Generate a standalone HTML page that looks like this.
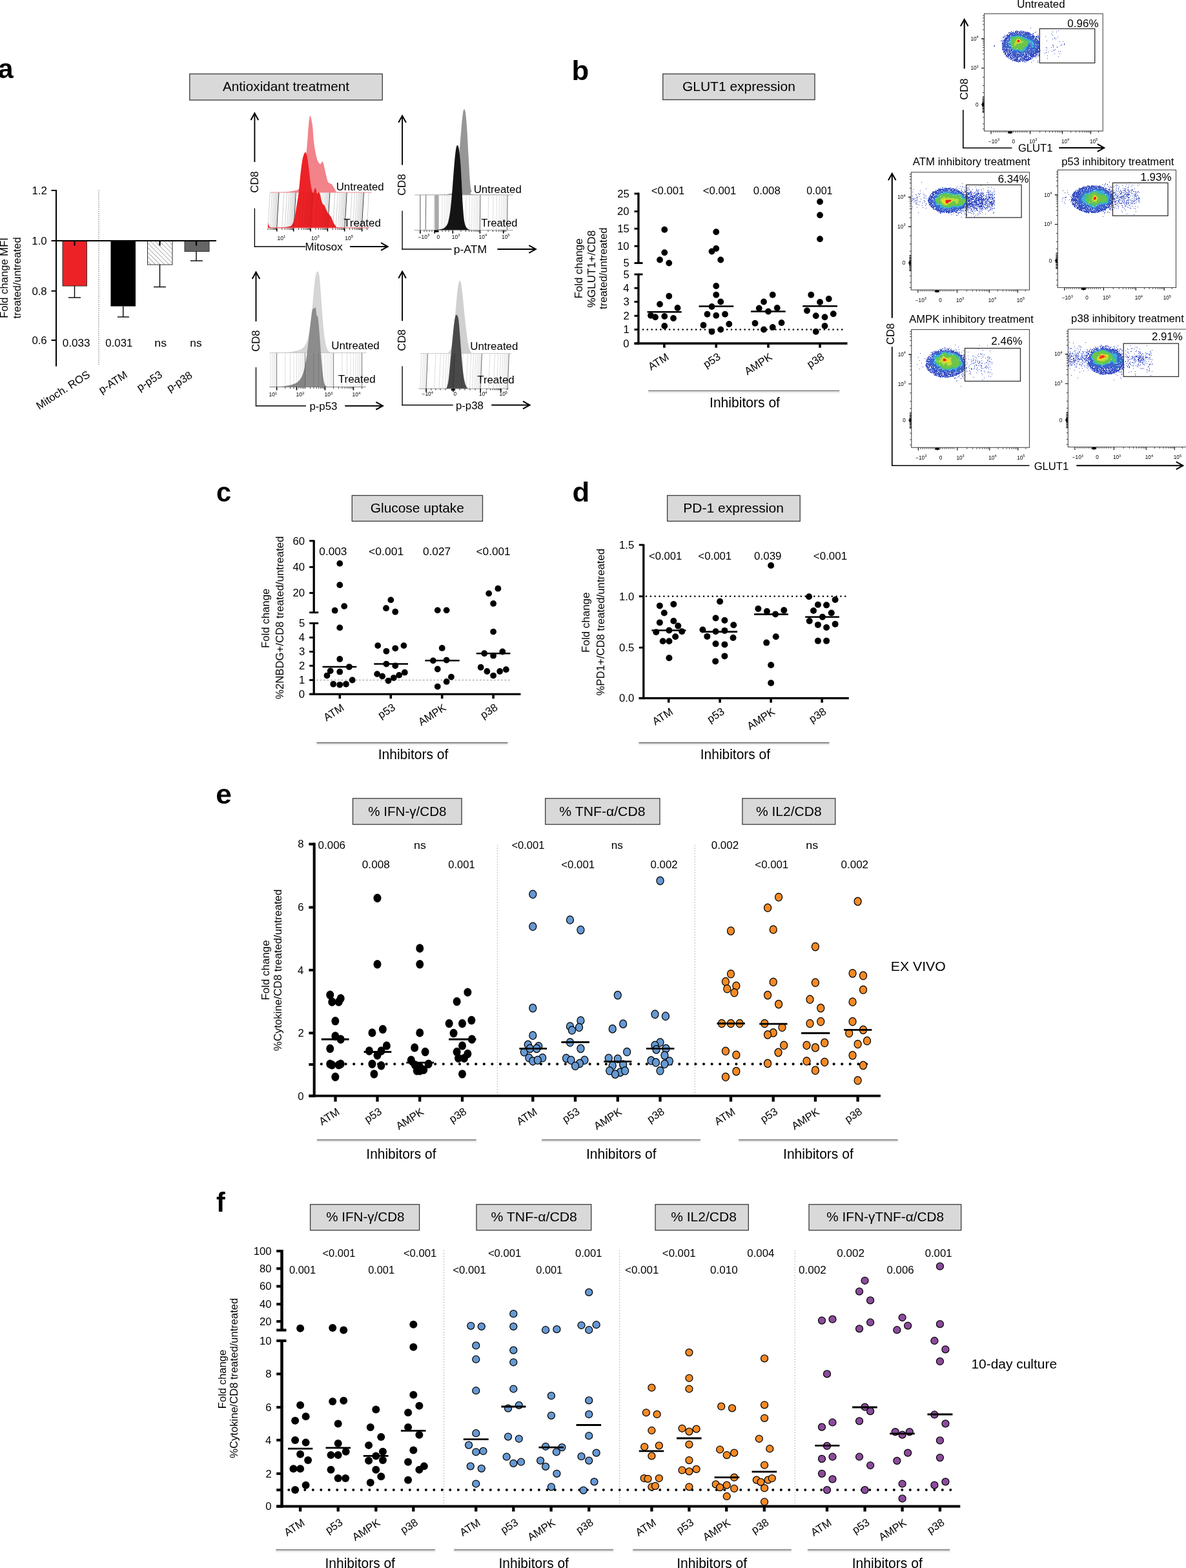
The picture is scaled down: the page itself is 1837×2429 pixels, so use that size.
<!DOCTYPE html>
<html><head><meta charset="utf-8"><title>Figure</title>
<style>html,body{margin:0;padding:0;background:#fff;overflow:hidden;width:1837px;height:2429px;}svg{display:block;}
text{font-family:"Liberation Sans",Arial,Helvetica,sans-serif;}</style></head>
<body><svg width="1837" height="2429" viewBox="0 0 1837 2429">
<rect width="1837" height="2429" fill="#fff"/>
<defs>
<pattern id="hatch" patternUnits="userSpaceOnUse" width="5" height="5" patternTransform="rotate(-45)"><rect width="5" height="5" fill="#fff"/><line x1="0" y1="0" x2="0" y2="5" stroke="#777" stroke-width="1.2"/></pattern>
</defs>
<text x="-3.36" y="121.4" style="font-size:43px;font-weight:bold">a</text>
<rect x="293.75" y="114.5" width="298.5" height="40.5" fill="#d9d9d9" stroke="#3a3a3a" stroke-width="1.3"/>
<text x="344.96" y="141.25" style="font-size:20.8px" textLength="196.19" lengthAdjust="spacingAndGlyphs">Antioxidant treatment</text>
<line x1="87" y1="294" x2="87" y2="567.5" stroke="#000" stroke-width="2"/>
<line x1="79.5" y1="295" x2="87" y2="295" stroke="#000" stroke-width="2"/>
<text x="49.49" y="300.9" style="font-size:16.8px">1.2</text>
<line x1="79.5" y1="373" x2="87" y2="373" stroke="#000" stroke-width="2"/>
<text x="49.3" y="378.9" style="font-size:16.8px">1.0</text>
<line x1="79.5" y1="450.75" x2="87" y2="450.75" stroke="#000" stroke-width="2"/>
<text x="49.38" y="456.65" style="font-size:16.8px">0.8</text>
<line x1="79.5" y1="527" x2="87" y2="527" stroke="#000" stroke-width="2"/>
<text x="49.38" y="532.9" style="font-size:16.8px">0.6</text>
<line x1="153" y1="295" x2="153" y2="566" stroke="#444" stroke-width="1" stroke-dasharray="1.2,2"/>
<rect x="97" y="373" width="37.5" height="70" fill="#ec2227" stroke="#333" stroke-width="1"/>
<rect x="171.5" y="373" width="38.5" height="101.5" fill="#000"/>
<rect x="228.5" y="373" width="38.5" height="37" fill="url(#hatch)" stroke="#333" stroke-width="1"/>
<rect x="286" y="373" width="38" height="16.5" fill="#656565" stroke="#333" stroke-width="1"/>
<line x1="115.5" y1="443" x2="115.5" y2="461" stroke="#000" stroke-width="1.4"/>
<line x1="106" y1="461" x2="125" y2="461" stroke="#000" stroke-width="1.4"/>
<line x1="115.5" y1="373" x2="115.5" y2="380.5" stroke="#000" stroke-width="2.2"/>
<line x1="190.75" y1="474.5" x2="190.75" y2="491" stroke="#000" stroke-width="1.4"/>
<line x1="182" y1="491" x2="200" y2="491" stroke="#000" stroke-width="1.4"/>
<line x1="190.75" y1="373" x2="190.75" y2="380.5" stroke="#000" stroke-width="2.2"/>
<line x1="247.5" y1="410" x2="247.5" y2="444.5" stroke="#000" stroke-width="1.4"/>
<line x1="238" y1="444.5" x2="257" y2="444.5" stroke="#000" stroke-width="1.4"/>
<line x1="247.5" y1="373" x2="247.5" y2="380.5" stroke="#000" stroke-width="2.2"/>
<line x1="304" y1="389.5" x2="304" y2="404" stroke="#000" stroke-width="1.4"/>
<line x1="295" y1="404" x2="314" y2="404" stroke="#000" stroke-width="1.4"/>
<line x1="304" y1="373" x2="304" y2="380.5" stroke="#000" stroke-width="2.2"/>
<line x1="86" y1="373" x2="335" y2="373" stroke="#000" stroke-width="2.2"/>
<text x="96.83" y="537" style="font-size:16.8px" textLength="42.72" lengthAdjust="spacingAndGlyphs">0.033</text>
<text x="163.34" y="537" style="font-size:16.8px" textLength="41.97" lengthAdjust="spacingAndGlyphs">0.031</text>
<text x="239.32" y="537" style="font-size:16.8px" textLength="18.83" lengthAdjust="spacingAndGlyphs">ns</text>
<text x="294.35" y="537" style="font-size:16.8px" textLength="18.27" lengthAdjust="spacingAndGlyphs">ns</text>
<text x="45.55" y="583.5" style="font-size:16.8px" transform="rotate(-33 140 583.5)">Mitoch. ROS</text>
<text x="149.48" y="583.5" style="font-size:16.8px" transform="rotate(-33 198.5 583.5)">p-ATM</text>
<text x="209.77" y="583.5" style="font-size:16.8px" transform="rotate(-33 252 583.5)">p-p53</text>
<text x="256.26" y="584.5" style="font-size:16.8px" transform="rotate(-33 298.5 584.5)">p-p38</text>
<text x="-50.01" y="430.5" style="font-size:16.8px" textLength="124.59" lengthAdjust="spacingAndGlyphs" transform="rotate(-90 12.2 430.5)">Fold change MFI</text>
<text x="-30.3" y="430.8" style="font-size:16.8px" textLength="126.42" lengthAdjust="spacingAndGlyphs" transform="rotate(-90 32.5 430.8)">treated/untreated</text>
<line x1="394.4" y1="175.4" x2="394.4" y2="251" stroke="#000" stroke-width="1.9"/>
<path d="M388.6 185.9 L394.4 175.4 L400.2 185.9" fill="none" stroke="#000" stroke-width="2" stroke-linejoin="miter"/>
<text x="382.73" y="281.8" style="font-size:16.8px" transform="rotate(-90 399.6 281.8)">CD8</text>
<line x1="394.4" y1="322.7" x2="394.4" y2="382.65" stroke="#000" stroke-width="1.35"/>
<line x1="393.75" y1="382" x2="473" y2="382" stroke="#000" stroke-width="1.35"/>
<text x="472.62" y="388.3" style="font-size:16.8px" textLength="57.96" lengthAdjust="spacingAndGlyphs">Mitosox</text>
<line x1="542" y1="382" x2="600.6" y2="382" stroke="#000" stroke-width="1.9"/>
<path d="M590.1 376.2 L600.6 382 L590.1 387.8" fill="none" stroke="#000" stroke-width="2"/>
<path d="M418.58 298.03 C422.05 297.98 434.13 297.98 439.4 297.72 C444.67 297.47 447.11 296.95 450.2 296.49 C453.28 296.03 455.85 295.54 457.91 294.95 C459.97 294.36 460.99 294.87 462.54 292.94 C464.08 291.01 465.62 288.83 467.16 283.38 C468.7 277.93 470.38 270.01 471.79 260.25 C473.2 250.48 474.62 235.83 475.64 224.77 C476.67 213.72 477.26 201.38 477.96 193.93 C478.65 186.48 479.24 182.11 479.81 180.05 C480.37 177.99 480.63 179.02 481.35 181.59 C482.07 184.16 483.36 189.3 484.13 195.47 C484.9 201.64 485.34 212.44 485.98 218.61 C486.62 224.77 487.13 227.86 487.98 232.49 C488.83 237.11 490.04 243.02 491.07 246.37 C492.1 249.71 493.25 251.25 494.15 252.54 C495.05 253.82 495.69 254.46 496.47 254.08 C497.24 253.69 498.06 250.48 498.78 250.22 C499.5 249.97 500.09 250.61 500.78 252.54 C501.48 254.46 502.17 258.45 502.94 261.79 C503.71 265.13 504.56 269.24 505.41 272.58 C506.26 275.93 507.08 279.91 508.03 281.84 C508.98 283.77 510.09 283.51 511.12 284.15 C512.14 284.79 513.17 284.54 514.2 285.69 C515.23 286.85 516.26 289.42 517.29 291.09 C518.31 292.76 519.21 294.61 520.37 295.72 C521.53 296.82 514.97 297.34 524.23 297.72 C533.48 298.11 567.28 297.98 575.89 298.03 L575.89 298.03 L418.58 298.03 Z" fill="#f2838a"/>
<line x1="418.58" y1="298.03" x2="575.89" y2="298.03" stroke="#f08a90" stroke-width="1"/>
<path d="M415.05 352.78L418.25 298.34M418.33 352.78L421.53 298.34M420.88 352.78L424.08 298.34M422.97 352.78L426.17 298.34M424.73 352.78L427.93 298.34M426.25 352.78L429.45 298.34M427.6 352.78L430.8 298.34M436.72 352.78L439.92 298.34M441.35 352.78L444.55 298.34M444.63 352.78L447.83 298.34M447.18 352.78L450.38 298.34M449.27 352.78L452.47 298.34M451.03 352.78L454.23 298.34M452.55 352.78L455.75 298.34M453.9 352.78L457.1 298.34M463.02 352.78L466.22 298.34M467.65 352.78L470.85 298.34M470.93 352.78L474.13 298.34M473.48 352.78L476.68 298.34M475.57 352.78L478.77 298.34M477.33 352.78L480.53 298.34M478.85 352.78L482.05 298.34M480.2 352.78L483.4 298.34M489.32 352.78L492.52 298.34M493.95 352.78L497.15 298.34M497.23 352.78L500.43 298.34M499.78 352.78L502.98 298.34M501.87 352.78L505.07 298.34M503.63 352.78L506.83 298.34M505.15 352.78L508.35 298.34M506.5 352.78L509.7 298.34M515.62 352.78L518.82 298.34M520.25 352.78L523.45 298.34M523.53 352.78L526.73 298.34M526.08 352.78L529.28 298.34M528.17 352.78L531.37 298.34M529.93 352.78L533.13 298.34M531.45 352.78L534.65 298.34M532.8 352.78L536 298.34M541.92 352.78L545.12 298.34M546.55 352.78L549.75 298.34M549.83 352.78L553.03 298.34M552.38 352.78L555.58 298.34M554.47 352.78L557.67 298.34M556.23 352.78L559.43 298.34M557.75 352.78L560.95 298.34M559.1 352.78L562.3 298.34M568.22 352.78L571.42 298.34" fill="none" stroke="#bdbdbd" stroke-width="0.7"/>
<path d="M428.8 352.78L432 298.34M455.1 352.78L458.3 298.34M481.4 352.78L484.6 298.34M507.7 352.78L510.9 298.34M534 352.78L537.2 298.34M560.3 352.78L563.5 298.34" fill="none" stroke="#444" stroke-width="1"/>
<path d="M415.03 345.07 C415.24 345.71 415.68 347.77 416.27 348.93 C416.86 350.08 417.3 351.42 418.58 352.01 C419.87 352.6 420.51 352.47 423.98 352.47 C427.45 352.47 435.55 352.27 439.4 352.01 C443.26 351.75 445.06 351.45 447.11 350.93 C449.17 350.42 450.33 350.67 451.74 348.93 C453.15 347.18 454.44 344.69 455.6 340.44 C456.75 336.2 457.52 330.42 458.68 323.48 C459.84 316.54 461.38 308.06 462.54 298.8 C463.69 289.55 464.59 276.7 465.62 267.96 C466.65 259.22 467.68 251.56 468.7 246.37 C469.73 241.17 470.89 238.35 471.79 236.8 C472.69 235.26 473.33 235.52 474.1 237.11 C474.87 238.71 475.64 241.74 476.42 246.37 C477.19 250.99 477.96 258.7 478.73 264.87 C479.5 271.04 480.27 278.24 481.04 283.38 C481.81 288.52 482.64 293.15 483.36 295.72 C484.08 298.29 484.72 299.32 485.36 298.8 C486 298.29 486.59 293.79 487.21 292.63 C487.83 291.48 488.42 290.71 489.06 291.86 C489.7 293.02 490.4 298.55 491.07 299.57 C491.74 300.6 492.38 298.03 493.07 298.03 C493.77 298.03 494.54 297.9 495.23 299.57 C495.93 301.25 496.52 305.36 497.24 308.06 C497.96 310.76 498.78 314.23 499.55 315.77 C500.32 317.31 501.09 316.28 501.86 317.31 C502.63 318.34 503.28 320.01 504.18 321.94 C505.08 323.86 506.23 327.08 507.26 328.88 C508.29 330.68 509.32 331.32 510.35 332.73 C511.37 334.15 512.4 335.3 513.43 337.36 C514.46 339.42 515.36 342.89 516.51 345.07 C517.67 347.26 518.83 349.24 520.37 350.47 C521.91 351.7 517.16 352.09 525.77 352.47 C534.38 352.86 564.32 352.73 572.04 352.78 L572.04 352.78 L415.03 352.78 Z" fill="#ec2227"/>
<clipPath id="hc1"><path d="M415.03 345.07 C415.24 345.71 415.68 347.77 416.27 348.93 C416.86 350.08 417.3 351.42 418.58 352.01 C419.87 352.6 420.51 352.47 423.98 352.47 C427.45 352.47 435.55 352.27 439.4 352.01 C443.26 351.75 445.06 351.45 447.11 350.93 C449.17 350.42 450.33 350.67 451.74 348.93 C453.15 347.18 454.44 344.69 455.6 340.44 C456.75 336.2 457.52 330.42 458.68 323.48 C459.84 316.54 461.38 308.06 462.54 298.8 C463.69 289.55 464.59 276.7 465.62 267.96 C466.65 259.22 467.68 251.56 468.7 246.37 C469.73 241.17 470.89 238.35 471.79 236.8 C472.69 235.26 473.33 235.52 474.1 237.11 C474.87 238.71 475.64 241.74 476.42 246.37 C477.19 250.99 477.96 258.7 478.73 264.87 C479.5 271.04 480.27 278.24 481.04 283.38 C481.81 288.52 482.64 293.15 483.36 295.72 C484.08 298.29 484.72 299.32 485.36 298.8 C486 298.29 486.59 293.79 487.21 292.63 C487.83 291.48 488.42 290.71 489.06 291.86 C489.7 293.02 490.4 298.55 491.07 299.57 C491.74 300.6 492.38 298.03 493.07 298.03 C493.77 298.03 494.54 297.9 495.23 299.57 C495.93 301.25 496.52 305.36 497.24 308.06 C497.96 310.76 498.78 314.23 499.55 315.77 C500.32 317.31 501.09 316.28 501.86 317.31 C502.63 318.34 503.28 320.01 504.18 321.94 C505.08 323.86 506.23 327.08 507.26 328.88 C508.29 330.68 509.32 331.32 510.35 332.73 C511.37 334.15 512.4 335.3 513.43 337.36 C514.46 339.42 515.36 342.89 516.51 345.07 C517.67 347.26 518.83 349.24 520.37 350.47 C521.91 351.7 517.16 352.09 525.77 352.47 C534.38 352.86 564.32 352.73 572.04 352.78 L572.04 352.78 L415.03 352.78 Z"/></clipPath>
<g clip-path="url(#hc1)" opacity="0.16">
<path d="M415.05 352.78L418.25 298.34M418.33 352.78L421.53 298.34M420.88 352.78L424.08 298.34M422.97 352.78L426.17 298.34M424.73 352.78L427.93 298.34M426.25 352.78L429.45 298.34M427.6 352.78L430.8 298.34M436.72 352.78L439.92 298.34M441.35 352.78L444.55 298.34M444.63 352.78L447.83 298.34M447.18 352.78L450.38 298.34M449.27 352.78L452.47 298.34M451.03 352.78L454.23 298.34M452.55 352.78L455.75 298.34M453.9 352.78L457.1 298.34M463.02 352.78L466.22 298.34M467.65 352.78L470.85 298.34M470.93 352.78L474.13 298.34M473.48 352.78L476.68 298.34M475.57 352.78L478.77 298.34M477.33 352.78L480.53 298.34M478.85 352.78L482.05 298.34M480.2 352.78L483.4 298.34M489.32 352.78L492.52 298.34M493.95 352.78L497.15 298.34M497.23 352.78L500.43 298.34M499.78 352.78L502.98 298.34M501.87 352.78L505.07 298.34M503.63 352.78L506.83 298.34M505.15 352.78L508.35 298.34M506.5 352.78L509.7 298.34M515.62 352.78L518.82 298.34M520.25 352.78L523.45 298.34M523.53 352.78L526.73 298.34M526.08 352.78L529.28 298.34M528.17 352.78L531.37 298.34M529.93 352.78L533.13 298.34M531.45 352.78L534.65 298.34M532.8 352.78L536 298.34M541.92 352.78L545.12 298.34M546.55 352.78L549.75 298.34M549.83 352.78L553.03 298.34M552.38 352.78L555.58 298.34M554.47 352.78L557.67 298.34M556.23 352.78L559.43 298.34M557.75 352.78L560.95 298.34M559.1 352.78L562.3 298.34M568.22 352.78L571.42 298.34" fill="none" stroke="#7a1010" stroke-width="0.7"/>
<path d="M428.8 352.78L432 298.34M455.1 352.78L458.3 298.34M481.4 352.78L484.6 298.34M507.7 352.78L510.9 298.34M534 352.78L537.2 298.34M560.3 352.78L563.5 298.34" fill="none" stroke="#300" stroke-width="1"/>
</g>
<line x1="415.03" y1="352.94" x2="572.04" y2="352.94" stroke="#ec4a50" stroke-width="1"/>
<path d="M428.8 353.6v5M454.7 353.6v5M481 353.6v5M507.4 353.6v5M533.7 353.6v5M560.6 353.6v5" fill="none" stroke="#000" stroke-width="1.6"/>
<path d="M415.05 353.6v2.5M418.33 353.6v2.5M420.88 353.6v2.5M422.97 353.6v2.5M424.73 353.6v2.5M426.25 353.6v2.5M427.6 353.6v2.5M436.72 353.6v2.5M441.35 353.6v2.5M444.63 353.6v2.5M447.18 353.6v2.5M449.27 353.6v2.5M451.03 353.6v2.5M452.55 353.6v2.5M453.9 353.6v2.5M462.62 353.6v2.5M467.25 353.6v2.5M470.53 353.6v2.5M473.08 353.6v2.5M475.17 353.6v2.5M476.93 353.6v2.5M478.45 353.6v2.5M479.8 353.6v2.5M488.92 353.6v2.5M493.55 353.6v2.5M496.83 353.6v2.5M499.38 353.6v2.5M501.47 353.6v2.5M503.23 353.6v2.5M504.75 353.6v2.5M506.1 353.6v2.5M515.32 353.6v2.5M519.95 353.6v2.5M523.23 353.6v2.5M525.78 353.6v2.5M527.87 353.6v2.5M529.63 353.6v2.5M531.15 353.6v2.5M532.5 353.6v2.5M541.62 353.6v2.5M546.25 353.6v2.5M549.53 353.6v2.5M552.08 353.6v2.5M554.17 353.6v2.5M555.93 353.6v2.5M557.45 353.6v2.5M558.8 353.6v2.5M568.52 353.6v2.5" fill="none" stroke="#000" stroke-width="0.8"/>
<text x="429.4" y="372" style="font-size:8.6px">10<tspan dy="-3.6" style="font-size:5.85px">1</tspan></text>
<text x="481.9" y="372" style="font-size:8.6px">10<tspan dy="-3.6" style="font-size:5.85px">3</tspan></text>
<text x="534.3" y="372" style="font-size:8.6px">10<tspan dy="-3.6" style="font-size:5.85px">5</tspan></text>
<text x="520.7" y="295" style="font-size:16.8px" textLength="73.99" lengthAdjust="spacingAndGlyphs">Untreated</text>
<text x="532.33" y="351.2" style="font-size:16.8px" textLength="57.45" lengthAdjust="spacingAndGlyphs">Treated</text>
<line x1="623.1" y1="179.3" x2="623.1" y2="255.6" stroke="#000" stroke-width="1.9"/>
<path d="M617.3 189.8 L623.1 179.3 L628.9 189.8" fill="none" stroke="#000" stroke-width="2" stroke-linejoin="miter"/>
<text x="611.43" y="286.2" style="font-size:16.8px" transform="rotate(-90 628.3 286.2)">CD8</text>
<line x1="623.1" y1="326.6" x2="623.1" y2="386.65" stroke="#000" stroke-width="1.35"/>
<line x1="622.45" y1="386" x2="699.5" y2="386" stroke="#000" stroke-width="1.35"/>
<text x="702.7" y="392.4" style="font-size:16.8px" textLength="51.41" lengthAdjust="spacingAndGlyphs">p-ATM</text>
<line x1="770.4" y1="386" x2="829.8" y2="386" stroke="#000" stroke-width="1.9"/>
<path d="M819.3 380.2 L829.8 386 L819.3 391.8" fill="none" stroke="#000" stroke-width="2"/>
<path d="M642.41 301.91 C649.74 301.84 677.5 301.71 686.37 301.45 C695.23 301.19 693.05 300.94 695.62 300.37 C698.19 299.8 699.99 300.5 701.79 298.06 C703.59 295.61 705 293.69 706.42 285.72 C707.83 277.75 708.99 263.87 710.27 250.25 C711.56 236.62 713.02 216.32 714.13 203.98 C715.23 191.64 716.08 182 716.9 176.22 C717.73 170.43 718.34 169.28 719.06 169.28 C719.78 169.28 720.5 170.95 721.22 176.22 C721.94 181.49 722.64 189.84 723.38 200.89 C724.13 211.95 724.92 229.17 725.69 242.54 C726.47 255.9 727.24 272.22 728.01 281.09 C728.78 289.96 729.29 292.4 730.32 295.74 C731.35 299.08 723.46 300.11 734.18 301.14 C744.9 302.17 784.56 301.78 794.63 301.91 L794.63 301.91 L642.41 301.91 Z" fill="#969696"/>
<line x1="642.41" y1="301.91" x2="794.63" y2="301.91" stroke="#aaa" stroke-width="1"/>
<path d="M671.87 356.66L672.47 302.22M679.29 356.66L679.89 302.22M684.55 356.66L685.15 302.22M688.63 356.66L689.23 302.22M691.96 356.66L692.56 302.22M694.78 356.66L695.38 302.22M697.22 356.66L697.82 302.22M699.37 356.66L699.97 302.22M713.97 356.66L714.57 302.22M721.39 356.66L721.99 302.22M726.65 356.66L727.25 302.22M730.73 356.66L731.33 302.22M734.06 356.66L734.66 302.22M736.88 356.66L737.48 302.22M739.32 356.66L739.92 302.22M741.47 356.66L742.07 302.22M756.07 356.66L756.67 302.22M763.49 356.66L764.09 302.22M768.75 356.66L769.35 302.22M772.83 356.66L773.43 302.22M776.16 356.66L776.76 302.22M778.98 356.66L779.58 302.22M781.42 356.66L782.02 302.22M783.57 356.66L784.17 302.22" fill="none" stroke="#cfcfcf" stroke-width="0.7"/>
<path d="M659.2 356.66L659.8 302.22M701.3 356.66L701.9 302.22M743.4 356.66L744 302.22M785.5 356.66L786.1 302.22" fill="none" stroke="#666" stroke-width="1"/>
<rect x="673.26" y="302.22" width="6.17" height="54.44" fill="#a8a8a8"/>
<line x1="650.89" y1="302.22" x2="650.89" y2="356.66" stroke="#555" stroke-width="1"/>
<path d="M672.49 356.35 C674.29 356.15 680.45 355.84 683.28 355.12 C686.11 354.4 687.65 353.84 689.45 352.04 C691.25 350.24 692.66 349.21 694.08 344.32 C695.49 339.44 696.78 331.99 697.93 322.73 C699.09 313.48 700.07 300.11 701.02 288.8 C701.97 277.49 702.79 264.38 703.64 254.87 C704.49 245.36 705.31 236.7 706.11 231.74 C706.9 226.78 707.65 225.37 708.42 225.11 C709.19 224.85 709.96 226.01 710.73 230.2 C711.51 234.39 712.35 241.76 713.05 250.25 C713.74 258.73 714.26 269.52 714.9 281.09 C715.54 292.66 716.13 309.11 716.9 319.65 C717.67 330.19 718.45 338.67 719.52 344.32 C720.6 349.98 721.71 351.57 723.38 353.58 C725.05 355.58 727.75 355.84 729.55 356.35 C731.35 356.87 733.41 356.61 734.18 356.66 L734.18 356.66 L672.49 356.66 Z" fill="#141414"/>
<line x1="641.64" y1="356.66" x2="794.63" y2="356.66" stroke="#999" stroke-width="1"/>
<path d="M650.9 356.7v5M673.3 356.7v5M701.3 356.7v5M743.4 356.7v5M779.7 356.7v5" fill="none" stroke="#000" stroke-width="1.6"/>
<path d="M713.97 356.7v2.5M721.39 356.7v2.5M726.65 356.7v2.5M730.73 356.7v2.5M734.06 356.7v2.5M736.88 356.7v2.5M739.32 356.7v2.5M741.47 356.7v2.5M756.07 356.7v2.5M763.49 356.7v2.5M768.75 356.7v2.5M772.83 356.7v2.5M776.16 356.7v2.5M778.98 356.7v2.5M781.42 356.7v2.5M783.57 356.7v2.5M657 356.7v2.5M661 356.7v2.5M665 356.7v2.5M669 356.7v2.5M685 356.7v2.5M690 356.7v2.5M695 356.7v2.5" fill="none" stroke="#000" stroke-width="0.8"/>
<rect x="672.5" y="356.7" width="7" height="3" fill="#000"/>
<text x="647.7" y="369.8" style="font-size:8.4px">−10<tspan dy="-3.6" style="font-size:5.71px">3</tspan></text>
<text x="676.4" y="369.8" style="font-size:8.4px">0</text>
<text x="699.8" y="369.8" style="font-size:8.4px">10<tspan dy="-3.6" style="font-size:5.71px">3</tspan></text>
<text x="741.6" y="369.8" style="font-size:8.4px">10<tspan dy="-3.6" style="font-size:5.71px">4</tspan></text>
<text x="777" y="369.8" style="font-size:8.4px">10<tspan dy="-3.6" style="font-size:5.71px">5</tspan></text>
<text x="733.7" y="298.8" style="font-size:16.8px" textLength="74.09" lengthAdjust="spacingAndGlyphs">Untreated</text>
<text x="745.33" y="350.5" style="font-size:16.8px" textLength="56.22" lengthAdjust="spacingAndGlyphs">Treated</text>
<line x1="396.5" y1="421.6" x2="396.5" y2="497.9" stroke="#000" stroke-width="1.9"/>
<path d="M390.7 432.1 L396.5 421.6 L402.3 432.1" fill="none" stroke="#000" stroke-width="2" stroke-linejoin="miter"/>
<text x="384.83" y="528" style="font-size:16.8px" transform="rotate(-90 401.7 528)">CD8</text>
<line x1="396.5" y1="568.9" x2="396.5" y2="629.35" stroke="#000" stroke-width="1.35"/>
<line x1="395.85" y1="628.7" x2="474" y2="628.7" stroke="#000" stroke-width="1.35"/>
<text x="479.42" y="635" style="font-size:16.8px" textLength="42.92" lengthAdjust="spacingAndGlyphs">p-p53</text>
<line x1="534.3" y1="628.7" x2="592.9" y2="628.7" stroke="#000" stroke-width="1.9"/>
<path d="M582.4 622.9 L592.9 628.7 L582.4 634.5" fill="none" stroke="#000" stroke-width="2"/>
<path d="M417.81 546.49 C422.18 546.41 437.6 546.36 444.03 546.03 C450.45 545.69 452.77 545.18 456.37 544.48 C459.97 543.79 463.05 543.2 465.62 541.86 C468.19 540.53 469.99 538.91 471.79 536.47 C473.59 534.02 475 531.84 476.42 527.21 C477.83 522.58 479.11 515.9 480.27 508.7 C481.43 501.51 482.4 492.77 483.36 484.03 C484.31 475.29 485.08 465.26 485.98 456.27 C486.88 447.27 487.78 435.96 488.75 430.05 C489.73 424.14 490.94 421.31 491.84 420.8 C492.74 420.28 493.43 422.08 494.15 426.96 C494.87 431.85 495.51 441.87 496.16 450.1 C496.8 458.32 497.31 467.06 498.01 476.32 C498.7 485.57 499.5 497.14 500.32 505.62 C501.14 514.1 501.91 521.3 502.94 527.21 C503.97 533.12 505.13 538.01 506.49 541.09 C507.85 544.18 509.45 544.82 511.12 545.72 C512.79 546.62 507.13 546.36 516.51 546.49 C525.9 546.62 558.93 546.49 567.41 546.49 L567.41 546.49 L417.81 546.49 Z" fill="#d6d6d6" stroke="#9a9a9a" stroke-width="0.5" stroke-dasharray="1,1"/>
<line x1="417.81" y1="546.49" x2="567.41" y2="546.49" stroke="#c8c8c8" stroke-width="1"/>
<path d="M418.84 599.39L418.84 546.8M421.78 599.39L421.78 546.8M424.34 599.39L424.34 546.8M426.59 599.39L426.59 546.8M441.85 599.39L441.85 546.8M449.59 599.39L449.59 546.8M455.09 599.39L455.09 546.8M459.35 599.39L459.35 546.8M462.84 599.39L462.84 546.8M465.78 599.39L465.78 546.8M468.34 599.39L468.34 546.8M470.59 599.39L470.59 546.8M485.85 599.39L485.85 546.8M493.59 599.39L493.59 546.8M499.09 599.39L499.09 546.8M503.35 599.39L503.35 546.8M506.84 599.39L506.84 546.8M509.78 599.39L509.78 546.8M512.34 599.39L512.34 546.8M514.59 599.39L514.59 546.8M529.85 599.39L529.85 546.8M537.59 599.39L537.59 546.8M543.09 599.39L543.09 546.8M547.35 599.39L547.35 546.8M550.84 599.39L550.84 546.8M553.78 599.39L553.78 546.8M556.34 599.39L556.34 546.8M558.59 599.39L558.59 546.8" fill="none" stroke="#d0d0d0" stroke-width="0.7"/>
<path d="M428.6 599.39L428.6 546.8M472.6 599.39L472.6 546.8M516.6 599.39L516.6 546.8M560.6 599.39L560.6 546.8" fill="none" stroke="#777" stroke-width="1"/>
<path d="M417.81 599.39 C420.64 599.34 430.41 599.34 434.77 599.08 C439.14 598.82 440.94 598.39 444.03 597.85 C447.11 597.31 450.45 596.82 453.28 595.84 C456.11 594.87 458.81 593.66 460.99 591.99 C463.18 590.32 464.85 588.39 466.39 585.82 C467.93 583.25 469.09 580.42 470.25 576.56 C471.4 572.71 472.3 568.34 473.33 562.68 C474.36 557.03 475.52 549.32 476.42 542.63 C477.32 535.95 477.96 529.27 478.73 522.58 C479.5 515.9 480.27 508.96 481.04 502.54 C481.81 496.11 482.71 488.01 483.36 484.03 C484 480.04 484.26 479.66 484.9 478.63 C485.54 477.6 486.62 478.24 487.21 477.86 C487.8 477.47 488.06 475.55 488.45 476.32 C488.83 477.09 489.22 480.3 489.52 482.49 C489.83 484.67 489.91 488.14 490.3 489.43 C490.68 490.71 491.38 488.53 491.84 490.2 C492.3 491.87 492.61 494.82 493.07 499.45 C493.53 504.08 494.05 510.76 494.61 517.96 C495.18 525.16 495.85 534.92 496.47 542.63 C497.08 550.35 497.67 557.29 498.32 564.23 C498.96 571.17 499.6 579.13 500.32 584.28 C501.04 589.42 501.73 592.65 502.63 595.07 C503.53 597.49 503.92 598.05 505.72 598.77 C507.52 599.49 503.28 599.29 513.43 599.39 C523.58 599.49 557.77 599.39 566.64 599.39 L566.64 599.39 L417.81 599.39 Z" fill="#8c8c8c" stroke="#555" stroke-width="0.5" stroke-dasharray="1,1"/>
<clipPath id="hc2"><path d="M417.81 599.39 C420.64 599.34 430.41 599.34 434.77 599.08 C439.14 598.82 440.94 598.39 444.03 597.85 C447.11 597.31 450.45 596.82 453.28 595.84 C456.11 594.87 458.81 593.66 460.99 591.99 C463.18 590.32 464.85 588.39 466.39 585.82 C467.93 583.25 469.09 580.42 470.25 576.56 C471.4 572.71 472.3 568.34 473.33 562.68 C474.36 557.03 475.52 549.32 476.42 542.63 C477.32 535.95 477.96 529.27 478.73 522.58 C479.5 515.9 480.27 508.96 481.04 502.54 C481.81 496.11 482.71 488.01 483.36 484.03 C484 480.04 484.26 479.66 484.9 478.63 C485.54 477.6 486.62 478.24 487.21 477.86 C487.8 477.47 488.06 475.55 488.45 476.32 C488.83 477.09 489.22 480.3 489.52 482.49 C489.83 484.67 489.91 488.14 490.3 489.43 C490.68 490.71 491.38 488.53 491.84 490.2 C492.3 491.87 492.61 494.82 493.07 499.45 C493.53 504.08 494.05 510.76 494.61 517.96 C495.18 525.16 495.85 534.92 496.47 542.63 C497.08 550.35 497.67 557.29 498.32 564.23 C498.96 571.17 499.6 579.13 500.32 584.28 C501.04 589.42 501.73 592.65 502.63 595.07 C503.53 597.49 503.92 598.05 505.72 598.77 C507.52 599.49 503.28 599.29 513.43 599.39 C523.58 599.49 557.77 599.39 566.64 599.39 L566.64 599.39 L417.81 599.39 Z"/></clipPath>
<g clip-path="url(#hc2)" opacity="0.4">
<path d="M418.84 599.39L418.84 546.8M421.78 599.39L421.78 546.8M424.34 599.39L424.34 546.8M426.59 599.39L426.59 546.8M441.85 599.39L441.85 546.8M449.59 599.39L449.59 546.8M455.09 599.39L455.09 546.8M459.35 599.39L459.35 546.8M462.84 599.39L462.84 546.8M465.78 599.39L465.78 546.8M468.34 599.39L468.34 546.8M470.59 599.39L470.59 546.8M485.85 599.39L485.85 546.8M493.59 599.39L493.59 546.8M499.09 599.39L499.09 546.8M503.35 599.39L503.35 546.8M506.84 599.39L506.84 546.8M509.78 599.39L509.78 546.8M512.34 599.39L512.34 546.8M514.59 599.39L514.59 546.8M529.85 599.39L529.85 546.8M537.59 599.39L537.59 546.8M543.09 599.39L543.09 546.8M547.35 599.39L547.35 546.8M550.84 599.39L550.84 546.8M553.78 599.39L553.78 546.8M556.34 599.39L556.34 546.8M558.59 599.39L558.59 546.8" fill="none" stroke="#444" stroke-width="0.7"/>
<path d="M428.6 599.39L428.6 546.8M472.6 599.39L472.6 546.8M516.6 599.39L516.6 546.8M560.6 599.39L560.6 546.8" fill="none" stroke="#222" stroke-width="1"/>
</g>
<line x1="417.81" y1="599.54" x2="566.64" y2="599.54" stroke="#888" stroke-width="1"/>
<path d="M428.6 599.6v5M459.5 599.6v5M503.4 599.6v5M547.4 599.6v5" fill="none" stroke="#000" stroke-width="1.6"/>
<path d="M441.85 599.6v2.5M449.59 599.6v2.5M455.09 599.6v2.5M459.35 599.6v2.5M462.84 599.6v2.5M465.78 599.6v2.5M468.34 599.6v2.5M470.59 599.6v2.5M472.75 599.6v2.5M480.49 599.6v2.5M485.99 599.6v2.5M490.25 599.6v2.5M493.74 599.6v2.5M496.68 599.6v2.5M499.24 599.6v2.5M501.49 599.6v2.5M516.65 599.6v2.5M524.39 599.6v2.5M529.89 599.6v2.5M534.15 599.6v2.5M537.64 599.6v2.5M540.58 599.6v2.5M543.14 599.6v2.5M545.39 599.6v2.5M560.65 599.6v2.5" fill="none" stroke="#000" stroke-width="0.8"/>
<text x="416.5" y="614.4" style="font-size:8.6px">10<tspan dy="-3.6" style="font-size:5.85px">1</tspan></text>
<text x="458.6" y="614.4" style="font-size:8.6px">10<tspan dy="-3.6" style="font-size:5.85px">2</tspan></text>
<text x="502.5" y="614.4" style="font-size:8.6px">10<tspan dy="-3.6" style="font-size:5.85px">3</tspan></text>
<text x="545.5" y="614.4" style="font-size:8.6px">10<tspan dy="-3.6" style="font-size:5.85px">4</tspan></text>
<text x="513.39" y="541.4" style="font-size:16.8px" textLength="74.4" lengthAdjust="spacingAndGlyphs">Untreated</text>
<text x="523.82" y="592.8" style="font-size:16.8px" textLength="57.76" lengthAdjust="spacingAndGlyphs">Treated</text>
<line x1="623.1" y1="420.5" x2="623.1" y2="497.1" stroke="#000" stroke-width="1.9"/>
<path d="M617.3 431 L623.1 420.5 L628.9 431" fill="none" stroke="#000" stroke-width="2" stroke-linejoin="miter"/>
<text x="611.43" y="526.8" style="font-size:16.8px" transform="rotate(-90 628.3 526.8)">CD8</text>
<line x1="623.1" y1="567.3" x2="623.1" y2="628.15" stroke="#000" stroke-width="1.35"/>
<line x1="622.45" y1="627.5" x2="701.8" y2="627.5" stroke="#000" stroke-width="1.35"/>
<text x="705.92" y="633.8" style="font-size:16.8px" textLength="42.91" lengthAdjust="spacingAndGlyphs">p-p38</text>
<line x1="761.2" y1="627.5" x2="820.5" y2="627.5" stroke="#000" stroke-width="1.9"/>
<path d="M810 621.7 L820.5 627.5 L810 633.3" fill="none" stroke="#000" stroke-width="2"/>
<path d="M650.89 547.57 C657.58 547.52 683.67 547.57 690.99 547.26 C698.32 546.95 693.56 547 694.85 545.72 C696.13 544.43 697.55 543.41 698.7 539.55 C699.86 535.69 700.76 530.81 701.79 522.58 C702.82 514.36 703.85 501.25 704.87 490.2 C705.9 479.14 707.06 464.75 707.96 456.27 C708.86 447.79 709.55 442.85 710.27 439.3 C710.99 435.76 711.58 434.73 712.28 434.98 C712.97 435.24 713.66 436.53 714.44 440.85 C715.21 445.16 715.98 452.41 716.9 460.89 C717.83 469.38 718.91 481.71 719.99 491.74 C721.07 501.76 722.25 513.07 723.38 521.04 C724.51 529.01 725.62 535.31 726.77 539.55 C727.93 543.79 729.09 545.15 730.32 546.49 C731.55 547.83 723.89 547.39 734.18 547.57 C744.46 547.75 782.37 547.57 792.01 547.57 L792.01 547.57 L650.89 547.57 Z" fill="#d0d0d0"/>
<line x1="650.89" y1="547.57" x2="792.01" y2="547.57" stroke="#ccc" stroke-width="1"/>
<path d="M650.78 602.01L653.08 547.88M653.59 602.01L655.89 547.88M656.03 602.01L658.33 547.88M658.18 602.01L660.48 547.88M672.74 602.01L675.04 547.88M680.14 602.01L682.44 547.88M685.39 602.01L687.69 547.88M689.46 602.01L691.76 547.88M692.78 602.01L695.08 547.88M695.59 602.01L697.89 547.88M698.03 602.01L700.33 547.88M700.18 602.01L702.48 547.88M714.74 602.01L717.04 547.88M722.14 602.01L724.44 547.88M727.39 602.01L729.69 547.88M731.46 602.01L733.76 547.88M734.78 602.01L737.08 547.88M737.59 602.01L739.89 547.88M740.03 602.01L742.33 547.88M742.18 602.01L744.48 547.88M756.74 602.01L759.04 547.88M764.14 602.01L766.44 547.88M769.39 602.01L771.69 547.88M773.46 602.01L775.76 547.88M776.78 602.01L779.08 547.88M779.59 602.01L781.89 547.88M782.03 602.01L784.33 547.88M784.18 602.01L786.48 547.88" fill="none" stroke="#cfcfcf" stroke-width="0.7"/>
<path d="M660.1 602.01L662.4 547.88M702.1 602.01L704.4 547.88M744.1 602.01L746.4 547.88M786.1 602.01L788.4 547.88" fill="none" stroke="#666" stroke-width="1"/>
<path d="M690.22 602.01 C690.61 601.5 691.76 601.37 692.54 598.93 C693.31 596.48 694.03 593.66 694.85 587.36 C695.67 581.06 696.57 570.39 697.47 561.14 C698.37 551.89 699.32 541.35 700.25 531.84 C701.17 522.33 702.2 511.02 703.02 504.08 C703.85 497.14 704.57 492.9 705.18 490.2 C705.8 487.5 706.13 488.01 706.72 487.88 C707.32 487.76 708.11 488.01 708.73 489.43 C709.35 490.84 709.83 491.61 710.43 496.37 C711.02 501.12 711.61 509.73 712.28 517.96 C712.94 526.18 713.66 536.47 714.44 545.72 C715.21 554.97 716.05 566.03 716.9 573.48 C717.75 580.93 718.57 586.13 719.52 590.44 C720.48 594.76 721.58 597.46 722.61 599.39 C723.64 601.32 725.18 601.57 725.69 602.01 L725.69 602.01 L690.22 602.01 Z" fill="#4a4a4a"/>
<clipPath id="hc3"><path d="M690.22 602.01 C690.61 601.5 691.76 601.37 692.54 598.93 C693.31 596.48 694.03 593.66 694.85 587.36 C695.67 581.06 696.57 570.39 697.47 561.14 C698.37 551.89 699.32 541.35 700.25 531.84 C701.17 522.33 702.2 511.02 703.02 504.08 C703.85 497.14 704.57 492.9 705.18 490.2 C705.8 487.5 706.13 488.01 706.72 487.88 C707.32 487.76 708.11 488.01 708.73 489.43 C709.35 490.84 709.83 491.61 710.43 496.37 C711.02 501.12 711.61 509.73 712.28 517.96 C712.94 526.18 713.66 536.47 714.44 545.72 C715.21 554.97 716.05 566.03 716.9 573.48 C717.75 580.93 718.57 586.13 719.52 590.44 C720.48 594.76 721.58 597.46 722.61 599.39 C723.64 601.32 725.18 601.57 725.69 602.01 L725.69 602.01 L690.22 602.01 Z"/></clipPath>
<g clip-path="url(#hc3)" opacity="0.4">
<path d="M650.78 602.01L653.08 547.88M653.59 602.01L655.89 547.88M656.03 602.01L658.33 547.88M658.18 602.01L660.48 547.88M672.74 602.01L675.04 547.88M680.14 602.01L682.44 547.88M685.39 602.01L687.69 547.88M689.46 602.01L691.76 547.88M692.78 602.01L695.08 547.88M695.59 602.01L697.89 547.88M698.03 602.01L700.33 547.88M700.18 602.01L702.48 547.88M714.74 602.01L717.04 547.88M722.14 602.01L724.44 547.88M727.39 602.01L729.69 547.88M731.46 602.01L733.76 547.88M734.78 602.01L737.08 547.88M737.59 602.01L739.89 547.88M740.03 602.01L742.33 547.88M742.18 602.01L744.48 547.88M756.74 602.01L759.04 547.88M764.14 602.01L766.44 547.88M769.39 602.01L771.69 547.88M773.46 602.01L775.76 547.88M776.78 602.01L779.08 547.88M779.59 602.01L781.89 547.88M782.03 602.01L784.33 547.88M784.18 602.01L786.48 547.88" fill="none" stroke="#222" stroke-width="0.7"/>
<path d="M660.1 602.01L662.4 547.88M702.1 602.01L704.4 547.88M744.1 602.01L746.4 547.88M786.1 602.01L788.4 547.88" fill="none" stroke="#111" stroke-width="1"/>
</g>
<line x1="648.58" y1="602.17" x2="788.46" y2="602.17" stroke="#999" stroke-width="1"/>
<path d="M660.1 602v5M701.8 602v5M744.2 602v5M775.8 602v5" fill="none" stroke="#000" stroke-width="1.6"/>
<path d="M753.83 602v2.5M759.47 602v2.5M763.47 602v2.5M766.57 602v2.5M769.1 602v2.5M771.24 602v2.5M773.1 602v2.5M774.74 602v2.5M785.43 602v2.5M668 602v2.5M675 602v2.5M682 602v2.5M690 602v2.5M712 602v2.5M720 602v2.5M728 602v2.5M736 602v2.5" fill="none" stroke="#000" stroke-width="0.8"/>
<rect x="699" y="602" width="6" height="3" fill="#000"/>
<text x="653.5" y="613.3" style="font-size:8.4px">−10<tspan dy="-3.6" style="font-size:5.71px">4</tspan></text>
<text x="702.6" y="613.3" style="font-size:8.4px">0</text>
<text x="742" y="613.3" style="font-size:8.4px">10<tspan dy="-3.6" style="font-size:5.71px">4</tspan></text>
<text x="773.5" y="613.3" style="font-size:8.4px">10<tspan dy="-3.6" style="font-size:5.71px">5</tspan></text>
<text x="728.2" y="542.3" style="font-size:16.8px" textLength="74.19" lengthAdjust="spacingAndGlyphs">Untreated</text>
<text x="739.23" y="593.8" style="font-size:16.8px" textLength="57.45" lengthAdjust="spacingAndGlyphs">Treated</text>
<text x="885.51" y="124" style="font-size:42.5px;font-weight:bold" textLength="26.79" lengthAdjust="spacingAndGlyphs">b</text>
<rect x="1026.75" y="114.5" width="235.25" height="40" fill="#d9d9d9" stroke="#3a3a3a" stroke-width="1.3"/>
<text x="1056.94" y="141.25" style="font-size:21px" textLength="174.92" lengthAdjust="spacingAndGlyphs">GLUT1 expression</text>
<line x1="988.9" y1="298.5" x2="988.9" y2="407.5" stroke="#000" stroke-width="3.3"/>
<line x1="988.9" y1="425" x2="988.9" y2="533.6" stroke="#000" stroke-width="3.3"/>
<line x1="982.5" y1="300" x2="988.9" y2="300" stroke="#000" stroke-width="2.9"/>
<text x="956.13" y="305.8" style="font-size:16.7px">25</text>
<line x1="982.5" y1="327.5" x2="988.9" y2="327.5" stroke="#000" stroke-width="2.9"/>
<text x="956.08" y="333.3" style="font-size:16.7px">20</text>
<line x1="982.5" y1="354.25" x2="988.9" y2="354.25" stroke="#000" stroke-width="2.9"/>
<text x="956.13" y="360.05" style="font-size:16.7px">15</text>
<line x1="982.5" y1="381.25" x2="988.9" y2="381.25" stroke="#000" stroke-width="2.9"/>
<text x="956.08" y="387.05" style="font-size:16.7px">10</text>
<line x1="982.5" y1="407.5" x2="995.5" y2="407.5" stroke="#000" stroke-width="2.9"/>
<text x="965.41" y="413.3" style="font-size:16.7px">5</text>
<line x1="982.5" y1="425" x2="995.5" y2="425" stroke="#000" stroke-width="2.9"/>
<text x="965.41" y="430.8" style="font-size:16.7px">5</text>
<line x1="982.5" y1="446.25" x2="988.9" y2="446.25" stroke="#000" stroke-width="2.9"/>
<text x="965.2" y="452.05" style="font-size:16.7px">4</text>
<line x1="982.5" y1="467.5" x2="988.9" y2="467.5" stroke="#000" stroke-width="2.9"/>
<text x="965.45" y="473.3" style="font-size:16.7px">3</text>
<line x1="982.5" y1="489.25" x2="988.9" y2="489.25" stroke="#000" stroke-width="2.9"/>
<text x="965.55" y="495.05" style="font-size:16.7px">2</text>
<line x1="982.5" y1="510.5" x2="988.9" y2="510.5" stroke="#000" stroke-width="2.9"/>
<text x="965.53" y="516.3" style="font-size:16.7px">1</text>
<line x1="982.5" y1="532" x2="988.9" y2="532" stroke="#000" stroke-width="2.9"/>
<text x="965.36" y="537.8" style="font-size:16.7px">0</text>
<line x1="982.5" y1="532" x2="1312.5" y2="532" stroke="#000" stroke-width="3.3"/>
<line x1="1028.9" y1="532" x2="1028.9" y2="538.7" stroke="#000" stroke-width="3.6"/>
<line x1="1109.25" y1="532" x2="1109.25" y2="538.7" stroke="#000" stroke-width="3.6"/>
<line x1="1190" y1="532" x2="1190" y2="538.7" stroke="#000" stroke-width="3.6"/>
<line x1="1270" y1="532" x2="1270" y2="538.7" stroke="#000" stroke-width="3.6"/>
<line x1="996" y1="510.5" x2="1309" y2="510.5" stroke="#000" stroke-width="2.6" stroke-dasharray="0,6.85" stroke-linecap="round"/>
<circle cx="1029.25" cy="355.75" r="4.9" fill="#000"/>
<circle cx="1029.25" cy="391.25" r="4.9" fill="#000"/>
<circle cx="1022" cy="402.5" r="4.9" fill="#000"/>
<circle cx="1036.25" cy="407.5" r="4.9" fill="#000"/>
<circle cx="1036.25" cy="458.75" r="4.9" fill="#000"/>
<circle cx="1022" cy="471.25" r="4.9" fill="#000"/>
<circle cx="1049.5" cy="477" r="4.9" fill="#000"/>
<circle cx="1008" cy="488.75" r="4.9" fill="#000"/>
<circle cx="1015" cy="491.25" r="4.9" fill="#000"/>
<circle cx="1029.25" cy="490" r="4.9" fill="#000"/>
<circle cx="1043" cy="493" r="4.9" fill="#000"/>
<circle cx="1029.25" cy="505" r="4.9" fill="#000"/>
<circle cx="1109.25" cy="359.25" r="4.9" fill="#000"/>
<circle cx="1109.25" cy="385" r="4.9" fill="#000"/>
<circle cx="1102.5" cy="389.5" r="4.9" fill="#000"/>
<circle cx="1116.25" cy="402.5" r="4.9" fill="#000"/>
<circle cx="1109.25" cy="443" r="4.9" fill="#000"/>
<circle cx="1109.25" cy="456.75" r="4.9" fill="#000"/>
<circle cx="1116.25" cy="467.5" r="4.9" fill="#000"/>
<circle cx="1102.5" cy="475" r="4.9" fill="#000"/>
<circle cx="1095.5" cy="486.75" r="4.9" fill="#000"/>
<circle cx="1109.25" cy="488.75" r="4.9" fill="#000"/>
<circle cx="1123" cy="486.75" r="4.9" fill="#000"/>
<circle cx="1089.5" cy="503.75" r="4.9" fill="#000"/>
<circle cx="1129.25" cy="502" r="4.9" fill="#000"/>
<circle cx="1102.5" cy="513.75" r="4.9" fill="#000"/>
<circle cx="1116.25" cy="510.5" r="4.9" fill="#000"/>
<circle cx="1196.75" cy="456.75" r="4.9" fill="#000"/>
<circle cx="1183" cy="467.5" r="4.9" fill="#000"/>
<circle cx="1175.75" cy="477.5" r="4.9" fill="#000"/>
<circle cx="1203.75" cy="477" r="4.9" fill="#000"/>
<circle cx="1190" cy="482.5" r="4.9" fill="#000"/>
<circle cx="1169.5" cy="500.75" r="4.9" fill="#000"/>
<circle cx="1210.5" cy="500" r="4.9" fill="#000"/>
<circle cx="1183" cy="510.5" r="4.9" fill="#000"/>
<circle cx="1196.75" cy="507" r="4.9" fill="#000"/>
<circle cx="1270" cy="312.5" r="4.9" fill="#000"/>
<circle cx="1270" cy="333.25" r="4.9" fill="#000"/>
<circle cx="1270" cy="370.25" r="4.9" fill="#000"/>
<circle cx="1256.25" cy="456.75" r="4.9" fill="#000"/>
<circle cx="1283.75" cy="463" r="4.9" fill="#000"/>
<circle cx="1270" cy="468" r="4.9" fill="#000"/>
<circle cx="1250" cy="481.25" r="4.9" fill="#000"/>
<circle cx="1290.75" cy="486.25" r="4.9" fill="#000"/>
<circle cx="1263.75" cy="489.25" r="4.9" fill="#000"/>
<circle cx="1277.5" cy="491.25" r="4.9" fill="#000"/>
<circle cx="1277.5" cy="505" r="4.9" fill="#000"/>
<circle cx="1263.75" cy="513.75" r="4.9" fill="#000"/>
<line x1="1002.5" y1="483.25" x2="1055.75" y2="483.25" stroke="#000" stroke-width="2.6"/>
<line x1="1082.5" y1="474.5" x2="1136.25" y2="474.5" stroke="#000" stroke-width="2.6"/>
<line x1="1163" y1="482.5" x2="1216.75" y2="482.5" stroke="#000" stroke-width="2.6"/>
<line x1="1243.25" y1="474.25" x2="1297" y2="474.25" stroke="#000" stroke-width="2.6"/>
<text x="1008.67" y="300.5" style="font-size:16.7px" textLength="51.64" lengthAdjust="spacingAndGlyphs">&lt;0.001</text>
<text x="1088.67" y="300.5" style="font-size:16.7px" textLength="51.64" lengthAdjust="spacingAndGlyphs">&lt;0.001</text>
<text x="1166.85" y="300.5" style="font-size:16.7px" textLength="41.88" lengthAdjust="spacingAndGlyphs">0.008</text>
<text x="1249.37" y="300.5" style="font-size:16.7px" textLength="40.16" lengthAdjust="spacingAndGlyphs">0.001</text>
<text x="1003.12" y="555.9" style="font-size:16.7px" transform="rotate(-33 1037 555.9)">ATM</text>
<text x="1089.67" y="555.8" style="font-size:16.7px" transform="rotate(-33 1116.8 555.8)">p53</text>
<text x="1150.16" y="555.9" style="font-size:16.7px" transform="rotate(-33 1197.3 555.9)">AMPK</text>
<text x="1250.16" y="555.8" style="font-size:16.7px" transform="rotate(-33 1277.3 555.8)">p38</text>
<line x1="1003.3" y1="606.75" x2="1301" y2="606.75" stroke="#000" stroke-width="5" opacity="0.05"/>
<line x1="1004.3" y1="606.25" x2="1300" y2="606.25" stroke="#000" stroke-width="3" opacity="0.06"/>
<line x1="1004.3" y1="605.25" x2="1300" y2="605.25" stroke="#5a5a5a" stroke-width="1.2"/>
<text x="1099.06" y="630.6" style="font-size:21.3px" textLength="108.91" lengthAdjust="spacingAndGlyphs">Inhibitors of</text>
<text x="854.76" y="415.6" style="font-size:16.7px" textLength="93.34" lengthAdjust="spacingAndGlyphs" transform="rotate(-90 901.75 415.6)">Fold change</text>
<text x="861.89" y="416.7" style="font-size:16.7px" textLength="119.86" lengthAdjust="spacingAndGlyphs" transform="rotate(-90 921.75 416.7)">%GLUT1+/CD8</text>
<text x="877.75" y="416.2" style="font-size:16.7px" textLength="126.32" lengthAdjust="spacingAndGlyphs" transform="rotate(-90 940.5 416.2)">treated/untreated</text>
<text x="1575.19" y="12" style="font-size:16.7px" textLength="74.4" lengthAdjust="spacingAndGlyphs">Untreated</text>
<rect x="1524.5" y="21.25" width="183.75" height="181.75" fill="none" stroke="#4a4a4a" stroke-width="1.1"/>
<path d="M1524.5 59.85h-4.5M1524.5 105.55h-4.5M1524.5 161.85h-4.5" fill="none" stroke="#000" stroke-width="1.1"/>
<path d="M1524.5 46.09h-2.6M1524.5 38.05h-2.6M1524.5 32.34h-2.6M1524.5 27.91h-2.6M1524.5 24.29h-2.6M1524.5 91.79h-2.6M1524.5 83.75h-2.6M1524.5 78.04h-2.6M1524.5 73.61h-2.6M1524.5 69.99h-2.6M1524.5 66.93h-2.6M1524.5 64.28h-2.6M1524.5 61.94h-2.6M1524.5 119.55h-2.6M1524.5 132.55h-2.6M1524.5 143.55h-2.6M1524.5 149.85h-2.6M1524.5 154.85h-2.6M1524.5 158.85h-2.6M1524.5 164.85h-2.6M1524.5 168.85h-2.6M1524.5 173.85h-2.6M1524.5 181.85h-2.6M1524.5 191.85h-2.6M1524.5 199.85h-2.6" fill="none" stroke="#000" stroke-width="0.7"/>
<rect x="1521.1" y="158.85" width="2.8" height="6" fill="#000"/>
<path d="M1524.5 150.85h-3M1524.5 152.85h-3M1524.5 154.35h-3M1524.5 156.35h-3M1524.5 157.85h-3M1524.5 165.85h-3M1524.5 167.35h-3M1524.5 168.85h-3M1524.5 170.85h-3M1524.5 172.35h-3M1524.5 173.85h-3" fill="none" stroke="#000" stroke-width="0.9"/>
<text x="1503.5" y="62.55" style="font-size:8.2px">10<tspan dy="-3.6" style="font-size:5.58px">4</tspan></text>
<text x="1503.5" y="108.25" style="font-size:8.2px">10<tspan dy="-3.6" style="font-size:5.58px">3</tspan></text>
<text x="1510.9" y="164.75" style="font-size:8.2px">0</text>
<path d="M1535.1 203v4.5M1564.7 203v4.5M1595.6 203v4.5M1645.5 203v4.5M1689.5 203v4.5" fill="none" stroke="#000" stroke-width="1.1"/>
<path d="M1610.62 203v2.6M1619.41 203v2.6M1625.64 203v2.6M1630.48 203v2.6M1634.43 203v2.6M1637.77 203v2.6M1640.66 203v2.6M1643.22 203v2.6M1658.72 203v2.6M1666.45 203v2.6M1671.94 203v2.6M1676.19 203v2.6M1679.67 203v2.6M1682.61 203v2.6M1685.16 203v2.6M1687.4 203v2.6M1538.5 203v2.6M1541.5 203v2.6M1544.5 203v2.6M1547.5 203v2.6M1550.5 203v2.6M1553.5 203v2.6M1556.5 203v2.6M1559 203v2.6M1569.5 203v2.6M1572.5 203v2.6M1575.5 203v2.6M1578.5 203v2.6M1581.5 203v2.6M1584.5 203v2.6M1587.5 203v2.6M1590.5 203v2.6M1701.5 203v2.6" fill="none" stroke="#000" stroke-width="0.7"/>
<rect x="1561" y="203.5" width="7" height="3" fill="#000"/>
<text x="1531" y="221.8" style="font-size:8.2px">−10<tspan dy="-3.6" style="font-size:5.58px">3</tspan></text>
<text x="1567.5" y="221.8" style="font-size:8.2px">0</text>
<text x="1594.2" y="221.8" style="font-size:8.2px">10<tspan dy="-3.6" style="font-size:5.58px">3</tspan></text>
<text x="1644" y="221.8" style="font-size:8.2px">10<tspan dy="-3.6" style="font-size:5.58px">4</tspan></text>
<text x="1688" y="221.8" style="font-size:8.2px">10<tspan dy="-3.6" style="font-size:5.58px">5</tspan></text>
<path d="M1596 43.5h1M1574 47.5h1M1582 47.5h1M1639 47.5h1M1566 48.5h1M1569 48.5h1M1572 48.5h6M1579 48.5h3M1583 48.5h3M1587 48.5h1M1566 49.5h1M1572 49.5h2M1575 49.5h2M1578 49.5h2M1581 49.5h2M1584 49.5h2M1587 49.5h1M1589 49.5h1M1591 49.5h1M1604 49.5h1M1630 49.5h1M1636 49.5h1M1562 50.5h4M1567 50.5h4M1572 50.5h5M1578 50.5h17M1603 50.5h1M1562 51.5h1M1565 51.5h11M1577 51.5h4M1582 51.5h3M1587 51.5h8M1600 51.5h1M1563 52.5h5M1570 52.5h1M1584 52.5h1M1586 52.5h11M1599 52.5h2M1628 52.5h1M1560 53.5h1M1563 53.5h2M1594 53.5h5M1607 53.5h1M1556 54.5h1M1558 54.5h6M1596 54.5h1M1599 54.5h2M1630 54.5h1M1559 55.5h4M1596 55.5h1M1598 55.5h4M1606 55.5h1M1608 55.5h1M1555 56.5h2M1558 56.5h1M1560 56.5h3M1598 56.5h5M1604 56.5h3M1608 56.5h1M1619 56.5h1M1553 57.5h2M1556 57.5h1M1559 57.5h3M1599 57.5h4M1604 57.5h3M1608 57.5h1M1638 57.5h1M1554 58.5h1M1557 58.5h5M1600 58.5h2M1604 58.5h1M1607 58.5h2M1633 58.5h1M1556 59.5h5M1600 59.5h1M1602 59.5h4M1607 59.5h1M1609 59.5h1M1633 59.5h1M1553 60.5h1M1556 60.5h6M1600 60.5h2M1603 60.5h3M1609 60.5h1M1630 60.5h1M1635 60.5h1M1555 61.5h5M1603 61.5h5M1609 61.5h1M1551 62.5h1M1554 62.5h4M1606 62.5h2M1550 63.5h1M1552 63.5h5M1605 63.5h5M1621 63.5h1M1552 64.5h1M1555 64.5h2M1606 64.5h4M1641 64.5h1M1646 64.5h1M1553 65.5h3M1606 65.5h4M1552 66.5h2M1555 66.5h1M1607 66.5h3M1552 67.5h4M1607 67.5h3M1648 67.5h1M1552 68.5h4M1608 68.5h2M1644 68.5h1M1648 68.5h1M1552 69.5h1M1554 69.5h1M1609 69.5h1M1630 69.5h1M1648 69.5h1M1540 70.5h1M1552 70.5h3M1608 70.5h2M1631 70.5h1M1642 70.5h1M1644 70.5h1M1539 71.5h2M1553 71.5h2M1608 71.5h2M1631 71.5h1M1552 72.5h3M1608 72.5h2M1637 72.5h1M1552 73.5h4M1558 73.5h4M1608 73.5h2M1620 73.5h1M1628 73.5h1M1631 73.5h1M1637 73.5h1M1553 74.5h1M1555 74.5h1M1557 74.5h2M1560 74.5h1M1607 74.5h3M1621 74.5h1M1552 75.5h5M1558 75.5h3M1606 75.5h5M1552 76.5h10M1604 76.5h4M1609 76.5h2M1634 76.5h1M1553 77.5h2M1556 77.5h5M1562 77.5h1M1603 77.5h5M1620 77.5h1M1632 77.5h1M1553 78.5h1M1555 78.5h6M1562 78.5h1M1602 78.5h8M1611 78.5h1M1632 78.5h1M1554 79.5h3M1558 79.5h6M1602 79.5h8M1629 79.5h1M1639 79.5h1M1642 79.5h1M1554 80.5h5M1560 80.5h1M1563 80.5h2M1603 80.5h7M1623 80.5h1M1554 81.5h1M1556 81.5h2M1559 81.5h7M1601 81.5h8M1620 81.5h1M1556 82.5h3M1560 82.5h1M1562 82.5h1M1564 82.5h3M1592 82.5h2M1596 82.5h3M1600 82.5h6M1607 82.5h1M1618 82.5h1M1556 83.5h2M1560 83.5h6M1568 83.5h3M1585 83.5h1M1587 83.5h4M1592 83.5h13M1606 83.5h1M1609 83.5h1M1633 83.5h1M1641 83.5h1M1556 84.5h3M1560 84.5h5M1566 84.5h12M1584 84.5h3M1588 84.5h4M1593 84.5h1M1595 84.5h7M1604 84.5h3M1608 84.5h1M1558 85.5h10M1569 85.5h10M1583 85.5h4M1588 85.5h3M1592 85.5h10M1603 85.5h4M1609 85.5h1M1558 86.5h2M1561 86.5h3M1565 86.5h1M1567 86.5h7M1575 86.5h2M1578 86.5h4M1583 86.5h2M1586 86.5h5M1592 86.5h1M1595 86.5h9M1608 86.5h2M1622 86.5h1M1558 87.5h5M1564 87.5h2M1567 87.5h2M1570 87.5h14M1585 87.5h9M1596 87.5h9M1606 87.5h1M1639 87.5h1M1560 88.5h2M1564 88.5h3M1568 88.5h3M1572 88.5h7M1580 88.5h3M1584 88.5h1M1586 88.5h6M1593 88.5h2M1596 88.5h4M1601 88.5h1M1562 89.5h1M1564 89.5h4M1569 89.5h4M1574 89.5h3M1578 89.5h1M1582 89.5h9M1592 89.5h5M1599 89.5h1M1604 89.5h1M1562 90.5h1M1564 90.5h1M1566 90.5h4M1571 90.5h1M1573 90.5h4M1580 90.5h2M1583 90.5h5M1590 90.5h1M1592 90.5h2M1595 90.5h3M1599 90.5h1M1622 90.5h1M1565 91.5h3M1569 91.5h1M1571 91.5h6M1579 91.5h5M1585 91.5h13M1565 92.5h1M1567 92.5h1M1570 92.5h8M1579 92.5h3M1583 92.5h13M1568 93.5h8M1577 93.5h3M1581 93.5h3M1585 93.5h1M1587 93.5h7M1600 93.5h1M1568 94.5h1M1571 94.5h6M1578 94.5h3M1583 94.5h4M1589 94.5h3M1607 94.5h1M1574 95.5h7M1583 95.5h1M1586 95.5h1M1588 95.5h1M1577 96.5h1M1587 96.5h1M1597 96.5h1M1607 96.5h1" stroke="#3a4fc4" stroke-width="1" fill="none"/>
<path d="M1568 52.5h1M1571 52.5h2M1574 52.5h4M1579 52.5h4M1585 52.5h1M1565 53.5h18M1584 53.5h10M1564 54.5h1M1566 54.5h29M1563 55.5h10M1580 55.5h16M1563 56.5h2M1583 56.5h6M1590 56.5h8M1562 57.5h3M1586 57.5h13M1562 58.5h2M1588 58.5h12M1562 59.5h2M1591 59.5h9M1562 60.5h3M1592 60.5h8M1562 61.5h2M1595 61.5h5M1601 61.5h2M1558 62.5h6M1597 62.5h8M1557 63.5h6M1599 63.5h6M1557 64.5h2M1560 64.5h2M1600 64.5h6M1556 65.5h5M1601 65.5h5M1556 66.5h4M1595 66.5h2M1601 66.5h6M1556 67.5h2M1559 67.5h3M1594 67.5h3M1601 67.5h6M1556 68.5h8M1593 68.5h2M1596 68.5h1M1601 68.5h2M1604 68.5h4M1555 69.5h7M1563 69.5h2M1593 69.5h4M1601 69.5h4M1606 69.5h2M1555 70.5h3M1559 70.5h5M1592 70.5h5M1601 70.5h7M1555 71.5h8M1564 71.5h1M1592 71.5h5M1601 71.5h2M1604 71.5h4M1555 72.5h10M1591 72.5h6M1601 72.5h7M1556 73.5h2M1562 73.5h4M1590 73.5h5M1596 73.5h2M1600 73.5h4M1605 73.5h3M1562 74.5h4M1590 74.5h17M1562 75.5h1M1564 75.5h1M1566 75.5h1M1589 75.5h17M1562 76.5h6M1589 76.5h5M1595 76.5h9M1563 77.5h1M1565 77.5h4M1588 77.5h5M1594 77.5h6M1601 77.5h1M1563 78.5h5M1569 78.5h9M1587 78.5h2M1590 78.5h12M1564 79.5h16M1585 79.5h17M1567 80.5h8M1576 80.5h6M1583 80.5h12M1596 80.5h6M1566 81.5h20M1587 81.5h14M1567 82.5h9M1578 82.5h5M1584 82.5h2M1587 82.5h2M1590 82.5h2M1594 82.5h2M1571 83.5h3M1575 83.5h4M1580 83.5h5M1578 84.5h6M1579 85.5h4" stroke="#3d66cc" stroke-width="1" fill="none"/>
<path d="M1573 55.5h7M1566 56.5h8M1580 56.5h2M1565 57.5h1M1582 57.5h4M1564 58.5h2M1584 58.5h4M1564 59.5h2M1586 59.5h5M1565 60.5h1M1588 60.5h4M1564 61.5h1M1589 61.5h6M1564 62.5h2M1591 62.5h6M1563 63.5h2M1594 63.5h5M1562 64.5h2M1594 64.5h6M1561 65.5h1M1563 65.5h1M1593 65.5h2M1596 65.5h5M1560 66.5h4M1593 66.5h2M1597 66.5h4M1562 67.5h3M1593 67.5h1M1597 67.5h3M1564 68.5h2M1592 68.5h1M1597 68.5h4M1565 69.5h1M1592 69.5h1M1597 69.5h4M1565 70.5h1M1591 70.5h1M1597 70.5h4M1565 71.5h1M1591 71.5h1M1597 71.5h4M1565 72.5h2M1589 72.5h2M1597 72.5h4M1566 73.5h1M1588 73.5h2M1598 73.5h2M1566 74.5h2M1587 74.5h3M1567 75.5h2M1586 75.5h3M1568 76.5h3M1585 76.5h4M1569 77.5h10M1584 77.5h4M1578 78.5h3M1583 78.5h4M1580 79.5h5M1582 80.5h1" stroke="#3aaedc" stroke-width="1" fill="none"/>
<path d="M1574 56.5h6M1566 57.5h8M1580 57.5h2M1566 58.5h6M1582 58.5h2M1566 59.5h2M1583 59.5h3M1566 60.5h2M1584 60.5h4M1566 61.5h2M1587 61.5h2M1566 62.5h1M1588 62.5h3M1565 63.5h1M1589 63.5h5M1565 64.5h1M1591 64.5h3M1564 65.5h2M1592 65.5h1M1564 66.5h2M1592 66.5h1M1565 67.5h2M1592 67.5h1M1566 68.5h1M1591 68.5h1M1566 69.5h1M1591 69.5h1M1566 70.5h1M1590 70.5h1M1566 71.5h1M1589 71.5h2M1567 72.5h1M1587 72.5h2M1567 73.5h1M1585 73.5h3M1568 74.5h1M1584 74.5h3M1569 75.5h2M1576 75.5h1M1584 75.5h2M1571 76.5h8M1583 76.5h2M1579 77.5h5M1581 78.5h2" stroke="#4cbf7a" stroke-width="1" fill="none"/>
<path d="M1574 57.5h6M1572 58.5h10M1568 59.5h15M1568 60.5h7M1580 60.5h4M1568 61.5h6M1580 61.5h7M1567 62.5h7M1581 62.5h7M1566 63.5h7M1582 63.5h7M1566 64.5h6M1583 64.5h1M1585 64.5h6M1566 65.5h6M1583 65.5h9M1566 66.5h6M1583 66.5h9M1567 67.5h4M1578 67.5h14M1567 68.5h4M1574 68.5h17M1567 69.5h4M1574 69.5h17M1567 70.5h4M1573 70.5h17M1568 71.5h3M1572 71.5h17M1568 72.5h19M1568 73.5h17M1569 74.5h15M1571 75.5h4M1577 75.5h7M1579 76.5h4" stroke="#6cc54a" stroke-width="1" fill="none"/>
<path d="M1575 60.5h5M1574 61.5h2M1579 61.5h1M1574 62.5h1M1580 62.5h1M1573 63.5h1M1581 63.5h1M1572 64.5h2M1581 64.5h2M1572 65.5h2M1580 65.5h3M1572 66.5h2M1577 66.5h6M1571 67.5h7M1571 68.5h3M1571 69.5h3M1571 70.5h2M1571 71.5h1" stroke="#b8dc3a" stroke-width="1" fill="none"/>
<path d="M1576 61.5h1M1578 61.5h1M1575 62.5h1M1579 62.5h1M1574 63.5h1M1580 63.5h1M1574 64.5h1M1580 64.5h1M1574 65.5h1M1578 65.5h2M1574 66.5h3" stroke="#f0d828" stroke-width="1" fill="none"/>
<path d="M1577 61.5h1M1575 63.5h1M1579 63.5h1M1575 64.5h1M1579 64.5h1M1575 65.5h3" stroke="#f08a28" stroke-width="1" fill="none"/>
<path d="M1576 62.5h3M1576 63.5h3M1576 64.5h3" stroke="#e8281e" stroke-width="1" fill="none"/>
<rect x="1610.25" y="44.5" width="85.5" height="53" fill="none" stroke="#333" stroke-width="1.3"/>
<text x="1653.33" y="42" style="font-size:16.7px" textLength="48.27" lengthAdjust="spacingAndGlyphs">0.96%</text>
<line x1="1493.7" y1="30" x2="1493.7" y2="106.3" stroke="#000" stroke-width="2.1"/>
<path d="M1487.9 40.5 L1493.7 30 L1499.5 40.5" fill="none" stroke="#000" stroke-width="2" stroke-linejoin="miter"/>
<text x="1481.83" y="138" style="font-size:16.7px" transform="rotate(-90 1498.6 138)">CD8</text>
<line x1="1491.8" y1="170.3" x2="1491.8" y2="230" stroke="#000" stroke-width="1.6"/>
<line x1="1491" y1="229.3" x2="1567.5" y2="229.3" stroke="#000" stroke-width="1.5"/>
<text x="1576.91" y="235" style="font-size:16.7px" textLength="53.65" lengthAdjust="spacingAndGlyphs">GLUT1</text>
<line x1="1640.25" y1="229" x2="1710.25" y2="229" stroke="#000" stroke-width="2"/>
<path d="M1699.75 223.2 L1710.25 229 L1699.75 234.8" fill="none" stroke="#000" stroke-width="2"/>
<text x="1413.72" y="256.25" style="font-size:16.7px" textLength="181.9" lengthAdjust="spacingAndGlyphs">ATM inhibitory treatment</text>
<rect x="1411.3" y="266.8" width="183.2" height="182.3" fill="none" stroke="#4a4a4a" stroke-width="1.1"/>
<path d="M1411.3 305.4h-4.5M1411.3 351.1h-4.5M1411.3 407.4h-4.5" fill="none" stroke="#000" stroke-width="1.1"/>
<path d="M1411.3 291.64h-2.6M1411.3 283.6h-2.6M1411.3 277.89h-2.6M1411.3 273.46h-2.6M1411.3 269.84h-2.6M1411.3 337.34h-2.6M1411.3 329.3h-2.6M1411.3 323.59h-2.6M1411.3 319.16h-2.6M1411.3 315.54h-2.6M1411.3 312.48h-2.6M1411.3 309.83h-2.6M1411.3 307.49h-2.6M1411.3 365.1h-2.6M1411.3 378.1h-2.6M1411.3 389.1h-2.6M1411.3 395.4h-2.6M1411.3 400.4h-2.6M1411.3 404.4h-2.6M1411.3 410.4h-2.6M1411.3 414.4h-2.6M1411.3 419.4h-2.6M1411.3 427.4h-2.6M1411.3 437.4h-2.6M1411.3 445.4h-2.6" fill="none" stroke="#000" stroke-width="0.7"/>
<rect x="1407.9" y="404.4" width="2.8" height="6" fill="#000"/>
<path d="M1411.3 396.4h-3M1411.3 398.4h-3M1411.3 399.9h-3M1411.3 401.9h-3M1411.3 403.4h-3M1411.3 411.4h-3M1411.3 412.9h-3M1411.3 414.4h-3M1411.3 416.4h-3M1411.3 417.9h-3M1411.3 419.4h-3" fill="none" stroke="#000" stroke-width="0.9"/>
<text x="1390.3" y="308.1" style="font-size:8.2px">10<tspan dy="-3.6" style="font-size:5.58px">4</tspan></text>
<text x="1390.3" y="353.8" style="font-size:8.2px">10<tspan dy="-3.6" style="font-size:5.58px">3</tspan></text>
<text x="1397.7" y="410.3" style="font-size:8.2px">0</text>
<path d="M1421.9 449.1v4.5M1451.5 449.1v4.5M1482.4 449.1v4.5M1532.3 449.1v4.5M1576.3 449.1v4.5" fill="none" stroke="#000" stroke-width="1.1"/>
<path d="M1497.42 449.1v2.6M1506.21 449.1v2.6M1512.44 449.1v2.6M1517.28 449.1v2.6M1521.23 449.1v2.6M1524.57 449.1v2.6M1527.46 449.1v2.6M1530.02 449.1v2.6M1545.52 449.1v2.6M1553.25 449.1v2.6M1558.74 449.1v2.6M1562.99 449.1v2.6M1566.47 449.1v2.6M1569.41 449.1v2.6M1571.96 449.1v2.6M1574.2 449.1v2.6M1425.3 449.1v2.6M1428.3 449.1v2.6M1431.3 449.1v2.6M1434.3 449.1v2.6M1437.3 449.1v2.6M1440.3 449.1v2.6M1443.3 449.1v2.6M1445.8 449.1v2.6M1456.3 449.1v2.6M1459.3 449.1v2.6M1462.3 449.1v2.6M1465.3 449.1v2.6M1468.3 449.1v2.6M1471.3 449.1v2.6M1474.3 449.1v2.6M1477.3 449.1v2.6M1588.3 449.1v2.6" fill="none" stroke="#000" stroke-width="0.7"/>
<rect x="1447.8" y="449.6" width="7" height="3" fill="#000"/>
<text x="1417.8" y="467.9" style="font-size:8.2px">−10<tspan dy="-3.6" style="font-size:5.58px">3</tspan></text>
<text x="1454.3" y="467.9" style="font-size:8.2px">0</text>
<text x="1481" y="467.9" style="font-size:8.2px">10<tspan dy="-3.6" style="font-size:5.58px">3</tspan></text>
<text x="1530.8" y="467.9" style="font-size:8.2px">10<tspan dy="-3.6" style="font-size:5.58px">4</tspan></text>
<text x="1574.8" y="467.9" style="font-size:8.2px">10<tspan dy="-3.6" style="font-size:5.58px">5</tspan></text>
<path d="M1427 282.5h1M1529 282.5h1M1490 284.5h1M1498 286.5h1M1519 287.5h1M1487 288.5h1M1482 289.5h1M1490 289.5h2M1501 289.5h1M1511 289.5h1M1459 290.5h2M1472 290.5h1M1494 290.5h1M1499 290.5h1M1530 290.5h1M1535 290.5h1M1454 291.5h1M1462 291.5h5M1468 291.5h4M1474 291.5h1M1476 291.5h1M1481 291.5h1M1485 291.5h1M1498 291.5h1M1434 292.5h1M1454 292.5h1M1456 292.5h2M1459 292.5h2M1462 292.5h1M1464 292.5h10M1475 292.5h3M1479 292.5h1M1489 292.5h1M1497 292.5h1M1500 292.5h1M1512 292.5h1M1523 292.5h1M1539 292.5h1M1414 293.5h1M1453 293.5h9M1467 293.5h1M1469 293.5h2M1472 293.5h4M1477 293.5h5M1483 293.5h1M1493 293.5h1M1496 293.5h1M1501 293.5h1M1506 293.5h1M1520 293.5h1M1449 294.5h1M1451 294.5h9M1469 294.5h1M1471 294.5h3M1478 294.5h2M1481 294.5h2M1489 294.5h1M1498 294.5h2M1512 294.5h2M1515 294.5h2M1530 294.5h1M1425 295.5h1M1449 295.5h1M1451 295.5h4M1481 295.5h5M1488 295.5h1M1494 295.5h1M1496 295.5h2M1502 295.5h1M1513 295.5h1M1520 295.5h1M1529 295.5h1M1533 295.5h1M1540 295.5h1M1445 296.5h1M1447 296.5h5M1453 296.5h1M1483 296.5h4M1490 296.5h1M1493 296.5h1M1495 296.5h2M1503 296.5h2M1511 296.5h1M1513 296.5h1M1515 296.5h1M1531 296.5h1M1534 296.5h1M1413 297.5h1M1444 297.5h8M1485 297.5h5M1491 297.5h1M1494 297.5h3M1499 297.5h1M1502 297.5h1M1504 297.5h1M1514 297.5h1M1522 297.5h1M1529 297.5h1M1531 297.5h1M1538 297.5h1M1540 297.5h1M1444 298.5h8M1489 298.5h1M1492 298.5h2M1496 298.5h4M1501 298.5h4M1506 298.5h1M1509 298.5h2M1513 298.5h1M1515 298.5h1M1519 298.5h1M1521 298.5h1M1528 298.5h1M1530 298.5h2M1533 298.5h1M1536 298.5h1M1422 299.5h1M1425 299.5h1M1443 299.5h3M1448 299.5h3M1491 299.5h1M1498 299.5h4M1503 299.5h1M1505 299.5h1M1508 299.5h1M1510 299.5h1M1512 299.5h1M1514 299.5h3M1518 299.5h3M1522 299.5h2M1423 300.5h1M1430 300.5h1M1442 300.5h5M1448 300.5h2M1492 300.5h1M1496 300.5h2M1499 300.5h3M1503 300.5h2M1507 300.5h1M1512 300.5h5M1520 300.5h3M1530 300.5h3M1534 300.5h1M1536 300.5h2M1540 300.5h1M1418 301.5h1M1424 301.5h1M1431 301.5h1M1441 301.5h1M1444 301.5h4M1449 301.5h1M1493 301.5h3M1497 301.5h5M1503 301.5h3M1510 301.5h4M1515 301.5h1M1518 301.5h2M1522 301.5h1M1528 301.5h1M1531 301.5h1M1533 301.5h4M1540 301.5h1M1419 302.5h1M1440 302.5h2M1444 302.5h3M1496 302.5h3M1503 302.5h1M1507 302.5h1M1509 302.5h2M1513 302.5h2M1517 302.5h4M1523 302.5h2M1527 302.5h1M1531 302.5h1M1533 302.5h1M1537 302.5h2M1413 303.5h1M1432 303.5h1M1434 303.5h1M1441 303.5h4M1494 303.5h5M1501 303.5h1M1503 303.5h11M1516 303.5h1M1518 303.5h1M1520 303.5h1M1523 303.5h1M1526 303.5h1M1530 303.5h1M1534 303.5h1M1536 303.5h1M1424 304.5h1M1439 304.5h6M1496 304.5h4M1502 304.5h5M1509 304.5h2M1512 304.5h1M1515 304.5h2M1519 304.5h4M1527 304.5h2M1531 304.5h2M1537 304.5h1M1420 305.5h2M1432 305.5h1M1439 305.5h1M1441 305.5h4M1497 305.5h6M1505 305.5h5M1511 305.5h1M1513 305.5h2M1516 305.5h3M1520 305.5h2M1525 305.5h1M1529 305.5h1M1531 305.5h6M1539 305.5h2M1419 306.5h1M1430 306.5h1M1438 306.5h7M1498 306.5h6M1505 306.5h5M1511 306.5h5M1517 306.5h4M1523 306.5h1M1527 306.5h2M1531 306.5h3M1536 306.5h2M1539 306.5h1M1413 307.5h1M1415 307.5h1M1417 307.5h1M1420 307.5h1M1432 307.5h1M1435 307.5h1M1438 307.5h3M1442 307.5h2M1499 307.5h3M1503 307.5h3M1507 307.5h1M1510 307.5h4M1515 307.5h3M1519 307.5h2M1522 307.5h2M1526 307.5h2M1529 307.5h1M1531 307.5h1M1533 307.5h1M1536 307.5h2M1539 307.5h1M1413 308.5h1M1415 308.5h1M1426 308.5h1M1438 308.5h5M1444 308.5h1M1500 308.5h1M1502 308.5h7M1511 308.5h2M1514 308.5h14M1529 308.5h3M1533 308.5h2M1536 308.5h3M1415 309.5h1M1420 309.5h1M1437 309.5h6M1500 309.5h3M1504 309.5h4M1509 309.5h4M1514 309.5h11M1526 309.5h1M1528 309.5h3M1536 309.5h1M1539 309.5h1M1413 310.5h1M1418 310.5h1M1420 310.5h1M1431 310.5h1M1437 310.5h4M1500 310.5h3M1504 310.5h1M1509 310.5h1M1511 310.5h6M1520 310.5h2M1523 310.5h3M1529 310.5h1M1531 310.5h1M1538 310.5h1M1540 310.5h1M1412 311.5h1M1416 311.5h1M1418 311.5h1M1432 311.5h1M1437 311.5h3M1500 311.5h5M1508 311.5h5M1514 311.5h10M1526 311.5h5M1532 311.5h1M1535 311.5h1M1537 311.5h4M1423 312.5h1M1425 312.5h1M1438 312.5h2M1500 312.5h2M1503 312.5h1M1505 312.5h8M1516 312.5h1M1520 312.5h2M1525 312.5h1M1527 312.5h1M1531 312.5h2M1534 312.5h3M1539 312.5h1M1415 313.5h1M1418 313.5h1M1420 313.5h1M1432 313.5h1M1438 313.5h2M1501 313.5h1M1504 313.5h3M1508 313.5h6M1516 313.5h2M1519 313.5h4M1526 313.5h2M1529 313.5h1M1532 313.5h5M1538 313.5h1M1540 313.5h1M1428 314.5h1M1438 314.5h3M1500 314.5h7M1508 314.5h1M1510 314.5h4M1515 314.5h1M1517 314.5h6M1524 314.5h1M1526 314.5h3M1533 314.5h3M1537 314.5h3M1418 315.5h2M1434 315.5h1M1440 315.5h4M1498 315.5h8M1507 315.5h1M1509 315.5h1M1511 315.5h2M1514 315.5h1M1516 315.5h7M1526 315.5h1M1528 315.5h1M1531 315.5h2M1534 315.5h5M1420 316.5h1M1434 316.5h1M1439 316.5h5M1497 316.5h11M1509 316.5h1M1511 316.5h6M1518 316.5h1M1520 316.5h3M1524 316.5h3M1529 316.5h2M1532 316.5h2M1535 316.5h3M1539 316.5h2M1423 317.5h1M1439 317.5h3M1443 317.5h2M1496 317.5h7M1504 317.5h13M1519 317.5h1M1521 317.5h1M1523 317.5h1M1525 317.5h1M1527 317.5h1M1534 317.5h1M1536 317.5h2M1428 318.5h1M1433 318.5h1M1441 318.5h4M1494 318.5h1M1496 318.5h4M1501 318.5h2M1504 318.5h1M1506 318.5h2M1510 318.5h1M1512 318.5h1M1514 318.5h1M1517 318.5h5M1523 318.5h1M1526 318.5h1M1528 318.5h3M1532 318.5h1M1535 318.5h2M1540 318.5h1M1441 319.5h3M1493 319.5h1M1495 319.5h6M1502 319.5h8M1511 319.5h1M1514 319.5h8M1523 319.5h1M1529 319.5h1M1531 319.5h2M1536 319.5h2M1413 320.5h1M1442 320.5h5M1492 320.5h8M1502 320.5h2M1505 320.5h1M1507 320.5h1M1509 320.5h1M1512 320.5h1M1514 320.5h1M1516 320.5h6M1523 320.5h2M1529 320.5h1M1531 320.5h1M1534 320.5h1M1420 321.5h1M1429 321.5h1M1443 321.5h4M1490 321.5h4M1495 321.5h2M1498 321.5h4M1506 321.5h4M1511 321.5h1M1516 321.5h1M1518 321.5h1M1521 321.5h1M1524 321.5h2M1527 321.5h3M1531 321.5h1M1533 321.5h1M1535 321.5h1M1434 322.5h1M1444 322.5h1M1446 322.5h1M1449 322.5h1M1489 322.5h4M1494 322.5h1M1497 322.5h2M1501 322.5h3M1508 322.5h5M1514 322.5h1M1517 322.5h1M1519 322.5h1M1521 322.5h2M1526 322.5h1M1528 322.5h1M1537 322.5h1M1539 322.5h2M1412 323.5h1M1445 323.5h2M1448 323.5h3M1487 323.5h3M1491 323.5h1M1494 323.5h1M1496 323.5h2M1499 323.5h1M1504 323.5h2M1508 323.5h1M1511 323.5h3M1517 323.5h1M1519 323.5h3M1525 323.5h2M1529 323.5h1M1534 323.5h2M1537 323.5h1M1446 324.5h6M1487 324.5h2M1497 324.5h2M1500 324.5h1M1504 324.5h1M1508 324.5h2M1512 324.5h1M1519 324.5h1M1522 324.5h1M1527 324.5h1M1534 324.5h1M1450 325.5h5M1484 325.5h1M1486 325.5h1M1488 325.5h1M1490 325.5h2M1494 325.5h2M1498 325.5h1M1503 325.5h2M1512 325.5h3M1517 325.5h1M1521 325.5h1M1532 325.5h2M1536 325.5h1M1451 326.5h7M1471 326.5h1M1473 326.5h2M1480 326.5h4M1486 326.5h2M1489 326.5h1M1492 326.5h1M1495 326.5h2M1499 326.5h1M1505 326.5h1M1507 326.5h1M1511 326.5h1M1514 326.5h1M1519 326.5h1M1530 326.5h1M1452 327.5h1M1454 327.5h9M1464 327.5h13M1478 327.5h2M1481 327.5h1M1489 327.5h1M1491 327.5h1M1497 327.5h1M1505 327.5h2M1509 327.5h1M1519 327.5h1M1531 327.5h1M1456 328.5h8M1465 328.5h6M1473 328.5h5M1479 328.5h4M1487 328.5h1M1493 328.5h1M1499 328.5h1M1502 328.5h1M1516 328.5h2M1538 328.5h1M1422 329.5h1M1453 329.5h1M1455 329.5h2M1459 329.5h1M1462 329.5h1M1465 329.5h2M1468 329.5h6M1480 329.5h2M1484 329.5h3M1488 329.5h1M1500 329.5h1M1502 329.5h1M1507 329.5h1M1521 329.5h1M1539 329.5h1M1456 330.5h2M1469 330.5h1M1483 330.5h1M1489 330.5h1M1504 330.5h1M1508 330.5h1M1518 330.5h1M1538 330.5h1M1476 331.5h1M1484 331.5h1M1493 331.5h1M1495 331.5h1M1514 331.5h1M1516 331.5h1M1526 331.5h1M1473 332.5h1M1497 332.5h1M1507 332.5h1M1481 333.5h2M1497 333.5h1M1511 333.5h1M1514 333.5h1M1509 335.5h1M1489 336.5h1M1495 337.5h1" stroke="#3a4fc4" stroke-width="1" fill="none"/>
<path d="M1462 293.5h5M1460 294.5h9M1474 294.5h1M1476 294.5h2M1455 295.5h3M1460 295.5h9M1470 295.5h11M1454 296.5h10M1465 296.5h3M1469 296.5h1M1471 296.5h1M1473 296.5h7M1481 296.5h2M1453 297.5h2M1456 297.5h5M1462 297.5h1M1467 297.5h11M1479 297.5h6M1452 298.5h9M1473 298.5h9M1483 298.5h6M1451 299.5h5M1476 299.5h15M1450 300.5h4M1487 300.5h5M1451 301.5h2M1490 301.5h3M1448 302.5h1M1450 302.5h2M1491 302.5h3M1445 303.5h1M1447 303.5h5M1491 303.5h2M1446 304.5h6M1491 304.5h2M1494 304.5h2M1445 305.5h5M1492 305.5h5M1445 306.5h4M1494 306.5h4M1445 307.5h3M1496 307.5h3M1446 308.5h2M1497 308.5h2M1443 309.5h2M1446 309.5h2M1497 309.5h3M1441 310.5h7M1497 310.5h3M1441 311.5h5M1447 311.5h1M1497 311.5h1M1499 311.5h1M1440 312.5h9M1497 312.5h3M1440 313.5h9M1496 313.5h3M1441 314.5h4M1446 314.5h3M1495 314.5h1M1497 314.5h2M1445 315.5h4M1494 315.5h2M1497 315.5h1M1445 316.5h4M1493 316.5h3M1445 317.5h1M1447 317.5h3M1454 317.5h1M1492 317.5h3M1445 318.5h11M1491 318.5h3M1445 319.5h11M1490 319.5h3M1447 320.5h8M1486 320.5h6M1449 321.5h7M1474 321.5h8M1485 321.5h5M1450 322.5h13M1472 322.5h3M1476 322.5h7M1484 322.5h5M1451 323.5h4M1456 323.5h5M1462 323.5h25M1452 324.5h7M1460 324.5h9M1470 324.5h2M1473 324.5h9M1483 324.5h3M1455 325.5h12M1468 325.5h12M1481 325.5h3M1458 326.5h2M1461 326.5h10M1475 326.5h5" stroke="#3d66cc" stroke-width="1" fill="none"/>
<path d="M1464 296.5h1M1463 297.5h4M1461 298.5h12M1456 299.5h2M1459 299.5h3M1466 299.5h2M1471 299.5h5M1454 300.5h3M1474 300.5h13M1453 301.5h2M1477 301.5h5M1486 301.5h1M1488 301.5h2M1453 302.5h1M1488 302.5h3M1452 303.5h2M1489 303.5h2M1452 304.5h2M1489 304.5h2M1450 305.5h3M1489 305.5h3M1449 306.5h2M1489 306.5h5M1448 307.5h1M1494 307.5h2M1448 308.5h1M1496 308.5h1M1448 309.5h1M1496 309.5h1M1448 310.5h1M1448 311.5h1M1449 312.5h1M1496 312.5h1M1449 313.5h1M1495 313.5h1M1449 314.5h2M1493 314.5h2M1449 315.5h2M1492 315.5h2M1449 316.5h4M1454 316.5h3M1492 316.5h1M1450 317.5h4M1455 317.5h3M1491 317.5h1M1456 318.5h3M1486 318.5h2M1490 318.5h1M1456 319.5h3M1478 319.5h12M1455 320.5h6M1473 320.5h13M1456 321.5h12M1471 321.5h3M1482 321.5h3M1464 322.5h8M1483 322.5h1" stroke="#3aaedc" stroke-width="1" fill="none"/>
<path d="M1462 299.5h4M1469 299.5h2M1457 300.5h5M1465 300.5h9M1455 301.5h3M1471 301.5h6M1482 301.5h3M1454 302.5h2M1477 302.5h7M1485 302.5h3M1454 303.5h2M1479 303.5h1M1487 303.5h2M1454 304.5h2M1488 304.5h1M1453 305.5h2M1488 305.5h1M1451 306.5h2M1488 306.5h1M1450 307.5h1M1488 307.5h1M1490 307.5h4M1449 308.5h1M1490 308.5h3M1494 308.5h2M1449 309.5h1M1495 309.5h1M1449 310.5h1M1496 310.5h1M1449 311.5h1M1496 311.5h1M1450 312.5h1M1495 312.5h1M1450 313.5h2M1494 313.5h1M1451 314.5h5M1492 314.5h1M1451 315.5h6M1491 315.5h1M1491 316.5h1M1458 317.5h1M1486 317.5h5M1459 318.5h1M1474 318.5h5M1482 318.5h4M1488 318.5h2M1459 319.5h2M1472 319.5h6M1461 320.5h8M1470 320.5h3M1468 321.5h3" stroke="#4cbf7a" stroke-width="1" fill="none"/>
<path d="M1462 300.5h3M1458 301.5h13M1456 302.5h20M1484 302.5h1M1456 303.5h23M1481 303.5h6M1457 304.5h5M1463 304.5h25M1455 305.5h6M1463 305.5h5M1469 305.5h18M1453 306.5h7M1465 306.5h2M1470 306.5h6M1477 306.5h11M1451 307.5h7M1478 307.5h3M1483 307.5h5M1450 308.5h7M1484 308.5h6M1493 308.5h1M1450 309.5h7M1485 309.5h10M1450 310.5h7M1485 310.5h11M1450 311.5h7M1485 311.5h11M1451 312.5h7M1475 312.5h5M1484 312.5h11M1452 313.5h7M1474 313.5h6M1484 313.5h10M1456 314.5h3M1472 314.5h8M1484 314.5h8M1457 315.5h3M1470 315.5h11M1483 315.5h8M1458 316.5h3M1469 316.5h22M1459 317.5h4M1468 317.5h18M1460 318.5h14M1479 318.5h3M1461 319.5h11M1469 320.5h1" stroke="#6cc54a" stroke-width="1" fill="none"/>
<path d="M1462 304.5h1M1461 305.5h2M1468 305.5h1M1460 306.5h5M1467 306.5h3M1476 306.5h1M1458 307.5h20M1481 307.5h2M1457 308.5h6M1467 308.5h2M1472 308.5h12M1457 309.5h1M1474 309.5h11M1457 310.5h1M1475 310.5h10M1457 311.5h2M1474 311.5h11M1458 312.5h2M1474 312.5h1M1480 312.5h4M1459 313.5h2M1472 313.5h2M1480 313.5h4M1459 314.5h2M1469 314.5h3M1480 314.5h4M1460 315.5h3M1469 315.5h1M1481 315.5h2M1461 316.5h4M1467 316.5h2M1463 317.5h5" stroke="#b8dc3a" stroke-width="1" fill="none"/>
<path d="M1463 308.5h4M1469 308.5h3M1458 309.5h7M1473 309.5h1M1458 310.5h6M1474 310.5h1M1459 311.5h5M1473 311.5h1M1460 312.5h4M1473 312.5h1M1461 313.5h3M1470 313.5h2M1461 314.5h4M1463 315.5h2M1468 315.5h1M1465 316.5h2" stroke="#f0d828" stroke-width="1" fill="none"/>
<path d="M1465 309.5h8M1464 310.5h1M1473 310.5h1M1464 311.5h1M1464 312.5h1M1471 312.5h2M1464 313.5h1M1469 313.5h1M1465 314.5h1M1468 314.5h1M1465 315.5h3" stroke="#f08a28" stroke-width="1" fill="none"/>
<path d="M1465 310.5h8M1465 311.5h8M1465 312.5h6M1465 313.5h4M1466 314.5h2" stroke="#e8281e" stroke-width="1" fill="none"/>
<rect x="1496.6" y="286.4" width="85.5" height="50.6" fill="none" stroke="#333" stroke-width="1.3"/>
<text x="1545.75" y="283" style="font-size:16.7px" textLength="47.65" lengthAdjust="spacingAndGlyphs">6.34%</text>
<text x="1644.18" y="256.25" style="font-size:16.7px" textLength="174.2" lengthAdjust="spacingAndGlyphs">p53 inhibitory treatment</text>
<rect x="1638.25" y="263.25" width="183.25" height="182.25" fill="none" stroke="#4a4a4a" stroke-width="1.1"/>
<path d="M1638.25 301.85h-4.5M1638.25 347.55h-4.5M1638.25 403.85h-4.5" fill="none" stroke="#000" stroke-width="1.1"/>
<path d="M1638.25 288.09h-2.6M1638.25 280.05h-2.6M1638.25 274.34h-2.6M1638.25 269.91h-2.6M1638.25 266.29h-2.6M1638.25 333.79h-2.6M1638.25 325.75h-2.6M1638.25 320.04h-2.6M1638.25 315.61h-2.6M1638.25 311.99h-2.6M1638.25 308.93h-2.6M1638.25 306.28h-2.6M1638.25 303.94h-2.6M1638.25 361.55h-2.6M1638.25 374.55h-2.6M1638.25 385.55h-2.6M1638.25 391.85h-2.6M1638.25 396.85h-2.6M1638.25 400.85h-2.6M1638.25 406.85h-2.6M1638.25 410.85h-2.6M1638.25 415.85h-2.6M1638.25 423.85h-2.6M1638.25 433.85h-2.6M1638.25 441.85h-2.6" fill="none" stroke="#000" stroke-width="0.7"/>
<rect x="1634.85" y="400.85" width="2.8" height="6" fill="#000"/>
<path d="M1638.25 392.85h-3M1638.25 394.85h-3M1638.25 396.35h-3M1638.25 398.35h-3M1638.25 399.85h-3M1638.25 407.85h-3M1638.25 409.35h-3M1638.25 410.85h-3M1638.25 412.85h-3M1638.25 414.35h-3M1638.25 415.85h-3" fill="none" stroke="#000" stroke-width="0.9"/>
<text x="1617.25" y="304.55" style="font-size:8.2px">10<tspan dy="-3.6" style="font-size:5.58px">4</tspan></text>
<text x="1617.25" y="350.25" style="font-size:8.2px">10<tspan dy="-3.6" style="font-size:5.58px">3</tspan></text>
<text x="1624.65" y="406.75" style="font-size:8.2px">0</text>
<path d="M1648.85 445.5v4.5M1678.45 445.5v4.5M1709.35 445.5v4.5M1759.25 445.5v4.5M1803.25 445.5v4.5" fill="none" stroke="#000" stroke-width="1.1"/>
<path d="M1724.37 445.5v2.6M1733.16 445.5v2.6M1739.39 445.5v2.6M1744.23 445.5v2.6M1748.18 445.5v2.6M1751.52 445.5v2.6M1754.41 445.5v2.6M1756.97 445.5v2.6M1772.47 445.5v2.6M1780.2 445.5v2.6M1785.69 445.5v2.6M1789.94 445.5v2.6M1793.42 445.5v2.6M1796.36 445.5v2.6M1798.91 445.5v2.6M1801.15 445.5v2.6M1652.25 445.5v2.6M1655.25 445.5v2.6M1658.25 445.5v2.6M1661.25 445.5v2.6M1664.25 445.5v2.6M1667.25 445.5v2.6M1670.25 445.5v2.6M1672.75 445.5v2.6M1683.25 445.5v2.6M1686.25 445.5v2.6M1689.25 445.5v2.6M1692.25 445.5v2.6M1695.25 445.5v2.6M1698.25 445.5v2.6M1701.25 445.5v2.6M1704.25 445.5v2.6M1815.25 445.5v2.6" fill="none" stroke="#000" stroke-width="0.7"/>
<rect x="1674.75" y="446" width="7" height="3" fill="#000"/>
<text x="1644.75" y="464.3" style="font-size:8.2px">−10<tspan dy="-3.6" style="font-size:5.58px">3</tspan></text>
<text x="1681.25" y="464.3" style="font-size:8.2px">0</text>
<text x="1707.95" y="464.3" style="font-size:8.2px">10<tspan dy="-3.6" style="font-size:5.58px">3</tspan></text>
<text x="1757.75" y="464.3" style="font-size:8.2px">10<tspan dy="-3.6" style="font-size:5.58px">4</tspan></text>
<text x="1801.75" y="464.3" style="font-size:8.2px">10<tspan dy="-3.6" style="font-size:5.58px">5</tspan></text>
<path d="M1718 282.5h1M1749 282.5h1M1712 284.5h1M1723 284.5h1M1707 285.5h1M1712 285.5h1M1715 285.5h1M1744 285.5h1M1764 285.5h1M1710 286.5h1M1715 286.5h1M1723 286.5h1M1729 286.5h1M1748 286.5h1M1754 286.5h1M1684 287.5h1M1686 287.5h1M1690 287.5h3M1694 287.5h1M1697 287.5h1M1703 287.5h1M1728 287.5h1M1731 287.5h1M1738 287.5h1M1762 287.5h1M1680 288.5h1M1683 288.5h6M1690 288.5h14M1705 288.5h1M1710 288.5h1M1720 288.5h1M1743 288.5h1M1752 288.5h1M1677 289.5h2M1680 289.5h2M1683 289.5h1M1685 289.5h3M1689 289.5h7M1697 289.5h1M1700 289.5h6M1716 289.5h1M1722 289.5h2M1725 289.5h1M1729 289.5h1M1733 289.5h1M1747 289.5h1M1676 290.5h9M1686 290.5h6M1693 290.5h7M1703 290.5h7M1718 290.5h1M1720 290.5h2M1747 290.5h1M1671 291.5h2M1674 291.5h6M1681 291.5h3M1685 291.5h2M1706 291.5h4M1711 291.5h3M1729 291.5h1M1732 291.5h1M1739 291.5h1M1742 291.5h1M1745 291.5h1M1670 292.5h1M1672 292.5h12M1708 292.5h3M1712 292.5h1M1714 292.5h1M1718 292.5h1M1732 292.5h1M1742 292.5h1M1757 292.5h1M1671 293.5h7M1679 293.5h1M1711 293.5h2M1716 293.5h3M1720 293.5h1M1728 293.5h1M1743 293.5h1M1747 293.5h1M1753 293.5h1M1667 294.5h1M1669 294.5h5M1675 294.5h2M1713 294.5h2M1717 294.5h2M1722 294.5h1M1732 294.5h1M1735 294.5h1M1741 294.5h2M1746 294.5h2M1752 294.5h3M1646 295.5h1M1653 295.5h1M1666 295.5h1M1668 295.5h2M1671 295.5h5M1714 295.5h2M1719 295.5h1M1721 295.5h1M1725 295.5h1M1729 295.5h1M1735 295.5h1M1739 295.5h2M1742 295.5h1M1748 295.5h1M1751 295.5h1M1665 296.5h2M1669 296.5h5M1675 296.5h1M1716 296.5h3M1720 296.5h3M1728 296.5h1M1731 296.5h1M1736 296.5h1M1742 296.5h2M1748 296.5h2M1752 296.5h1M1755 296.5h2M1758 296.5h1M1763 296.5h1M1663 297.5h3M1667 297.5h9M1717 297.5h1M1719 297.5h2M1724 297.5h1M1733 297.5h2M1736 297.5h2M1745 297.5h1M1748 297.5h1M1759 297.5h1M1761 297.5h2M1649 298.5h1M1653 298.5h1M1663 298.5h9M1673 298.5h2M1717 298.5h3M1721 298.5h1M1724 298.5h4M1737 298.5h1M1739 298.5h2M1742 298.5h1M1744 298.5h1M1746 298.5h1M1748 298.5h1M1750 298.5h1M1752 298.5h1M1758 298.5h1M1764 298.5h1M1662 299.5h7M1670 299.5h5M1718 299.5h1M1720 299.5h1M1722 299.5h1M1725 299.5h1M1727 299.5h1M1729 299.5h1M1735 299.5h2M1744 299.5h1M1747 299.5h1M1753 299.5h1M1760 299.5h1M1661 300.5h4M1666 300.5h2M1670 300.5h5M1719 300.5h6M1731 300.5h1M1735 300.5h3M1742 300.5h2M1746 300.5h2M1749 300.5h1M1753 300.5h1M1756 300.5h1M1758 300.5h2M1655 301.5h1M1661 301.5h8M1671 301.5h3M1720 301.5h3M1727 301.5h2M1734 301.5h1M1741 301.5h2M1744 301.5h6M1758 301.5h1M1660 302.5h5M1667 302.5h2M1721 302.5h2M1726 302.5h1M1728 302.5h2M1731 302.5h1M1739 302.5h1M1745 302.5h1M1747 302.5h2M1756 302.5h2M1759 302.5h1M1761 302.5h2M1661 303.5h9M1722 303.5h4M1730 303.5h1M1732 303.5h1M1737 303.5h1M1739 303.5h3M1744 303.5h1M1746 303.5h1M1750 303.5h1M1753 303.5h1M1758 303.5h2M1658 304.5h1M1661 304.5h9M1722 304.5h2M1725 304.5h1M1730 304.5h2M1734 304.5h1M1736 304.5h4M1743 304.5h1M1745 304.5h2M1757 304.5h1M1759 304.5h1M1763 304.5h1M1650 305.5h2M1659 305.5h2M1662 305.5h2M1665 305.5h5M1723 305.5h2M1728 305.5h1M1730 305.5h1M1733 305.5h1M1735 305.5h2M1739 305.5h3M1747 305.5h2M1756 305.5h1M1760 305.5h1M1646 306.5h1M1648 306.5h1M1650 306.5h1M1660 306.5h1M1662 306.5h4M1667 306.5h3M1723 306.5h2M1729 306.5h1M1731 306.5h1M1733 306.5h1M1735 306.5h4M1742 306.5h1M1745 306.5h1M1747 306.5h3M1763 306.5h2M1660 307.5h3M1664 307.5h3M1668 307.5h2M1723 307.5h5M1729 307.5h1M1731 307.5h1M1736 307.5h1M1739 307.5h1M1741 307.5h1M1743 307.5h1M1753 307.5h1M1758 307.5h1M1760 307.5h2M1763 307.5h2M1645 308.5h1M1659 308.5h9M1722 308.5h5M1733 308.5h1M1738 308.5h1M1740 308.5h1M1742 308.5h1M1748 308.5h1M1755 308.5h1M1757 308.5h1M1760 308.5h1M1764 308.5h1M1650 309.5h1M1656 309.5h1M1659 309.5h11M1722 309.5h2M1725 309.5h1M1727 309.5h1M1733 309.5h2M1736 309.5h1M1740 309.5h1M1746 309.5h1M1748 309.5h1M1751 309.5h1M1760 309.5h2M1763 309.5h1M1659 310.5h10M1721 310.5h1M1723 310.5h1M1725 310.5h1M1729 310.5h1M1731 310.5h2M1734 310.5h1M1738 310.5h1M1741 310.5h1M1745 310.5h2M1748 310.5h1M1751 310.5h1M1753 310.5h1M1757 310.5h2M1764 310.5h1M1645 311.5h1M1659 311.5h2M1662 311.5h8M1721 311.5h3M1726 311.5h1M1728 311.5h1M1732 311.5h1M1737 311.5h1M1739 311.5h1M1741 311.5h1M1744 311.5h1M1747 311.5h1M1754 311.5h3M1763 311.5h1M1658 312.5h1M1661 312.5h2M1665 312.5h2M1668 312.5h2M1721 312.5h2M1724 312.5h1M1726 312.5h3M1732 312.5h2M1738 312.5h1M1741 312.5h1M1744 312.5h1M1752 312.5h1M1757 312.5h1M1760 312.5h1M1764 312.5h1M1648 313.5h1M1660 313.5h1M1664 313.5h1M1666 313.5h3M1721 313.5h3M1726 313.5h2M1733 313.5h1M1740 313.5h1M1744 313.5h1M1746 313.5h1M1748 313.5h1M1753 313.5h1M1755 313.5h1M1764 313.5h1M1660 314.5h3M1664 314.5h7M1721 314.5h2M1730 314.5h2M1734 314.5h1M1736 314.5h1M1738 314.5h1M1740 314.5h2M1743 314.5h3M1747 314.5h2M1751 314.5h1M1759 314.5h1M1649 315.5h1M1661 315.5h3M1665 315.5h2M1668 315.5h3M1720 315.5h4M1727 315.5h1M1729 315.5h1M1733 315.5h1M1735 315.5h3M1744 315.5h1M1747 315.5h1M1752 315.5h3M1756 315.5h2M1661 316.5h5M1668 316.5h2M1671 316.5h1M1719 316.5h3M1725 316.5h1M1727 316.5h2M1742 316.5h1M1745 316.5h1M1661 317.5h7M1669 317.5h4M1717 317.5h3M1721 317.5h1M1728 317.5h1M1731 317.5h1M1742 317.5h1M1745 317.5h1M1748 317.5h1M1750 317.5h1M1664 318.5h2M1667 318.5h2M1670 318.5h4M1715 318.5h1M1717 318.5h2M1721 318.5h2M1724 318.5h1M1730 318.5h1M1737 318.5h2M1743 318.5h1M1749 318.5h1M1663 319.5h3M1667 319.5h1M1670 319.5h9M1712 319.5h2M1716 319.5h4M1721 319.5h1M1723 319.5h1M1732 319.5h1M1743 319.5h1M1753 319.5h1M1758 319.5h1M1664 320.5h2M1667 320.5h10M1679 320.5h1M1712 320.5h6M1719 320.5h1M1721 320.5h1M1725 320.5h1M1727 320.5h1M1732 320.5h1M1738 320.5h1M1742 320.5h1M1746 320.5h1M1762 320.5h1M1665 321.5h1M1668 321.5h12M1712 321.5h7M1721 321.5h1M1723 321.5h2M1739 321.5h1M1747 321.5h1M1667 322.5h4M1672 322.5h9M1710 322.5h5M1717 322.5h1M1719 322.5h2M1723 322.5h1M1726 322.5h1M1729 322.5h1M1732 322.5h1M1750 322.5h2M1756 322.5h1M1668 323.5h14M1688 323.5h3M1701 323.5h3M1708 323.5h1M1710 323.5h3M1714 323.5h1M1718 323.5h1M1720 323.5h1M1741 323.5h1M1758 323.5h1M1671 324.5h5M1677 324.5h1M1680 324.5h10M1691 324.5h2M1700 324.5h2M1703 324.5h2M1706 324.5h7M1718 324.5h2M1722 324.5h2M1671 325.5h6M1678 325.5h2M1681 325.5h3M1685 325.5h7M1694 325.5h1M1699 325.5h14M1720 325.5h1M1722 325.5h1M1743 325.5h1M1674 326.5h3M1678 326.5h2M1681 326.5h5M1687 326.5h1M1689 326.5h2M1692 326.5h12M1705 326.5h3M1723 326.5h1M1737 326.5h1M1676 327.5h1M1678 327.5h16M1695 327.5h4M1700 327.5h6M1708 327.5h2M1759 327.5h1M1679 328.5h9M1689 328.5h8M1698 328.5h5M1712 328.5h1M1715 328.5h2M1738 328.5h1M1682 329.5h2M1685 329.5h2M1690 329.5h8M1699 329.5h1M1710 329.5h1M1718 329.5h1M1686 330.5h1M1710 330.5h1M1745 331.5h1M1756 332.5h1M1708 335.5h1" stroke="#3a4fc4" stroke-width="1" fill="none"/>
<path d="M1700 290.5h3M1687 291.5h7M1695 291.5h5M1701 291.5h4M1685 292.5h15M1701 292.5h6M1680 293.5h10M1691 293.5h20M1677 294.5h1M1679 294.5h4M1684 294.5h3M1688 294.5h6M1695 294.5h1M1699 294.5h14M1676 295.5h18M1702 295.5h2M1709 295.5h5M1676 296.5h14M1710 296.5h6M1676 297.5h11M1688 297.5h1M1711 297.5h6M1676 298.5h12M1710 298.5h7M1669 299.5h1M1675 299.5h1M1677 299.5h3M1711 299.5h7M1668 300.5h2M1675 300.5h4M1715 300.5h3M1669 301.5h2M1675 301.5h4M1716 301.5h4M1669 302.5h10M1716 302.5h5M1670 303.5h7M1678 303.5h1M1717 303.5h1M1719 303.5h3M1670 304.5h8M1717 304.5h5M1670 305.5h6M1719 305.5h4M1670 306.5h5M1719 306.5h4M1670 307.5h5M1718 307.5h5M1670 308.5h5M1718 308.5h2M1721 308.5h1M1670 309.5h5M1717 309.5h5M1670 310.5h5M1717 310.5h4M1670 311.5h6M1717 311.5h4M1670 312.5h8M1717 312.5h2M1720 312.5h1M1670 313.5h8M1717 313.5h4M1671 314.5h9M1716 314.5h5M1671 315.5h5M1677 315.5h5M1712 315.5h1M1715 315.5h5M1672 316.5h1M1674 316.5h4M1679 316.5h3M1683 316.5h1M1703 316.5h1M1705 316.5h2M1709 316.5h3M1713 316.5h6M1673 317.5h13M1701 317.5h16M1674 318.5h13M1700 318.5h1M1702 318.5h10M1714 318.5h1M1680 319.5h8M1698 319.5h14M1680 320.5h4M1685 320.5h6M1698 320.5h6M1705 320.5h7M1680 321.5h6M1687 321.5h1M1689 321.5h4M1697 321.5h10M1708 321.5h4M1681 322.5h9M1691 322.5h19M1683 323.5h3M1691 323.5h3M1695 323.5h6M1704 323.5h4M1693 324.5h1M1695 324.5h5M1705 324.5h1M1695 325.5h1M1697 325.5h2" stroke="#3d66cc" stroke-width="1" fill="none"/>
<path d="M1697 294.5h2M1695 295.5h7M1704 295.5h5M1690 296.5h6M1699 296.5h11M1689 297.5h3M1701 297.5h9M1688 298.5h2M1701 298.5h9M1680 299.5h6M1687 299.5h2M1702 299.5h9M1679 300.5h2M1683 300.5h4M1709 300.5h6M1679 301.5h1M1711 301.5h1M1713 301.5h3M1679 302.5h1M1713 302.5h3M1679 303.5h2M1714 303.5h3M1678 304.5h3M1715 304.5h2M1676 305.5h4M1715 305.5h4M1675 306.5h4M1716 306.5h3M1675 307.5h4M1716 307.5h2M1675 308.5h5M1716 308.5h2M1675 309.5h6M1715 309.5h2M1675 310.5h6M1715 310.5h2M1676 311.5h6M1715 311.5h2M1678 312.5h4M1715 312.5h2M1679 313.5h4M1715 313.5h2M1680 314.5h4M1703 314.5h4M1710 314.5h6M1682 315.5h4M1702 315.5h10M1713 315.5h2M1684 316.5h1M1686 316.5h1M1700 316.5h3M1707 316.5h2M1686 317.5h3M1698 317.5h3M1687 318.5h3M1697 318.5h1M1699 318.5h1M1688 319.5h5M1696 319.5h2M1691 320.5h7M1693 321.5h4" stroke="#3aaedc" stroke-width="1" fill="none"/>
<path d="M1696 296.5h3M1692 297.5h9M1690 298.5h3M1698 298.5h3M1689 299.5h2M1699 299.5h3M1681 300.5h2M1687 300.5h2M1700 300.5h9M1680 301.5h7M1702 301.5h9M1680 302.5h6M1704 302.5h4M1709 302.5h4M1681 303.5h5M1711 303.5h3M1681 304.5h5M1712 304.5h3M1680 305.5h6M1713 305.5h2M1679 306.5h7M1714 306.5h2M1679 307.5h5M1714 307.5h2M1680 308.5h3M1714 308.5h2M1681 309.5h2M1714 309.5h1M1681 310.5h2M1713 310.5h2M1682 311.5h1M1712 311.5h3M1682 312.5h2M1703 312.5h4M1710 312.5h5M1683 313.5h2M1703 313.5h12M1684 314.5h2M1702 314.5h1M1707 314.5h3M1686 315.5h7M1700 315.5h2M1687 316.5h7M1698 316.5h2M1689 317.5h9M1690 318.5h7M1694 319.5h2" stroke="#4cbf7a" stroke-width="1" fill="none"/>
<path d="M1693 298.5h5M1691 299.5h8M1689 300.5h11M1687 301.5h15M1686 302.5h8M1697 302.5h7M1708 302.5h1M1686 303.5h7M1698 303.5h13M1686 304.5h7M1699 304.5h13M1686 305.5h6M1700 305.5h13M1686 306.5h6M1701 306.5h13M1684 307.5h7M1701 307.5h13M1683 308.5h8M1700 308.5h14M1683 309.5h8M1700 309.5h14M1683 310.5h9M1699 310.5h14M1683 311.5h11M1699 311.5h13M1684 312.5h8M1693 312.5h3M1698 312.5h5M1707 312.5h3M1685 313.5h2M1688 313.5h15M1686 314.5h16M1693 315.5h7M1694 316.5h4" stroke="#6cc54a" stroke-width="1" fill="none"/>
<path d="M1694 302.5h3M1693 303.5h2M1697 303.5h1M1693 304.5h1M1698 304.5h1M1692 305.5h2M1699 305.5h1M1692 306.5h1M1699 306.5h2M1691 307.5h2M1699 307.5h2M1691 308.5h2M1699 308.5h1M1691 309.5h2M1698 309.5h2M1692 310.5h3M1698 310.5h1M1694 311.5h5M1696 312.5h2" stroke="#b8dc3a" stroke-width="1" fill="none"/>
<path d="M1695 303.5h2M1694 304.5h1M1697 304.5h1M1698 305.5h1M1693 306.5h1M1698 306.5h1M1698 307.5h1M1698 308.5h1M1693 309.5h1M1697 309.5h1M1695 310.5h3" stroke="#f0d828" stroke-width="1" fill="none"/>
<path d="M1695 304.5h2M1694 305.5h1M1697 305.5h1M1693 307.5h1M1693 308.5h1M1697 308.5h1M1694 309.5h3" stroke="#f08a28" stroke-width="1" fill="none"/>
<path d="M1695 305.5h2M1694 306.5h4M1694 307.5h4M1694 308.5h3" stroke="#e8281e" stroke-width="1" fill="none"/>
<rect x="1723.5" y="283.25" width="85.5" height="51" fill="none" stroke="#333" stroke-width="1.3"/>
<text x="1766.46" y="279.5" style="font-size:16.7px" textLength="48.15" lengthAdjust="spacingAndGlyphs">1.93%</text>
<text x="1408.22" y="499.5" style="font-size:16.7px" textLength="192.65" lengthAdjust="spacingAndGlyphs">AMPK inhibitory treatment</text>
<rect x="1411.75" y="510.5" width="182.75" height="182.75" fill="none" stroke="#4a4a4a" stroke-width="1.1"/>
<path d="M1411.75 549.1h-4.5M1411.75 594.8h-4.5M1411.75 651.1h-4.5" fill="none" stroke="#000" stroke-width="1.1"/>
<path d="M1411.75 535.34h-2.6M1411.75 527.3h-2.6M1411.75 521.59h-2.6M1411.75 517.16h-2.6M1411.75 513.54h-2.6M1411.75 581.04h-2.6M1411.75 573h-2.6M1411.75 567.29h-2.6M1411.75 562.86h-2.6M1411.75 559.24h-2.6M1411.75 556.18h-2.6M1411.75 553.53h-2.6M1411.75 551.19h-2.6M1411.75 608.8h-2.6M1411.75 621.8h-2.6M1411.75 632.8h-2.6M1411.75 639.1h-2.6M1411.75 644.1h-2.6M1411.75 648.1h-2.6M1411.75 654.1h-2.6M1411.75 658.1h-2.6M1411.75 663.1h-2.6M1411.75 671.1h-2.6M1411.75 681.1h-2.6M1411.75 689.1h-2.6" fill="none" stroke="#000" stroke-width="0.7"/>
<rect x="1408.35" y="648.1" width="2.8" height="6" fill="#000"/>
<path d="M1411.75 640.1h-3M1411.75 642.1h-3M1411.75 643.6h-3M1411.75 645.6h-3M1411.75 647.1h-3M1411.75 655.1h-3M1411.75 656.6h-3M1411.75 658.1h-3M1411.75 660.1h-3M1411.75 661.6h-3M1411.75 663.1h-3" fill="none" stroke="#000" stroke-width="0.9"/>
<text x="1390.75" y="551.8" style="font-size:8.2px">10<tspan dy="-3.6" style="font-size:5.58px">4</tspan></text>
<text x="1390.75" y="597.5" style="font-size:8.2px">10<tspan dy="-3.6" style="font-size:5.58px">3</tspan></text>
<text x="1398.15" y="654" style="font-size:8.2px">0</text>
<path d="M1422.35 693.25v4.5M1451.95 693.25v4.5M1482.85 693.25v4.5M1532.75 693.25v4.5M1576.75 693.25v4.5" fill="none" stroke="#000" stroke-width="1.1"/>
<path d="M1497.87 693.25v2.6M1506.66 693.25v2.6M1512.89 693.25v2.6M1517.73 693.25v2.6M1521.68 693.25v2.6M1525.02 693.25v2.6M1527.91 693.25v2.6M1530.47 693.25v2.6M1545.97 693.25v2.6M1553.7 693.25v2.6M1559.19 693.25v2.6M1563.44 693.25v2.6M1566.92 693.25v2.6M1569.86 693.25v2.6M1572.41 693.25v2.6M1574.65 693.25v2.6M1425.75 693.25v2.6M1428.75 693.25v2.6M1431.75 693.25v2.6M1434.75 693.25v2.6M1437.75 693.25v2.6M1440.75 693.25v2.6M1443.75 693.25v2.6M1446.25 693.25v2.6M1456.75 693.25v2.6M1459.75 693.25v2.6M1462.75 693.25v2.6M1465.75 693.25v2.6M1468.75 693.25v2.6M1471.75 693.25v2.6M1474.75 693.25v2.6M1477.75 693.25v2.6M1588.75 693.25v2.6" fill="none" stroke="#000" stroke-width="0.7"/>
<rect x="1448.25" y="693.75" width="7" height="3" fill="#000"/>
<text x="1418.25" y="712.05" style="font-size:8.2px">−10<tspan dy="-3.6" style="font-size:5.58px">3</tspan></text>
<text x="1454.75" y="712.05" style="font-size:8.2px">0</text>
<text x="1481.45" y="712.05" style="font-size:8.2px">10<tspan dy="-3.6" style="font-size:5.58px">3</tspan></text>
<text x="1531.25" y="712.05" style="font-size:8.2px">10<tspan dy="-3.6" style="font-size:5.58px">4</tspan></text>
<text x="1575.25" y="712.05" style="font-size:8.2px">10<tspan dy="-3.6" style="font-size:5.58px">5</tspan></text>
<path d="M1479 534.5h1M1517 535.5h1M1529 535.5h1M1484 537.5h1M1463 538.5h1M1462 539.5h1M1464 539.5h1M1470 539.5h1M1499 539.5h1M1456 540.5h1M1459 540.5h2M1465 540.5h1M1467 540.5h3M1473 540.5h1M1515 540.5h1M1455 541.5h1M1457 541.5h2M1463 541.5h1M1468 541.5h2M1472 541.5h1M1480 541.5h1M1485 541.5h1M1453 542.5h1M1456 542.5h3M1461 542.5h1M1463 542.5h5M1470 542.5h1M1472 542.5h2M1477 542.5h1M1481 542.5h1M1494 542.5h1M1522 542.5h1M1449 543.5h1M1453 543.5h1M1456 543.5h4M1466 543.5h1M1468 543.5h3M1472 543.5h6M1492 543.5h1M1533 543.5h1M1446 544.5h3M1450 544.5h5M1475 544.5h3M1480 544.5h1M1485 544.5h1M1443 545.5h2M1448 545.5h3M1478 545.5h6M1489 545.5h1M1499 545.5h1M1442 546.5h1M1444 546.5h1M1446 546.5h3M1480 546.5h2M1483 546.5h1M1485 546.5h2M1425 547.5h1M1444 547.5h3M1483 547.5h2M1519 547.5h1M1443 548.5h2M1485 548.5h2M1515 548.5h1M1518 548.5h1M1521 548.5h1M1440 549.5h1M1442 549.5h2M1486 549.5h1M1488 549.5h1M1492 549.5h1M1494 549.5h1M1520 549.5h1M1524 549.5h1M1441 550.5h1M1443 550.5h1M1487 550.5h4M1492 550.5h3M1514 550.5h1M1439 551.5h1M1488 551.5h3M1499 551.5h1M1506 551.5h1M1508 551.5h1M1522 551.5h1M1438 552.5h2M1441 552.5h1M1489 552.5h1M1492 552.5h2M1515 552.5h1M1517 552.5h1M1531 552.5h1M1422 553.5h1M1437 553.5h3M1441 553.5h2M1491 553.5h2M1510 553.5h1M1522 553.5h1M1529 553.5h1M1533 553.5h1M1436 554.5h2M1440 554.5h2M1490 554.5h3M1512 554.5h1M1526 554.5h1M1530 554.5h1M1532 554.5h1M1432 555.5h1M1437 555.5h3M1441 555.5h1M1491 555.5h2M1496 555.5h1M1507 555.5h1M1520 555.5h1M1532 555.5h1M1435 556.5h5M1491 556.5h4M1500 556.5h1M1535 556.5h1M1435 557.5h2M1438 557.5h1M1492 557.5h2M1504 557.5h1M1508 557.5h1M1511 557.5h1M1529 557.5h1M1531 557.5h1M1424 558.5h1M1435 558.5h2M1493 558.5h2M1507 558.5h1M1511 558.5h1M1514 558.5h1M1520 558.5h1M1529 558.5h1M1434 559.5h3M1493 559.5h1M1505 559.5h1M1517 559.5h1M1532 559.5h1M1435 560.5h2M1493 560.5h2M1496 560.5h1M1504 560.5h1M1510 560.5h1M1513 560.5h2M1517 560.5h1M1530 560.5h1M1532 560.5h1M1534 560.5h1M1493 561.5h2M1510 561.5h1M1517 561.5h1M1527 561.5h2M1536 561.5h1M1427 562.5h1M1434 562.5h3M1493 562.5h2M1498 562.5h1M1508 562.5h1M1515 562.5h1M1517 562.5h1M1520 562.5h2M1435 563.5h4M1493 563.5h2M1505 563.5h1M1507 563.5h1M1515 563.5h1M1525 563.5h1M1530 563.5h1M1533 563.5h1M1536 563.5h1M1420 564.5h1M1434 564.5h7M1493 564.5h2M1497 564.5h1M1503 564.5h1M1433 565.5h3M1438 565.5h4M1493 565.5h3M1511 565.5h2M1517 565.5h1M1519 565.5h1M1531 565.5h1M1434 566.5h4M1439 566.5h3M1493 566.5h2M1501 566.5h1M1509 566.5h1M1512 566.5h1M1515 566.5h1M1520 566.5h1M1527 566.5h1M1434 567.5h3M1438 567.5h2M1441 567.5h2M1493 567.5h2M1519 567.5h2M1527 567.5h1M1429 568.5h1M1434 568.5h4M1439 568.5h2M1442 568.5h2M1493 568.5h1M1500 568.5h1M1509 568.5h1M1526 568.5h1M1529 568.5h1M1533 568.5h1M1436 569.5h4M1442 569.5h3M1493 569.5h2M1496 569.5h2M1513 569.5h1M1519 569.5h1M1525 569.5h1M1527 569.5h1M1530 569.5h1M1435 570.5h4M1442 570.5h4M1493 570.5h1M1496 570.5h1M1501 570.5h1M1504 570.5h1M1509 570.5h1M1520 570.5h1M1522 570.5h1M1527 570.5h1M1424 571.5h1M1437 571.5h1M1439 571.5h3M1443 571.5h4M1493 571.5h1M1496 571.5h1M1504 571.5h2M1508 571.5h1M1513 571.5h1M1531 571.5h1M1436 572.5h7M1444 572.5h3M1492 572.5h1M1504 572.5h1M1512 572.5h1M1516 572.5h1M1535 572.5h1M1437 573.5h3M1441 573.5h4M1446 573.5h2M1449 573.5h3M1491 573.5h4M1438 574.5h4M1444 574.5h10M1488 574.5h4M1497 574.5h1M1501 574.5h1M1514 574.5h1M1519 574.5h2M1524 574.5h1M1440 575.5h1M1442 575.5h3M1446 575.5h6M1463 575.5h2M1487 575.5h2M1490 575.5h3M1497 575.5h1M1502 575.5h1M1530 575.5h1M1440 576.5h2M1443 576.5h12M1460 576.5h6M1486 576.5h1M1488 576.5h3M1525 576.5h1M1534 576.5h1M1441 577.5h3M1445 577.5h4M1450 577.5h1M1453 577.5h2M1459 577.5h1M1461 577.5h4M1466 577.5h2M1470 577.5h1M1472 577.5h5M1484 577.5h5M1503 577.5h1M1512 577.5h1M1530 577.5h1M1532 577.5h1M1445 578.5h1M1447 578.5h13M1462 578.5h9M1473 578.5h4M1478 578.5h2M1481 578.5h6M1491 578.5h1M1501 578.5h1M1520 578.5h1M1446 579.5h1M1448 579.5h11M1460 579.5h7M1468 579.5h6M1475 579.5h4M1480 579.5h6M1490 579.5h1M1503 579.5h1M1536 579.5h1M1447 580.5h3M1451 580.5h1M1453 580.5h4M1458 580.5h2M1462 580.5h15M1478 580.5h5M1489 580.5h1M1492 580.5h1M1521 580.5h1M1447 581.5h5M1453 581.5h3M1457 581.5h3M1461 581.5h7M1471 581.5h2M1474 581.5h8M1486 581.5h1M1493 581.5h1M1450 582.5h1M1452 582.5h1M1454 582.5h9M1464 582.5h6M1471 582.5h6M1484 582.5h1M1490 582.5h2M1531 582.5h1M1453 583.5h5M1459 583.5h6M1466 583.5h2M1469 583.5h5M1475 583.5h2M1485 583.5h1M1491 583.5h1M1534 583.5h1M1456 584.5h2M1459 584.5h1M1463 584.5h7M1480 584.5h1M1483 584.5h1M1507 584.5h1M1478 585.5h1M1492 585.5h1M1524 585.5h1M1478 586.5h1M1480 586.5h1M1487 586.5h1M1489 586.5h1M1521 588.5h1M1482 589.5h1M1481 590.5h1M1488 598.5h1" stroke="#3a4fc4" stroke-width="1" fill="none"/>
<path d="M1460 543.5h2M1463 543.5h2M1455 544.5h20M1451 545.5h4M1456 545.5h2M1459 545.5h1M1466 545.5h3M1470 545.5h1M1472 545.5h6M1449 546.5h10M1472 546.5h8M1447 547.5h10M1475 547.5h2M1478 547.5h5M1445 548.5h1M1447 548.5h9M1480 548.5h5M1444 549.5h4M1449 549.5h6M1482 549.5h4M1445 550.5h3M1484 550.5h3M1443 551.5h3M1485 551.5h3M1443 552.5h3M1486 552.5h3M1443 553.5h4M1487 553.5h3M1445 554.5h1M1487 554.5h3M1442 555.5h5M1488 555.5h2M1440 556.5h7M1488 556.5h3M1439 557.5h8M1488 557.5h4M1438 558.5h1M1440 558.5h7M1488 558.5h4M1437 559.5h9M1489 559.5h4M1437 560.5h9M1490 560.5h3M1437 561.5h8M1491 561.5h2M1438 562.5h1M1440 562.5h6M1491 562.5h2M1439 563.5h8M1448 563.5h2M1491 563.5h2M1441 564.5h9M1491 564.5h2M1442 565.5h8M1491 565.5h2M1443 566.5h8M1490 566.5h3M1443 567.5h8M1486 567.5h7M1445 568.5h2M1448 568.5h8M1485 568.5h2M1488 568.5h5M1445 569.5h2M1448 569.5h9M1484 569.5h9M1446 570.5h9M1457 570.5h1M1483 570.5h10M1447 571.5h2M1450 571.5h3M1454 571.5h4M1482 571.5h11M1447 572.5h12M1474 572.5h5M1482 572.5h10M1448 573.5h1M1453 573.5h15M1472 573.5h8M1482 573.5h5M1488 573.5h3M1454 574.5h9M1464 574.5h7M1472 574.5h15M1455 575.5h8M1466 575.5h14M1481 575.5h6M1455 576.5h5M1466 576.5h15M1482 576.5h1M1484 576.5h2M1456 577.5h2M1469 577.5h1M1477 577.5h1M1480 577.5h4M1480 578.5h1" stroke="#3d66cc" stroke-width="1" fill="none"/>
<path d="M1460 545.5h6M1469 545.5h1M1459 546.5h2M1466 546.5h6M1457 547.5h2M1468 547.5h6M1456 548.5h2M1469 548.5h1M1471 548.5h9M1455 549.5h2M1479 549.5h3M1449 550.5h7M1481 550.5h3M1446 551.5h9M1483 551.5h2M1446 552.5h8M1484 552.5h2M1447 553.5h3M1485 553.5h1M1447 554.5h2M1486 554.5h1M1447 555.5h2M1486 555.5h2M1447 556.5h2M1486 556.5h2M1447 557.5h2M1486 557.5h2M1447 558.5h1M1486 558.5h1M1446 559.5h3M1487 559.5h2M1446 560.5h3M1488 560.5h2M1445 561.5h5M1489 561.5h2M1446 562.5h4M1489 562.5h2M1450 563.5h1M1489 563.5h2M1450 564.5h2M1489 564.5h2M1450 565.5h3M1486 565.5h5M1451 566.5h4M1485 566.5h4M1451 567.5h5M1484 567.5h2M1456 568.5h1M1483 568.5h2M1457 569.5h1M1482 569.5h2M1458 570.5h1M1474 570.5h5M1480 570.5h3M1458 571.5h3M1472 571.5h10M1459 572.5h1M1461 572.5h9M1471 572.5h2M1479 572.5h3M1468 573.5h4M1480 573.5h2" stroke="#3aaedc" stroke-width="1" fill="none"/>
<path d="M1461 546.5h5M1459 547.5h3M1465 547.5h3M1458 548.5h2M1466 548.5h3M1457 549.5h1M1466 549.5h9M1476 549.5h3M1456 550.5h1M1466 550.5h3M1476 550.5h5M1455 551.5h2M1479 551.5h4M1454 552.5h2M1480 552.5h4M1450 553.5h5M1481 553.5h4M1449 554.5h3M1482 554.5h4M1449 555.5h1M1482 555.5h4M1449 556.5h1M1483 556.5h3M1485 557.5h1M1449 558.5h1M1484 558.5h2M1449 559.5h1M1485 559.5h2M1449 560.5h1M1486 560.5h2M1450 561.5h1M1486 561.5h3M1450 562.5h1M1486 562.5h3M1451 563.5h1M1486 563.5h3M1452 564.5h1M1485 564.5h4M1453 565.5h2M1485 565.5h1M1455 566.5h2M1484 566.5h1M1456 567.5h2M1483 567.5h1M1457 568.5h1M1475 568.5h3M1482 568.5h1M1458 569.5h1M1473 569.5h9M1459 570.5h2M1471 570.5h3M1479 570.5h1M1461 571.5h11M1470 572.5h1" stroke="#4cbf7a" stroke-width="1" fill="none"/>
<path d="M1462 547.5h3M1460 548.5h6M1458 549.5h2M1461 549.5h5M1457 550.5h9M1469 550.5h7M1457 551.5h22M1456 552.5h4M1463 552.5h17M1455 553.5h4M1464 553.5h7M1472 553.5h9M1452 554.5h7M1466 554.5h1M1474 554.5h8M1450 555.5h6M1457 555.5h1M1474 555.5h8M1450 556.5h7M1473 556.5h10M1450 557.5h6M1473 557.5h11M1450 558.5h4M1473 558.5h11M1450 559.5h1M1452 559.5h2M1474 559.5h11M1450 560.5h4M1474 560.5h12M1451 561.5h3M1456 561.5h2M1474 561.5h12M1451 562.5h8M1474 562.5h12M1452 563.5h7M1464 563.5h2M1475 563.5h11M1453 564.5h7M1463 564.5h4M1474 564.5h11M1456 565.5h5M1462 565.5h5M1473 565.5h12M1457 566.5h11M1470 566.5h14M1458 567.5h25M1458 568.5h17M1478 568.5h4M1459 569.5h14M1461 570.5h10" stroke="#6cc54a" stroke-width="1" fill="none"/>
<path d="M1461 552.5h2M1459 553.5h5M1471 553.5h1M1459 554.5h2M1464 554.5h2M1467 554.5h7M1458 555.5h2M1466 555.5h8M1457 556.5h2M1468 556.5h5M1456 557.5h3M1471 557.5h2M1454 558.5h5M1472 558.5h1M1454 559.5h6M1472 559.5h2M1454 560.5h7M1472 560.5h2M1454 561.5h2M1458 561.5h10M1471 561.5h3M1459 562.5h15M1459 563.5h5M1466 563.5h4M1472 563.5h3M1460 564.5h3M1467 564.5h7M1461 565.5h1M1467 565.5h6M1468 566.5h2" stroke="#b8dc3a" stroke-width="1" fill="none"/>
<path d="M1461 554.5h3M1460 555.5h1M1464 555.5h2M1459 556.5h1M1466 556.5h2M1459 557.5h1M1466 557.5h5M1459 558.5h1M1467 558.5h5M1460 559.5h1M1465 559.5h7M1461 560.5h11M1468 561.5h3M1470 563.5h2" stroke="#f0d828" stroke-width="1" fill="none"/>
<path d="M1461 555.5h3M1460 556.5h1M1465 556.5h1M1460 557.5h1M1465 557.5h1M1460 558.5h1M1465 558.5h2M1461 559.5h4" stroke="#f08a28" stroke-width="1" fill="none"/>
<path d="M1461 556.5h4M1461 557.5h4M1461 558.5h4" stroke="#e8281e" stroke-width="1" fill="none"/>
<rect x="1494.5" y="539.5" width="86" height="51" fill="none" stroke="#333" stroke-width="1.3"/>
<text x="1535.39" y="533.75" style="font-size:16.7px" textLength="48.21" lengthAdjust="spacingAndGlyphs">2.46%</text>
<text x="1659.12" y="499.1" style="font-size:16.7px" textLength="174.7" lengthAdjust="spacingAndGlyphs">p38 inhibitory treatment</text>
<path d="M1838 510H1654.3M1654.3 510V692.5H1838" fill="none" stroke="#4a4a4a" stroke-width="1.1"/>
<path d="M1654.3 548.6h-4.5M1654.3 594.3h-4.5M1654.3 650.6h-4.5" fill="none" stroke="#000" stroke-width="1.1"/>
<path d="M1654.3 534.84h-2.6M1654.3 526.8h-2.6M1654.3 521.09h-2.6M1654.3 516.66h-2.6M1654.3 513.04h-2.6M1654.3 580.54h-2.6M1654.3 572.5h-2.6M1654.3 566.79h-2.6M1654.3 562.36h-2.6M1654.3 558.74h-2.6M1654.3 555.68h-2.6M1654.3 553.03h-2.6M1654.3 550.69h-2.6M1654.3 608.3h-2.6M1654.3 621.3h-2.6M1654.3 632.3h-2.6M1654.3 638.6h-2.6M1654.3 643.6h-2.6M1654.3 647.6h-2.6M1654.3 653.6h-2.6M1654.3 657.6h-2.6M1654.3 662.6h-2.6M1654.3 670.6h-2.6M1654.3 680.6h-2.6M1654.3 688.6h-2.6" fill="none" stroke="#000" stroke-width="0.7"/>
<rect x="1650.9" y="647.6" width="2.8" height="6" fill="#000"/>
<path d="M1654.3 639.6h-3M1654.3 641.6h-3M1654.3 643.1h-3M1654.3 645.1h-3M1654.3 646.6h-3M1654.3 654.6h-3M1654.3 656.1h-3M1654.3 657.6h-3M1654.3 659.6h-3M1654.3 661.1h-3M1654.3 662.6h-3" fill="none" stroke="#000" stroke-width="0.9"/>
<text x="1633.3" y="551.3" style="font-size:8.2px">10<tspan dy="-3.6" style="font-size:5.58px">4</tspan></text>
<text x="1633.3" y="597" style="font-size:8.2px">10<tspan dy="-3.6" style="font-size:5.58px">3</tspan></text>
<text x="1640.7" y="653.5" style="font-size:8.2px">0</text>
<path d="M1664.9 692.5v4.5M1694.5 692.5v4.5M1725.4 692.5v4.5M1775.3 692.5v4.5M1819.3 692.5v4.5" fill="none" stroke="#000" stroke-width="1.1"/>
<path d="M1740.42 692.5v2.6M1749.21 692.5v2.6M1755.44 692.5v2.6M1760.28 692.5v2.6M1764.23 692.5v2.6M1767.57 692.5v2.6M1770.46 692.5v2.6M1773.02 692.5v2.6M1788.52 692.5v2.6M1796.25 692.5v2.6M1801.74 692.5v2.6M1805.99 692.5v2.6M1809.47 692.5v2.6M1812.41 692.5v2.6M1814.96 692.5v2.6M1817.2 692.5v2.6M1668.3 692.5v2.6M1671.3 692.5v2.6M1674.3 692.5v2.6M1677.3 692.5v2.6M1680.3 692.5v2.6M1683.3 692.5v2.6M1686.3 692.5v2.6M1688.8 692.5v2.6M1699.3 692.5v2.6M1702.3 692.5v2.6M1705.3 692.5v2.6M1708.3 692.5v2.6M1711.3 692.5v2.6M1714.3 692.5v2.6M1717.3 692.5v2.6M1720.3 692.5v2.6M1831.3 692.5v2.6" fill="none" stroke="#000" stroke-width="0.7"/>
<rect x="1690.8" y="693" width="7" height="3" fill="#000"/>
<text x="1660.8" y="711.3" style="font-size:8.2px">−10<tspan dy="-3.6" style="font-size:5.58px">3</tspan></text>
<text x="1697.3" y="711.3" style="font-size:8.2px">0</text>
<text x="1724" y="711.3" style="font-size:8.2px">10<tspan dy="-3.6" style="font-size:5.58px">3</tspan></text>
<text x="1773.8" y="711.3" style="font-size:8.2px">10<tspan dy="-3.6" style="font-size:5.58px">4</tspan></text>
<text x="1817.8" y="711.3" style="font-size:8.2px">10<tspan dy="-3.6" style="font-size:5.58px">5</tspan></text>
<path d="M1656 530.5h1M1681 530.5h1M1662 531.5h1M1705 534.5h1M1671 535.5h1M1706 535.5h1M1712 535.5h2M1715 535.5h1M1731 535.5h1M1750 535.5h1M1776 535.5h1M1703 536.5h3M1708 536.5h1M1710 536.5h1M1712 536.5h2M1715 536.5h2M1725 536.5h1M1664 537.5h1M1671 537.5h1M1673 537.5h2M1696 537.5h1M1700 537.5h1M1706 537.5h4M1711 537.5h1M1717 537.5h1M1720 537.5h1M1725 537.5h1M1759 537.5h1M1655 538.5h1M1697 538.5h1M1704 538.5h1M1707 538.5h2M1710 538.5h1M1712 538.5h2M1717 538.5h1M1719 538.5h2M1729 538.5h1M1740 538.5h1M1761 538.5h1M1658 539.5h2M1668 539.5h1M1693 539.5h1M1697 539.5h5M1704 539.5h6M1711 539.5h2M1714 539.5h1M1718 539.5h1M1726 539.5h1M1753 539.5h1M1657 540.5h1M1673 540.5h1M1689 540.5h1M1694 540.5h3M1698 540.5h2M1705 540.5h1M1713 540.5h7M1722 540.5h3M1726 540.5h1M1731 540.5h1M1734 540.5h2M1740 540.5h1M1746 540.5h1M1752 540.5h1M1756 540.5h1M1765 540.5h1M1670 541.5h1M1683 541.5h1M1688 541.5h1M1691 541.5h2M1695 541.5h7M1716 541.5h1M1718 541.5h8M1727 541.5h1M1729 541.5h3M1736 541.5h1M1747 541.5h1M1664 542.5h1M1666 542.5h1M1673 542.5h1M1684 542.5h1M1687 542.5h1M1690 542.5h1M1692 542.5h4M1697 542.5h1M1718 542.5h12M1734 542.5h1M1737 542.5h1M1740 542.5h1M1760 542.5h1M1784 542.5h1M1687 543.5h1M1690 543.5h1M1694 543.5h1M1727 543.5h5M1733 543.5h1M1738 543.5h1M1743 543.5h1M1657 544.5h1M1663 544.5h1M1665 544.5h1M1671 544.5h1M1676 544.5h1M1680 544.5h1M1684 544.5h4M1690 544.5h2M1693 544.5h1M1730 544.5h2M1733 544.5h1M1751 544.5h2M1758 544.5h1M1760 544.5h1M1763 544.5h2M1766 544.5h1M1781 544.5h1M1655 545.5h1M1671 545.5h2M1677 545.5h2M1682 545.5h2M1687 545.5h1M1689 545.5h4M1731 545.5h1M1737 545.5h1M1746 545.5h2M1782 545.5h1M1658 546.5h1M1661 546.5h1M1666 546.5h1M1669 546.5h1M1682 546.5h1M1684 546.5h2M1689 546.5h3M1732 546.5h1M1734 546.5h1M1764 546.5h3M1774 546.5h1M1656 547.5h1M1658 547.5h1M1661 547.5h1M1669 547.5h1M1674 547.5h1M1676 547.5h1M1678 547.5h1M1682 547.5h1M1685 547.5h2M1733 547.5h2M1740 547.5h1M1748 547.5h1M1763 547.5h1M1766 547.5h1M1769 547.5h1M1776 547.5h1M1781 547.5h1M1783 547.5h1M1656 548.5h2M1660 548.5h1M1662 548.5h1M1664 548.5h1M1666 548.5h1M1669 548.5h2M1676 548.5h1M1684 548.5h3M1689 548.5h1M1734 548.5h5M1740 548.5h1M1743 548.5h1M1757 548.5h1M1770 548.5h1M1775 548.5h1M1777 548.5h1M1779 548.5h1M1657 549.5h1M1667 549.5h1M1675 549.5h1M1679 549.5h1M1682 549.5h1M1685 549.5h1M1687 549.5h3M1735 549.5h2M1740 549.5h1M1744 549.5h1M1764 549.5h1M1767 549.5h2M1780 549.5h2M1655 550.5h3M1659 550.5h1M1663 550.5h1M1665 550.5h4M1670 550.5h1M1677 550.5h1M1680 550.5h1M1682 550.5h3M1687 550.5h1M1735 550.5h2M1761 550.5h1M1765 550.5h1M1774 550.5h1M1780 550.5h1M1783 550.5h1M1655 551.5h1M1659 551.5h2M1662 551.5h1M1665 551.5h1M1669 551.5h1M1671 551.5h1M1674 551.5h3M1680 551.5h1M1682 551.5h3M1687 551.5h1M1736 551.5h2M1740 551.5h1M1745 551.5h1M1749 551.5h1M1753 551.5h1M1756 551.5h1M1758 551.5h3M1763 551.5h1M1766 551.5h2M1769 551.5h1M1771 551.5h1M1655 552.5h2M1658 552.5h2M1661 552.5h1M1666 552.5h3M1670 552.5h1M1674 552.5h1M1677 552.5h1M1680 552.5h1M1682 552.5h1M1687 552.5h1M1737 552.5h3M1742 552.5h1M1746 552.5h1M1753 552.5h1M1759 552.5h3M1764 552.5h3M1770 552.5h1M1774 552.5h2M1656 553.5h3M1666 553.5h1M1669 553.5h1M1676 553.5h2M1682 553.5h2M1685 553.5h2M1736 553.5h5M1744 553.5h1M1746 553.5h3M1753 553.5h3M1757 553.5h2M1760 553.5h1M1762 553.5h3M1766 553.5h1M1768 553.5h1M1770 553.5h1M1774 553.5h1M1776 553.5h2M1781 553.5h1M1662 554.5h2M1665 554.5h1M1667 554.5h1M1669 554.5h1M1673 554.5h4M1678 554.5h1M1681 554.5h2M1685 554.5h2M1737 554.5h1M1747 554.5h1M1756 554.5h1M1764 554.5h3M1768 554.5h2M1771 554.5h1M1774 554.5h3M1779 554.5h2M1655 555.5h3M1662 555.5h2M1667 555.5h1M1669 555.5h3M1678 555.5h4M1683 555.5h3M1738 555.5h1M1740 555.5h1M1752 555.5h3M1757 555.5h1M1763 555.5h3M1767 555.5h1M1769 555.5h2M1656 556.5h1M1658 556.5h2M1661 556.5h2M1665 556.5h1M1670 556.5h1M1672 556.5h5M1679 556.5h1M1682 556.5h1M1685 556.5h2M1739 556.5h1M1746 556.5h1M1749 556.5h1M1751 556.5h1M1757 556.5h2M1762 556.5h2M1768 556.5h1M1770 556.5h2M1773 556.5h1M1778 556.5h1M1780 556.5h1M1782 556.5h1M1655 557.5h1M1659 557.5h1M1663 557.5h2M1666 557.5h1M1668 557.5h2M1671 557.5h2M1675 557.5h1M1679 557.5h4M1684 557.5h2M1687 557.5h1M1739 557.5h2M1748 557.5h1M1755 557.5h1M1757 557.5h1M1762 557.5h3M1766 557.5h3M1770 557.5h2M1784 557.5h1M1655 558.5h1M1657 558.5h1M1662 558.5h2M1665 558.5h2M1676 558.5h2M1682 558.5h2M1685 558.5h1M1687 558.5h1M1740 558.5h1M1747 558.5h1M1757 558.5h2M1760 558.5h1M1763 558.5h2M1766 558.5h2M1769 558.5h2M1773 558.5h1M1656 559.5h2M1661 559.5h1M1663 559.5h3M1670 559.5h1M1676 559.5h1M1681 559.5h2M1684 559.5h2M1740 559.5h1M1743 559.5h1M1746 559.5h1M1763 559.5h1M1765 559.5h1M1767 559.5h1M1772 559.5h1M1779 559.5h1M1655 560.5h1M1657 560.5h4M1663 560.5h1M1668 560.5h2M1671 560.5h1M1678 560.5h1M1680 560.5h1M1685 560.5h2M1743 560.5h1M1747 560.5h1M1750 560.5h1M1756 560.5h1M1758 560.5h2M1763 560.5h1M1765 560.5h2M1770 560.5h1M1775 560.5h1M1783 560.5h1M1656 561.5h1M1659 561.5h1M1661 561.5h1M1663 561.5h2M1674 561.5h1M1680 561.5h1M1685 561.5h3M1740 561.5h1M1753 561.5h2M1765 561.5h2M1768 561.5h3M1657 562.5h1M1662 562.5h1M1666 562.5h1M1676 562.5h2M1683 562.5h1M1685 562.5h3M1739 562.5h2M1745 562.5h1M1749 562.5h2M1755 562.5h1M1757 562.5h1M1773 562.5h1M1657 563.5h1M1660 563.5h1M1667 563.5h1M1669 563.5h1M1672 563.5h1M1684 563.5h4M1739 563.5h1M1744 563.5h1M1748 563.5h1M1763 563.5h1M1769 563.5h2M1776 563.5h1M1781 563.5h1M1784 563.5h1M1656 564.5h1M1658 564.5h1M1660 564.5h1M1664 564.5h1M1672 564.5h1M1676 564.5h1M1684 564.5h1M1686 564.5h3M1738 564.5h2M1750 564.5h2M1762 564.5h2M1766 564.5h1M1771 564.5h1M1780 564.5h2M1784 564.5h1M1655 565.5h1M1659 565.5h1M1664 565.5h1M1667 565.5h1M1672 565.5h1M1674 565.5h2M1682 565.5h1M1685 565.5h4M1737 565.5h5M1747 565.5h1M1755 565.5h1M1772 565.5h1M1780 565.5h1M1655 566.5h1M1658 566.5h1M1660 566.5h1M1679 566.5h1M1684 566.5h1M1687 566.5h3M1694 566.5h1M1736 566.5h3M1744 566.5h1M1747 566.5h1M1753 566.5h1M1759 566.5h1M1762 566.5h1M1764 566.5h1M1766 566.5h1M1655 567.5h1M1666 567.5h1M1675 567.5h1M1679 567.5h1M1685 567.5h1M1687 567.5h3M1691 567.5h4M1735 567.5h4M1740 567.5h1M1746 567.5h1M1749 567.5h1M1755 567.5h1M1761 567.5h1M1778 567.5h2M1667 568.5h1M1685 568.5h1M1688 568.5h5M1695 568.5h2M1735 568.5h3M1739 568.5h2M1746 568.5h1M1749 568.5h1M1762 568.5h1M1666 569.5h1M1682 569.5h1M1689 569.5h4M1694 569.5h1M1696 569.5h1M1703 569.5h5M1720 569.5h3M1724 569.5h1M1734 569.5h3M1738 569.5h4M1748 569.5h2M1778 569.5h1M1657 570.5h1M1671 570.5h1M1676 570.5h1M1684 570.5h1M1688 570.5h2M1691 570.5h6M1703 570.5h1M1705 570.5h5M1711 570.5h13M1733 570.5h3M1737 570.5h2M1755 570.5h1M1766 570.5h1M1769 570.5h1M1771 570.5h1M1780 570.5h1M1690 571.5h7M1700 571.5h4M1705 571.5h6M1712 571.5h2M1716 571.5h2M1719 571.5h1M1722 571.5h4M1733 571.5h3M1737 571.5h2M1768 571.5h1M1691 572.5h1M1693 572.5h3M1697 572.5h4M1702 572.5h5M1708 572.5h2M1712 572.5h2M1716 572.5h1M1718 572.5h9M1732 572.5h4M1737 572.5h1M1739 572.5h1M1776 572.5h1M1780 572.5h1M1664 573.5h1M1685 573.5h1M1691 573.5h2M1694 573.5h7M1702 573.5h1M1704 573.5h2M1707 573.5h9M1717 573.5h2M1721 573.5h3M1725 573.5h9M1739 573.5h1M1776 573.5h1M1678 574.5h1M1693 574.5h4M1698 574.5h14M1713 574.5h2M1716 574.5h18M1779 574.5h2M1694 575.5h3M1698 575.5h5M1704 575.5h3M1709 575.5h5M1715 575.5h2M1718 575.5h4M1723 575.5h4M1728 575.5h3M1732 575.5h1M1736 575.5h2M1752 575.5h1M1758 575.5h1M1784 575.5h1M1672 576.5h1M1697 576.5h3M1701 576.5h1M1703 576.5h12M1716 576.5h1M1718 576.5h4M1723 576.5h7M1733 576.5h1M1735 576.5h1M1748 576.5h1M1776 576.5h1M1697 577.5h1M1699 577.5h4M1704 577.5h6M1711 577.5h16M1737 577.5h1M1702 578.5h6M1709 578.5h1M1711 578.5h13M1725 578.5h1M1703 579.5h11M1716 579.5h3M1720 579.5h2M1728 579.5h1M1737 579.5h1M1758 579.5h1M1707 580.5h1M1709 580.5h1M1737 580.5h1M1659 581.5h1M1730 581.5h1M1758 581.5h1M1782 581.5h1M1735 584.5h1M1669 585.5h1M1736 586.5h1M1725 588.5h1" stroke="#3a4fc4" stroke-width="1" fill="none"/>
<path d="M1706 540.5h7M1702 541.5h14M1698 542.5h4M1703 542.5h1M1713 542.5h5M1697 543.5h1M1699 543.5h2M1715 543.5h12M1694 544.5h3M1717 544.5h11M1729 544.5h1M1693 545.5h2M1718 545.5h5M1724 545.5h7M1692 546.5h2M1721 546.5h11M1691 547.5h2M1724 547.5h9M1690 548.5h2M1728 548.5h6M1690 549.5h1M1729 549.5h6M1689 550.5h2M1731 550.5h4M1688 551.5h2M1731 551.5h5M1688 552.5h2M1730 552.5h6M1687 553.5h3M1730 553.5h4M1735 553.5h1M1687 554.5h3M1730 554.5h7M1687 555.5h3M1730 555.5h8M1687 556.5h5M1730 556.5h9M1688 557.5h5M1730 557.5h5M1736 557.5h3M1689 558.5h4M1730 558.5h4M1737 558.5h3M1688 559.5h5M1730 559.5h5M1737 559.5h3M1688 560.5h5M1730 560.5h10M1688 561.5h5M1720 561.5h4M1730 561.5h3M1734 561.5h6M1688 562.5h6M1719 562.5h5M1731 562.5h8M1688 563.5h7M1718 563.5h7M1729 563.5h8M1738 563.5h1M1689 564.5h9M1713 564.5h25M1689 565.5h14M1711 565.5h23M1735 565.5h2M1690 566.5h4M1695 566.5h12M1708 566.5h22M1731 566.5h1M1733 566.5h2M1696 567.5h10M1707 567.5h28M1697 568.5h21M1719 568.5h16M1697 569.5h6M1709 569.5h11M1725 569.5h9M1697 570.5h5M1725 570.5h7M1697 571.5h3M1726 571.5h3M1730 571.5h1M1727 572.5h4" stroke="#3d66cc" stroke-width="1" fill="none"/>
<path d="M1704 542.5h3M1710 542.5h3M1701 543.5h3M1712 543.5h3M1697 544.5h5M1714 544.5h3M1695 545.5h1M1716 545.5h2M1694 546.5h1M1718 546.5h3M1693 547.5h1M1720 547.5h4M1692 548.5h1M1722 548.5h5M1691 549.5h1M1723 549.5h6M1691 550.5h1M1724 550.5h7M1690 551.5h1M1724 551.5h7M1690 552.5h1M1724 552.5h6M1690 553.5h1M1725 553.5h5M1690 554.5h2M1726 554.5h4M1690 555.5h3M1728 555.5h2M1693 556.5h1M1728 556.5h2M1693 557.5h2M1729 557.5h1M1735 557.5h1M1693 558.5h2M1729 558.5h1M1734 558.5h3M1693 559.5h2M1721 559.5h3M1728 559.5h2M1735 559.5h2M1693 560.5h2M1720 560.5h5M1728 560.5h2M1693 561.5h3M1719 561.5h1M1724 561.5h2M1727 561.5h3M1694 562.5h4M1717 562.5h2M1724 562.5h5M1695 563.5h5M1712 563.5h6M1725 563.5h4M1698 564.5h5M1710 564.5h3M1703 565.5h8" stroke="#3aaedc" stroke-width="1" fill="none"/>
<path d="M1707 542.5h3M1704 543.5h2M1710 543.5h2M1702 544.5h2M1711 544.5h3M1696 545.5h2M1699 545.5h4M1714 545.5h2M1695 546.5h1M1716 546.5h2M1718 547.5h2M1693 548.5h1M1720 548.5h2M1692 549.5h1M1721 549.5h2M1692 550.5h1M1721 550.5h3M1691 551.5h1M1722 551.5h2M1691 552.5h1M1722 552.5h2M1691 553.5h2M1722 553.5h3M1692 554.5h1M1722 554.5h4M1693 555.5h1M1722 555.5h6M1694 556.5h1M1722 556.5h6M1695 557.5h1M1721 557.5h4M1727 557.5h2M1695 558.5h1M1720 558.5h5M1727 558.5h2M1695 559.5h2M1719 559.5h2M1724 559.5h4M1695 560.5h3M1718 560.5h2M1725 560.5h3M1696 561.5h3M1717 561.5h1M1726 561.5h1M1698 562.5h2M1712 562.5h5M1700 563.5h3M1710 563.5h2M1703 564.5h7" stroke="#4cbf7a" stroke-width="1" fill="none"/>
<path d="M1706 543.5h4M1704 544.5h7M1698 545.5h1M1703 545.5h11M1696 546.5h20M1694 547.5h24M1694 548.5h11M1709 548.5h11M1693 549.5h10M1716 549.5h5M1693 550.5h9M1717 550.5h4M1692 551.5h9M1717 551.5h5M1692 552.5h8M1717 552.5h5M1693 553.5h6M1717 553.5h5M1693 554.5h6M1717 554.5h5M1694 555.5h5M1716 555.5h6M1695 556.5h4M1716 556.5h5M1696 557.5h3M1715 557.5h6M1725 557.5h2M1696 558.5h4M1712 558.5h8M1725 558.5h2M1697 559.5h7M1711 559.5h8M1698 560.5h20M1699 561.5h18M1700 562.5h12M1703 563.5h3M1707 563.5h3" stroke="#6cc54a" stroke-width="1" fill="none"/>
<path d="M1705 548.5h4M1703 549.5h2M1708 549.5h8M1702 550.5h2M1714 550.5h3M1701 551.5h2M1715 551.5h2M1700 552.5h2M1714 552.5h3M1699 553.5h2M1713 553.5h4M1699 554.5h2M1712 554.5h5M1699 555.5h1M1711 555.5h5M1699 556.5h1M1710 556.5h6M1699 557.5h3M1706 557.5h9M1700 558.5h12M1704 559.5h7" stroke="#b8dc3a" stroke-width="1" fill="none"/>
<path d="M1705 549.5h3M1710 550.5h4M1713 551.5h2M1702 552.5h1M1713 552.5h1M1701 553.5h1M1712 553.5h1M1701 554.5h1M1710 554.5h2M1700 555.5h2M1707 555.5h4M1700 556.5h10M1702 557.5h4" stroke="#f0d828" stroke-width="1" fill="none"/>
<path d="M1704 550.5h6M1703 551.5h1M1710 551.5h3M1703 552.5h1M1711 552.5h2M1702 553.5h1M1709 553.5h3M1702 554.5h2M1707 554.5h3M1702 555.5h5" stroke="#f08a28" stroke-width="1" fill="none"/>
<path d="M1704 551.5h6M1704 552.5h1M1706 552.5h5M1703 553.5h6M1704 554.5h3" stroke="#e8281e" stroke-width="1" fill="none"/>
<rect x="1740.2" y="532.1" width="85.3" height="51.3" fill="none" stroke="#333" stroke-width="1.3"/>
<text x="1784.05" y="526.75" style="font-size:16.7px" textLength="47.75" lengthAdjust="spacingAndGlyphs">2.91%</text>
<line x1="1381.75" y1="268.75" x2="1381.75" y2="492.6" stroke="#000" stroke-width="2.1"/>
<path d="M1375.95 279.25 L1381.75 268.75 L1387.55 279.25" fill="none" stroke="#000" stroke-width="2" stroke-linejoin="miter"/>
<text x="1368.73" y="517.3" style="font-size:16.7px" transform="rotate(-90 1385.5 517.3)">CD8</text>
<line x1="1381.75" y1="537.1" x2="1381.75" y2="722" stroke="#000" stroke-width="1.7"/>
<line x1="1380.95" y1="721.25" x2="1594.5" y2="721.25" stroke="#000" stroke-width="1.6"/>
<text x="1601.66" y="727.5" style="font-size:16.7px" textLength="53.65" lengthAdjust="spacingAndGlyphs">GLUT1</text>
<line x1="1667.3" y1="721.25" x2="1832.3" y2="721.25" stroke="#000" stroke-width="2"/>
<path d="M1821.8 715.45 L1832.3 721.25 L1821.8 727.05" fill="none" stroke="#000" stroke-width="2"/>
<text x="335.07" y="777.3" style="font-size:42.8px;font-weight:bold" textLength="23.14" lengthAdjust="spacingAndGlyphs">c</text>
<rect x="545.3" y="767.5" width="202.2" height="39.9" fill="#d9d9d9" stroke="#3a3a3a" stroke-width="1.3"/>
<text x="573.75" y="793.8" style="font-size:21px" textLength="145.18" lengthAdjust="spacingAndGlyphs">Glucose uptake</text>
<line x1="486.2" y1="836.7" x2="486.2" y2="948.8" stroke="#000" stroke-width="3.3"/>
<line x1="486.2" y1="965.5" x2="486.2" y2="1076.8" stroke="#000" stroke-width="3.3"/>
<line x1="479.2" y1="837.9" x2="486.2" y2="837.9" stroke="#000" stroke-width="2.9"/>
<text x="453.58" y="843.7" style="font-size:16.7px">60</text>
<line x1="479.2" y1="878.4" x2="486.2" y2="878.4" stroke="#000" stroke-width="2.9"/>
<text x="453.58" y="884.2" style="font-size:16.7px">40</text>
<line x1="479.2" y1="918.6" x2="486.2" y2="918.6" stroke="#000" stroke-width="2.9"/>
<text x="453.58" y="924.4" style="font-size:16.7px">20</text>
<line x1="479.2" y1="948.8" x2="493.2" y2="948.8" stroke="#000" stroke-width="2.9"/>
<line x1="479.2" y1="965.5" x2="493.2" y2="965.5" stroke="#000" stroke-width="2.9"/>
<text x="462.91" y="971.3" style="font-size:16.7px">5</text>
<line x1="479.2" y1="987.6" x2="486.2" y2="987.6" stroke="#000" stroke-width="2.9"/>
<text x="462.7" y="993.4" style="font-size:16.7px">4</text>
<line x1="479.2" y1="1009.5" x2="486.2" y2="1009.5" stroke="#000" stroke-width="2.9"/>
<text x="462.95" y="1015.3" style="font-size:16.7px">3</text>
<line x1="479.2" y1="1031.3" x2="486.2" y2="1031.3" stroke="#000" stroke-width="2.9"/>
<text x="463.05" y="1037.1" style="font-size:16.7px">2</text>
<line x1="479.2" y1="1053.5" x2="486.2" y2="1053.5" stroke="#000" stroke-width="2.9"/>
<text x="463.03" y="1059.3" style="font-size:16.7px">1</text>
<line x1="479.2" y1="1075.3" x2="486.2" y2="1075.3" stroke="#000" stroke-width="2.9"/>
<text x="462.86" y="1081.1" style="font-size:16.7px">0</text>
<line x1="479.5" y1="1075.3" x2="806.4" y2="1075.3" stroke="#000" stroke-width="3.3"/>
<line x1="526.3" y1="1075.3" x2="526.3" y2="1082.3" stroke="#000" stroke-width="3.6"/>
<line x1="605.3" y1="1075.3" x2="605.3" y2="1082.3" stroke="#000" stroke-width="3.6"/>
<line x1="684.7" y1="1075.3" x2="684.7" y2="1082.3" stroke="#000" stroke-width="3.6"/>
<line x1="764.1" y1="1075.3" x2="764.1" y2="1082.3" stroke="#000" stroke-width="3.6"/>
<line x1="489.9" y1="1053.5" x2="791.5" y2="1053.5" stroke="#999" stroke-width="1" stroke-dasharray="3,2.5"/>
<circle cx="526.27" cy="872.89" r="4.9" fill="#000"/>
<circle cx="526.27" cy="906.17" r="4.9" fill="#000"/>
<circle cx="518.65" cy="945.69" r="4.9" fill="#000"/>
<circle cx="533.21" cy="939.1" r="4.9" fill="#000"/>
<circle cx="526.27" cy="972.38" r="4.9" fill="#000"/>
<circle cx="526.27" cy="1020.92" r="4.9" fill="#000"/>
<circle cx="511.71" cy="1039.29" r="4.9" fill="#000"/>
<circle cx="526.27" cy="1040.68" r="4.9" fill="#000"/>
<circle cx="540.84" cy="1033.05" r="4.9" fill="#000"/>
<circle cx="506.51" cy="1046.57" r="4.9" fill="#000"/>
<circle cx="545.69" cy="1053.51" r="4.9" fill="#000"/>
<circle cx="516.22" cy="1059.75" r="4.9" fill="#000"/>
<circle cx="526.27" cy="1060.79" r="4.9" fill="#000"/>
<circle cx="535.98" cy="1059.75" r="4.9" fill="#000"/>
<circle cx="605.32" cy="929.4" r="4.9" fill="#000"/>
<circle cx="598.04" cy="942.22" r="4.9" fill="#000"/>
<circle cx="612.25" cy="947.77" r="4.9" fill="#000"/>
<circle cx="585.21" cy="1000.12" r="4.9" fill="#000"/>
<circle cx="598.38" cy="1008.78" r="4.9" fill="#000"/>
<circle cx="612.25" cy="1004.28" r="4.9" fill="#000"/>
<circle cx="625.43" cy="1000.12" r="4.9" fill="#000"/>
<circle cx="598.38" cy="1028.55" r="4.9" fill="#000"/>
<circle cx="612.25" cy="1031.32" r="4.9" fill="#000"/>
<circle cx="584.17" cy="1044.15" r="4.9" fill="#000"/>
<circle cx="592.14" cy="1047.61" r="4.9" fill="#000"/>
<circle cx="618.15" cy="1045.88" r="4.9" fill="#000"/>
<circle cx="626.81" cy="1041.72" r="4.9" fill="#000"/>
<circle cx="609.82" cy="1050.04" r="4.9" fill="#000"/>
<circle cx="601.5" cy="1054.55" r="4.9" fill="#000"/>
<circle cx="677.77" cy="945.34" r="4.9" fill="#000"/>
<circle cx="691.64" cy="945.34" r="4.9" fill="#000"/>
<circle cx="684.71" cy="1003.93" r="4.9" fill="#000"/>
<circle cx="670.84" cy="1023.35" r="4.9" fill="#000"/>
<circle cx="691.64" cy="1022.65" r="4.9" fill="#000"/>
<circle cx="677.77" cy="1036.52" r="4.9" fill="#000"/>
<circle cx="698.92" cy="1048.65" r="4.9" fill="#000"/>
<circle cx="691.64" cy="1055.93" r="4.9" fill="#000"/>
<circle cx="677.77" cy="1063.56" r="4.9" fill="#000"/>
<circle cx="771.38" cy="911.71" r="4.9" fill="#000"/>
<circle cx="757.16" cy="919.34" r="4.9" fill="#000"/>
<circle cx="764.1" cy="934.94" r="4.9" fill="#000"/>
<circle cx="764.1" cy="978.62" r="4.9" fill="#000"/>
<circle cx="750.23" cy="1012.25" r="4.9" fill="#000"/>
<circle cx="778.31" cy="1009.48" r="4.9" fill="#000"/>
<circle cx="764.1" cy="1015.72" r="4.9" fill="#000"/>
<circle cx="744.68" cy="1033.75" r="4.9" fill="#000"/>
<circle cx="754.39" cy="1039.99" r="4.9" fill="#000"/>
<circle cx="774.15" cy="1039.99" r="4.9" fill="#000"/>
<circle cx="783.86" cy="1037.21" r="4.9" fill="#000"/>
<circle cx="764.1" cy="1046.57" r="4.9" fill="#000"/>
<line x1="499.6" y1="1033" x2="552.3" y2="1033" stroke="#000" stroke-width="2.6"/>
<line x1="579.3" y1="1028.5" x2="632" y2="1028.5" stroke="#000" stroke-width="2.6"/>
<line x1="658.4" y1="1023.3" x2="711.7" y2="1023.3" stroke="#000" stroke-width="2.6"/>
<line x1="737.8" y1="1012.3" x2="790.4" y2="1012.3" stroke="#000" stroke-width="2.6"/>
<text x="494.33" y="860.4" style="font-size:16.7px" textLength="43.13" lengthAdjust="spacingAndGlyphs">0.003</text>
<text x="571.14" y="860.4" style="font-size:16.7px" textLength="54.12" lengthAdjust="spacingAndGlyphs">&lt;0.001</text>
<text x="654.93" y="860.4" style="font-size:16.7px" textLength="43.14" lengthAdjust="spacingAndGlyphs">0.027</text>
<text x="737.55" y="860.4" style="font-size:16.7px" textLength="53.09" lengthAdjust="spacingAndGlyphs">&lt;0.001</text>
<text x="500.22" y="1099.2" style="font-size:16.7px" transform="rotate(-33 534.1 1099.2)">ATM</text>
<text x="585.72" y="1099.1" style="font-size:16.7px" transform="rotate(-33 612.85 1099.1)">p53</text>
<text x="644.86" y="1099.2" style="font-size:16.7px" transform="rotate(-33 692 1099.2)">AMPK</text>
<text x="744.26" y="1099.1" style="font-size:16.7px" transform="rotate(-33 771.4 1099.1)">p38</text>
<line x1="489.6" y1="1152.1" x2="787.3" y2="1152.1" stroke="#000" stroke-width="5" opacity="0.05"/>
<line x1="490.6" y1="1151.6" x2="786.3" y2="1151.6" stroke="#000" stroke-width="3" opacity="0.06"/>
<line x1="490.6" y1="1150.6" x2="786.3" y2="1150.6" stroke="#5a5a5a" stroke-width="1.2"/>
<text x="585.66" y="1175.9" style="font-size:21.3px" textLength="108.71" lengthAdjust="spacingAndGlyphs">Inhibitors of</text>
<text x="370.78" y="957.5" style="font-size:16.7px" textLength="92.22" lengthAdjust="spacingAndGlyphs" transform="rotate(-90 417.2 957.5)">Fold change</text>
<text x="312.65" y="957" style="font-size:16.7px" textLength="252.37" lengthAdjust="spacingAndGlyphs" transform="rotate(-90 438.6 957)">%2NBDG+/CD8 treated/untreated</text>
<text x="886.61" y="777.4" style="font-size:42.5px;font-weight:bold" textLength="26.67" lengthAdjust="spacingAndGlyphs">d</text>
<rect x="1033.6" y="767.5" width="205.6" height="39.9" fill="#d9d9d9" stroke="#3a3a3a" stroke-width="1.3"/>
<text x="1058.27" y="793.8" style="font-size:21px" textLength="155.59" lengthAdjust="spacingAndGlyphs">PD-1 expression</text>
<line x1="996.8" y1="842.9" x2="996.8" y2="1083.1" stroke="#000" stroke-width="3.3"/>
<line x1="989.8" y1="844.1" x2="996.8" y2="844.1" stroke="#000" stroke-width="2.9"/>
<text x="959.09" y="849.9" style="font-size:16.7px">1.5</text>
<line x1="989.8" y1="923.8" x2="996.8" y2="923.8" stroke="#000" stroke-width="2.9"/>
<text x="959.04" y="929.6" style="font-size:16.7px">1.0</text>
<line x1="989.8" y1="1003.2" x2="996.8" y2="1003.2" stroke="#000" stroke-width="2.9"/>
<text x="959.09" y="1009" style="font-size:16.7px">0.5</text>
<line x1="989.8" y1="1081.6" x2="996.8" y2="1081.6" stroke="#000" stroke-width="2.9"/>
<text x="959.04" y="1087.4" style="font-size:16.7px">0.0</text>
<line x1="989.6" y1="1081.6" x2="1314.8" y2="1081.6" stroke="#000" stroke-width="3.3"/>
<line x1="1035.7" y1="1081.6" x2="1035.7" y2="1088.5" stroke="#000" stroke-width="3.6"/>
<line x1="1115.1" y1="1081.6" x2="1115.1" y2="1088.5" stroke="#000" stroke-width="3.6"/>
<line x1="1194.1" y1="1081.6" x2="1194.1" y2="1088.5" stroke="#000" stroke-width="3.6"/>
<line x1="1273.2" y1="1081.6" x2="1273.2" y2="1088.5" stroke="#000" stroke-width="3.6"/>
<line x1="1001" y1="923.8" x2="1309.6" y2="923.8" stroke="#000" stroke-width="2.6" stroke-dasharray="0,6.85" stroke-linecap="round"/>
<circle cx="1021.85" cy="938.41" r="5" fill="#000"/>
<circle cx="1043.34" cy="935.98" r="5" fill="#000"/>
<circle cx="1028.78" cy="949.5" r="5" fill="#000"/>
<circle cx="1021.85" cy="964.41" r="5" fill="#000"/>
<circle cx="1043.34" cy="961.98" r="5" fill="#000"/>
<circle cx="1050.27" cy="969.61" r="5" fill="#000"/>
<circle cx="1016.3" cy="979.32" r="5" fill="#000"/>
<circle cx="1036.41" cy="976.54" r="5" fill="#000"/>
<circle cx="1056.17" cy="978.28" r="5" fill="#000"/>
<circle cx="1046.11" cy="986.25" r="5" fill="#000"/>
<circle cx="1026.7" cy="993.18" r="5" fill="#000"/>
<circle cx="1036.41" cy="993.18" r="5" fill="#000"/>
<circle cx="1036.41" cy="1019.19" r="5" fill="#000"/>
<circle cx="1115.1" cy="931.82" r="5" fill="#000"/>
<circle cx="1108.52" cy="957.48" r="5" fill="#000"/>
<circle cx="1122.38" cy="960.94" r="5" fill="#000"/>
<circle cx="1136.25" cy="968.22" r="5" fill="#000"/>
<circle cx="1088.41" cy="975.5" r="5" fill="#000"/>
<circle cx="1108.52" cy="978.28" r="5" fill="#000"/>
<circle cx="1122.38" cy="976.89" r="5" fill="#000"/>
<circle cx="1095.34" cy="985.9" r="5" fill="#000"/>
<circle cx="1135.56" cy="987.98" r="5" fill="#000"/>
<circle cx="1108.52" cy="997.34" r="5" fill="#000"/>
<circle cx="1122.38" cy="998.38" r="5" fill="#000"/>
<circle cx="1122.38" cy="1016.41" r="5" fill="#000"/>
<circle cx="1108.17" cy="1024.39" r="5" fill="#000"/>
<circle cx="1194.15" cy="876.01" r="5" fill="#000"/>
<circle cx="1174.39" cy="942.92" r="5" fill="#000"/>
<circle cx="1187.91" cy="947.08" r="5" fill="#000"/>
<circle cx="1201.08" cy="951.58" r="5" fill="#000"/>
<circle cx="1214.25" cy="945.34" r="5" fill="#000"/>
<circle cx="1201.77" cy="986.25" r="5" fill="#000"/>
<circle cx="1187.21" cy="995.61" r="5" fill="#000"/>
<circle cx="1194.15" cy="1030.28" r="5" fill="#000"/>
<circle cx="1194.15" cy="1058.01" r="5" fill="#000"/>
<circle cx="1253.08" cy="924.19" r="5" fill="#000"/>
<circle cx="1293.64" cy="929.05" r="5" fill="#000"/>
<circle cx="1266.95" cy="936.68" r="5" fill="#000"/>
<circle cx="1280.12" cy="937.37" r="5" fill="#000"/>
<circle cx="1260.02" cy="946.04" r="5" fill="#000"/>
<circle cx="1273.88" cy="955.74" r="5" fill="#000"/>
<circle cx="1287.75" cy="949.5" r="5" fill="#000"/>
<circle cx="1253.78" cy="961.98" r="5" fill="#000"/>
<circle cx="1266.95" cy="967.88" r="5" fill="#000"/>
<circle cx="1293.64" cy="966.84" r="5" fill="#000"/>
<circle cx="1280.12" cy="972.04" r="5" fill="#000"/>
<circle cx="1266.95" cy="992.84" r="5" fill="#000"/>
<circle cx="1280.12" cy="992.84" r="5" fill="#000"/>
<line x1="1009.4" y1="976.5" x2="1062.4" y2="976.5" stroke="#000" stroke-width="2.6"/>
<line x1="1088.4" y1="978.6" x2="1142.1" y2="978.6" stroke="#000" stroke-width="2.6"/>
<line x1="1168.1" y1="951.6" x2="1220.8" y2="951.6" stroke="#000" stroke-width="2.6"/>
<line x1="1247.2" y1="955.7" x2="1299.9" y2="955.7" stroke="#000" stroke-width="2.6"/>
<text x="1005.08" y="866.6" style="font-size:16.7px" textLength="51.23" lengthAdjust="spacingAndGlyphs">&lt;0.001</text>
<text x="1081.37" y="866.6" style="font-size:16.7px" textLength="51.85" lengthAdjust="spacingAndGlyphs">&lt;0.001</text>
<text x="1168.14" y="866.6" style="font-size:16.7px" textLength="42.36" lengthAdjust="spacingAndGlyphs">0.039</text>
<text x="1259.86" y="866.6" style="font-size:16.7px" textLength="52.26" lengthAdjust="spacingAndGlyphs">&lt;0.001</text>
<text x="1009.62" y="1105.5" style="font-size:16.7px" transform="rotate(-33 1043.5 1105.5)">ATM</text>
<text x="1095.52" y="1105.4" style="font-size:16.7px" transform="rotate(-33 1122.65 1105.4)">p53</text>
<text x="1154.26" y="1105.5" style="font-size:16.7px" transform="rotate(-33 1201.4 1105.5)">AMPK</text>
<text x="1253.36" y="1105.4" style="font-size:16.7px" transform="rotate(-33 1280.5 1105.4)">p38</text>
<line x1="988.6" y1="1152.1" x2="1285.3" y2="1152.1" stroke="#000" stroke-width="5" opacity="0.05"/>
<line x1="989.6" y1="1151.6" x2="1284.3" y2="1151.6" stroke="#000" stroke-width="3" opacity="0.06"/>
<line x1="989.6" y1="1150.6" x2="1284.3" y2="1150.6" stroke="#5a5a5a" stroke-width="1.2"/>
<text x="1084.77" y="1175.9" style="font-size:21.3px" textLength="108.3" lengthAdjust="spacingAndGlyphs">Inhibitors of</text>
<text x="866.11" y="963.9" style="font-size:16.7px" textLength="93.34" lengthAdjust="spacingAndGlyphs" transform="rotate(-90 913.1 963.9)">Fold change</text>
<text x="821.9" y="964" style="font-size:16.7px" textLength="227.68" lengthAdjust="spacingAndGlyphs" transform="rotate(-90 935.5 964)">%PD1+/CD8 treated/untreated</text>
<text x="334.37" y="1245.3" style="font-size:42.8px;font-weight:bold" textLength="24.65" lengthAdjust="spacingAndGlyphs">e</text>
<rect x="546.5" y="1236.8" width="168.6" height="40.3" fill="#d9d9d9" stroke="#3a3a3a" stroke-width="1.3"/>
<text x="570.27" y="1263.7" style="font-size:21px" textLength="121.23" lengthAdjust="spacingAndGlyphs">% IFN-γ/CD8</text>
<rect x="844.7" y="1236.8" width="177.3" height="40.3" fill="#d9d9d9" stroke="#3a3a3a" stroke-width="1.3"/>
<text x="866.35" y="1263.7" style="font-size:21px" textLength="133.17" lengthAdjust="spacingAndGlyphs">% TNF-α/CD8</text>
<rect x="1149.9" y="1236.8" width="143.8" height="40.3" fill="#d9d9d9" stroke="#3a3a3a" stroke-width="1.3"/>
<text x="1170.95" y="1263.7" style="font-size:21px" textLength="101.76" lengthAdjust="spacingAndGlyphs">% IL2/CD8</text>
<line x1="486.7" y1="1305.6" x2="486.7" y2="1699.6" stroke="#000" stroke-width="4.1"/>
<line x1="478.4" y1="1307.6" x2="486.7" y2="1307.6" stroke="#000" stroke-width="4"/>
<text x="461.34" y="1313.4" style="font-size:16.7px">8</text>
<line x1="478.4" y1="1405.6" x2="486.7" y2="1405.6" stroke="#000" stroke-width="4"/>
<text x="461.35" y="1411.4" style="font-size:16.7px">6</text>
<line x1="478.4" y1="1502.8" x2="486.7" y2="1502.8" stroke="#000" stroke-width="4"/>
<text x="461.1" y="1508.6" style="font-size:16.7px">4</text>
<line x1="478.4" y1="1600.3" x2="486.7" y2="1600.3" stroke="#000" stroke-width="4"/>
<text x="461.45" y="1606.1" style="font-size:16.7px">2</text>
<line x1="478.4" y1="1649" x2="486.7" y2="1649" stroke="#000" stroke-width="4"/>
<line x1="478.4" y1="1697.7" x2="486.7" y2="1697.7" stroke="#000" stroke-width="4"/>
<text x="461.26" y="1703.5" style="font-size:16.7px">0</text>
<line x1="478.4" y1="1697.7" x2="1363.9" y2="1697.7" stroke="#000" stroke-width="3.8"/>
<line x1="519.5" y1="1697.7" x2="519.5" y2="1706.6" stroke="#000" stroke-width="4.3"/>
<line x1="584.5" y1="1697.7" x2="584.5" y2="1706.6" stroke="#000" stroke-width="4.3"/>
<line x1="650.2" y1="1697.7" x2="650.2" y2="1706.6" stroke="#000" stroke-width="4.3"/>
<line x1="716" y1="1697.7" x2="716" y2="1706.6" stroke="#000" stroke-width="4.3"/>
<line x1="825.3" y1="1697.7" x2="825.3" y2="1706.6" stroke="#000" stroke-width="4.3"/>
<line x1="891" y1="1697.7" x2="891" y2="1706.6" stroke="#000" stroke-width="4.3"/>
<line x1="956.8" y1="1697.7" x2="956.8" y2="1706.6" stroke="#000" stroke-width="4.3"/>
<line x1="1022.5" y1="1697.7" x2="1022.5" y2="1706.6" stroke="#000" stroke-width="4.3"/>
<line x1="1132" y1="1697.7" x2="1132" y2="1706.6" stroke="#000" stroke-width="4.3"/>
<line x1="1197.7" y1="1697.7" x2="1197.7" y2="1706.6" stroke="#000" stroke-width="4.3"/>
<line x1="1262.9" y1="1697.7" x2="1262.9" y2="1706.6" stroke="#000" stroke-width="4.3"/>
<line x1="1328.6" y1="1697.7" x2="1328.6" y2="1706.6" stroke="#000" stroke-width="4.3"/>
<line x1="770.4" y1="1309" x2="770.4" y2="1696" stroke="#999" stroke-width="0.9" stroke-dasharray="1.5,2.7"/>
<line x1="1076.3" y1="1309" x2="1076.3" y2="1696" stroke="#999" stroke-width="0.9" stroke-dasharray="1.5,2.7"/>
<line x1="497.8" y1="1648.3" x2="1354" y2="1648.3" stroke="#000" stroke-width="4.2" stroke-dasharray="0,12.6" stroke-linecap="round"/>
<ellipse cx="511.27" cy="1541.3" rx="6" ry="6.7" fill="#000"/>
<ellipse cx="527.71" cy="1546.68" rx="6" ry="6.7" fill="#000"/>
<ellipse cx="514.26" cy="1552.06" rx="6" ry="6.7" fill="#000"/>
<ellipse cx="524.72" cy="1552.06" rx="6" ry="6.7" fill="#000"/>
<ellipse cx="519.34" cy="1581.65" rx="6" ry="6.7" fill="#000"/>
<ellipse cx="519.34" cy="1604.96" rx="6" ry="6.7" fill="#000"/>
<ellipse cx="527.71" cy="1610.04" rx="6" ry="6.7" fill="#000"/>
<ellipse cx="511.27" cy="1624.39" rx="6" ry="6.7" fill="#000"/>
<ellipse cx="511.27" cy="1648.3" rx="6" ry="6.7" fill="#000"/>
<ellipse cx="527.71" cy="1648.3" rx="6" ry="6.7" fill="#000"/>
<ellipse cx="514.26" cy="1649.79" rx="6" ry="6.7" fill="#000"/>
<ellipse cx="524.72" cy="1649.79" rx="6" ry="6.7" fill="#000"/>
<ellipse cx="519.34" cy="1668.32" rx="6" ry="6.7" fill="#000"/>
<ellipse cx="584.49" cy="1391.27" rx="6" ry="6.7" fill="#000"/>
<ellipse cx="584.49" cy="1493.78" rx="6" ry="6.7" fill="#000"/>
<ellipse cx="592.86" cy="1594.5" rx="6" ry="6.7" fill="#000"/>
<ellipse cx="576.43" cy="1599.88" rx="6" ry="6.7" fill="#000"/>
<ellipse cx="598.84" cy="1619.9" rx="6" ry="6.7" fill="#000"/>
<ellipse cx="571.94" cy="1627.97" rx="6" ry="6.7" fill="#000"/>
<ellipse cx="590.47" cy="1627.97" rx="6" ry="6.7" fill="#000"/>
<ellipse cx="584.49" cy="1634.85" rx="6" ry="6.7" fill="#000"/>
<ellipse cx="576.43" cy="1648.3" rx="6" ry="6.7" fill="#000"/>
<ellipse cx="590.47" cy="1650.69" rx="6" ry="6.7" fill="#000"/>
<ellipse cx="579.41" cy="1663.84" rx="6" ry="6.7" fill="#000"/>
<ellipse cx="650.25" cy="1468.98" rx="6" ry="6.7" fill="#000"/>
<ellipse cx="650.25" cy="1493.78" rx="6" ry="6.7" fill="#000"/>
<ellipse cx="650.25" cy="1599.88" rx="6" ry="6.7" fill="#000"/>
<ellipse cx="642.18" cy="1622.89" rx="6" ry="6.7" fill="#000"/>
<ellipse cx="658.61" cy="1629.47" rx="6" ry="6.7" fill="#000"/>
<ellipse cx="636.8" cy="1642.32" rx="6" ry="6.7" fill="#000"/>
<ellipse cx="642.77" cy="1649.79" rx="6" ry="6.7" fill="#000"/>
<ellipse cx="650.25" cy="1652.78" rx="6" ry="6.7" fill="#000"/>
<ellipse cx="663.69" cy="1648.3" rx="6" ry="6.7" fill="#000"/>
<ellipse cx="656.22" cy="1657.26" rx="6" ry="6.7" fill="#000"/>
<ellipse cx="650.25" cy="1658.76" rx="6" ry="6.7" fill="#000"/>
<ellipse cx="645.76" cy="1658.76" rx="6" ry="6.7" fill="#000"/>
<ellipse cx="724.36" cy="1537.12" rx="6" ry="6.7" fill="#000"/>
<ellipse cx="707.63" cy="1551.46" rx="6" ry="6.7" fill="#000"/>
<ellipse cx="695.67" cy="1585.53" rx="6" ry="6.7" fill="#000"/>
<ellipse cx="716" cy="1585.53" rx="6" ry="6.7" fill="#000"/>
<ellipse cx="730.34" cy="1580.45" rx="6" ry="6.7" fill="#000"/>
<ellipse cx="702.55" cy="1600.48" rx="6" ry="6.7" fill="#000"/>
<ellipse cx="730.94" cy="1610.04" rx="6" ry="6.7" fill="#000"/>
<ellipse cx="716" cy="1619.9" rx="6" ry="6.7" fill="#000"/>
<ellipse cx="707.63" cy="1629.47" rx="6" ry="6.7" fill="#000"/>
<ellipse cx="724.36" cy="1632.46" rx="6" ry="6.7" fill="#000"/>
<ellipse cx="718.98" cy="1639.33" rx="6" ry="6.7" fill="#000"/>
<ellipse cx="710.02" cy="1639.33" rx="6" ry="6.7" fill="#000"/>
<ellipse cx="716" cy="1663.84" rx="6" ry="6.7" fill="#000"/>
<ellipse cx="825.29" cy="1385.3" rx="5.5" ry="6.2" fill="#6699d3" stroke="#000" stroke-width="1.25"/>
<ellipse cx="825.29" cy="1435.21" rx="5.5" ry="6.2" fill="#6699d3" stroke="#000" stroke-width="1.25"/>
<ellipse cx="825.29" cy="1561.63" rx="5.5" ry="6.2" fill="#6699d3" stroke="#000" stroke-width="1.25"/>
<ellipse cx="825.29" cy="1604.06" rx="5.5" ry="6.2" fill="#6699d3" stroke="#000" stroke-width="1.25"/>
<ellipse cx="817.82" cy="1618.41" rx="5.5" ry="6.2" fill="#6699d3" stroke="#000" stroke-width="1.25"/>
<ellipse cx="834.26" cy="1620.8" rx="5.5" ry="6.2" fill="#6699d3" stroke="#000" stroke-width="1.25"/>
<ellipse cx="811.84" cy="1629.77" rx="5.5" ry="6.2" fill="#6699d3" stroke="#000" stroke-width="1.25"/>
<ellipse cx="820.81" cy="1624.39" rx="5.5" ry="6.2" fill="#6699d3" stroke="#000" stroke-width="1.25"/>
<ellipse cx="831.27" cy="1624.39" rx="5.5" ry="6.2" fill="#6699d3" stroke="#000" stroke-width="1.25"/>
<ellipse cx="819.31" cy="1638.73" rx="5.5" ry="6.2" fill="#6699d3" stroke="#000" stroke-width="1.25"/>
<ellipse cx="840.23" cy="1638.73" rx="5.5" ry="6.2" fill="#6699d3" stroke="#000" stroke-width="1.25"/>
<ellipse cx="825.29" cy="1643.81" rx="5.5" ry="6.2" fill="#6699d3" stroke="#000" stroke-width="1.25"/>
<ellipse cx="832.76" cy="1642.32" rx="5.5" ry="6.2" fill="#6699d3" stroke="#000" stroke-width="1.25"/>
<ellipse cx="882.97" cy="1425.04" rx="5.5" ry="6.2" fill="#6699d3" stroke="#000" stroke-width="1.25"/>
<ellipse cx="899.41" cy="1440.59" rx="5.5" ry="6.2" fill="#6699d3" stroke="#000" stroke-width="1.25"/>
<ellipse cx="899.41" cy="1581.05" rx="5.5" ry="6.2" fill="#6699d3" stroke="#000" stroke-width="1.25"/>
<ellipse cx="882.97" cy="1590.02" rx="5.5" ry="6.2" fill="#6699d3" stroke="#000" stroke-width="1.25"/>
<ellipse cx="897.02" cy="1591.51" rx="5.5" ry="6.2" fill="#6699d3" stroke="#000" stroke-width="1.25"/>
<ellipse cx="885.96" cy="1596" rx="5.5" ry="6.2" fill="#6699d3" stroke="#000" stroke-width="1.25"/>
<ellipse cx="882.97" cy="1614.82" rx="5.5" ry="6.2" fill="#6699d3" stroke="#000" stroke-width="1.25"/>
<ellipse cx="899.41" cy="1624.39" rx="5.5" ry="6.2" fill="#6699d3" stroke="#000" stroke-width="1.25"/>
<ellipse cx="876.99" cy="1639.33" rx="5.5" ry="6.2" fill="#6699d3" stroke="#000" stroke-width="1.25"/>
<ellipse cx="884.47" cy="1642.32" rx="5.5" ry="6.2" fill="#6699d3" stroke="#000" stroke-width="1.25"/>
<ellipse cx="905.39" cy="1642.32" rx="5.5" ry="6.2" fill="#6699d3" stroke="#000" stroke-width="1.25"/>
<ellipse cx="897.91" cy="1647.4" rx="5.5" ry="6.2" fill="#6699d3" stroke="#000" stroke-width="1.25"/>
<ellipse cx="891.04" cy="1651.29" rx="5.5" ry="6.2" fill="#6699d3" stroke="#000" stroke-width="1.25"/>
<ellipse cx="956.79" cy="1541.6" rx="5.5" ry="6.2" fill="#6699d3" stroke="#000" stroke-width="1.25"/>
<ellipse cx="965.16" cy="1586.13" rx="5.5" ry="6.2" fill="#6699d3" stroke="#000" stroke-width="1.25"/>
<ellipse cx="948.72" cy="1593.9" rx="5.5" ry="6.2" fill="#6699d3" stroke="#000" stroke-width="1.25"/>
<ellipse cx="971.14" cy="1629.47" rx="5.5" ry="6.2" fill="#6699d3" stroke="#000" stroke-width="1.25"/>
<ellipse cx="942.74" cy="1639.33" rx="5.5" ry="6.2" fill="#6699d3" stroke="#000" stroke-width="1.25"/>
<ellipse cx="956.79" cy="1640.23" rx="5.5" ry="6.2" fill="#6699d3" stroke="#000" stroke-width="1.25"/>
<ellipse cx="948.72" cy="1650.69" rx="5.5" ry="6.2" fill="#6699d3" stroke="#000" stroke-width="1.25"/>
<ellipse cx="965.16" cy="1649.19" rx="5.5" ry="6.2" fill="#6699d3" stroke="#000" stroke-width="1.25"/>
<ellipse cx="944.24" cy="1658.76" rx="5.5" ry="6.2" fill="#6699d3" stroke="#000" stroke-width="1.25"/>
<ellipse cx="960.68" cy="1661.15" rx="5.5" ry="6.2" fill="#6699d3" stroke="#000" stroke-width="1.25"/>
<ellipse cx="952.9" cy="1664.14" rx="5.5" ry="6.2" fill="#6699d3" stroke="#000" stroke-width="1.25"/>
<ellipse cx="968.15" cy="1658.76" rx="5.5" ry="6.2" fill="#6699d3" stroke="#000" stroke-width="1.25"/>
<ellipse cx="1022.54" cy="1364.38" rx="5.5" ry="6.2" fill="#6699d3" stroke="#000" stroke-width="1.25"/>
<ellipse cx="1014.47" cy="1571.19" rx="5.5" ry="6.2" fill="#6699d3" stroke="#000" stroke-width="1.25"/>
<ellipse cx="1030.91" cy="1574.18" rx="5.5" ry="6.2" fill="#6699d3" stroke="#000" stroke-width="1.25"/>
<ellipse cx="1022.54" cy="1614.82" rx="5.5" ry="6.2" fill="#6699d3" stroke="#000" stroke-width="1.25"/>
<ellipse cx="1014.47" cy="1619.31" rx="5.5" ry="6.2" fill="#6699d3" stroke="#000" stroke-width="1.25"/>
<ellipse cx="1031.51" cy="1624.39" rx="5.5" ry="6.2" fill="#6699d3" stroke="#000" stroke-width="1.25"/>
<ellipse cx="1016.56" cy="1625.88" rx="5.5" ry="6.2" fill="#6699d3" stroke="#000" stroke-width="1.25"/>
<ellipse cx="1029.41" cy="1634.85" rx="5.5" ry="6.2" fill="#6699d3" stroke="#000" stroke-width="1.25"/>
<ellipse cx="1008.49" cy="1642.92" rx="5.5" ry="6.2" fill="#6699d3" stroke="#000" stroke-width="1.25"/>
<ellipse cx="1015.97" cy="1645.91" rx="5.5" ry="6.2" fill="#6699d3" stroke="#000" stroke-width="1.25"/>
<ellipse cx="1036.89" cy="1643.81" rx="5.5" ry="6.2" fill="#6699d3" stroke="#000" stroke-width="1.25"/>
<ellipse cx="1029.41" cy="1648.3" rx="5.5" ry="6.2" fill="#6699d3" stroke="#000" stroke-width="1.25"/>
<ellipse cx="1022.54" cy="1658.76" rx="5.5" ry="6.2" fill="#6699d3" stroke="#000" stroke-width="1.25"/>
<ellipse cx="1131.98" cy="1442.08" rx="5.5" ry="6.2" fill="#f58a25" stroke="#000" stroke-width="1.25"/>
<ellipse cx="1131.98" cy="1508.73" rx="5.5" ry="6.2" fill="#f58a25" stroke="#000" stroke-width="1.25"/>
<ellipse cx="1123.91" cy="1520.68" rx="5.5" ry="6.2" fill="#f58a25" stroke="#000" stroke-width="1.25"/>
<ellipse cx="1140.35" cy="1527.26" rx="5.5" ry="6.2" fill="#f58a25" stroke="#000" stroke-width="1.25"/>
<ellipse cx="1126.3" cy="1531.74" rx="5.5" ry="6.2" fill="#f58a25" stroke="#000" stroke-width="1.25"/>
<ellipse cx="1137.36" cy="1537.72" rx="5.5" ry="6.2" fill="#f58a25" stroke="#000" stroke-width="1.25"/>
<ellipse cx="1117.93" cy="1585.53" rx="5.5" ry="6.2" fill="#f58a25" stroke="#000" stroke-width="1.25"/>
<ellipse cx="1131.98" cy="1585.53" rx="5.5" ry="6.2" fill="#f58a25" stroke="#000" stroke-width="1.25"/>
<ellipse cx="1145.73" cy="1585.53" rx="5.5" ry="6.2" fill="#f58a25" stroke="#000" stroke-width="1.25"/>
<ellipse cx="1123.91" cy="1628.27" rx="5.5" ry="6.2" fill="#f58a25" stroke="#000" stroke-width="1.25"/>
<ellipse cx="1140.35" cy="1634.25" rx="5.5" ry="6.2" fill="#f58a25" stroke="#000" stroke-width="1.25"/>
<ellipse cx="1140.35" cy="1659.65" rx="5.5" ry="6.2" fill="#f58a25" stroke="#000" stroke-width="1.25"/>
<ellipse cx="1123.91" cy="1668.32" rx="5.5" ry="6.2" fill="#f58a25" stroke="#000" stroke-width="1.25"/>
<ellipse cx="1206.1" cy="1389.78" rx="5.5" ry="6.2" fill="#f58a25" stroke="#000" stroke-width="1.25"/>
<ellipse cx="1189.06" cy="1406.22" rx="5.5" ry="6.2" fill="#f58a25" stroke="#000" stroke-width="1.25"/>
<ellipse cx="1197.73" cy="1439.99" rx="5.5" ry="6.2" fill="#f58a25" stroke="#000" stroke-width="1.25"/>
<ellipse cx="1197.73" cy="1521.28" rx="5.5" ry="6.2" fill="#f58a25" stroke="#000" stroke-width="1.25"/>
<ellipse cx="1189.06" cy="1541.6" rx="5.5" ry="6.2" fill="#f58a25" stroke="#000" stroke-width="1.25"/>
<ellipse cx="1206.1" cy="1555.65" rx="5.5" ry="6.2" fill="#f58a25" stroke="#000" stroke-width="1.25"/>
<ellipse cx="1184.28" cy="1585.53" rx="5.5" ry="6.2" fill="#f58a25" stroke="#000" stroke-width="1.25"/>
<ellipse cx="1211.48" cy="1591.51" rx="5.5" ry="6.2" fill="#f58a25" stroke="#000" stroke-width="1.25"/>
<ellipse cx="1197.73" cy="1599.88" rx="5.5" ry="6.2" fill="#f58a25" stroke="#000" stroke-width="1.25"/>
<ellipse cx="1189.06" cy="1602.87" rx="5.5" ry="6.2" fill="#f58a25" stroke="#000" stroke-width="1.25"/>
<ellipse cx="1214.17" cy="1619.31" rx="5.5" ry="6.2" fill="#f58a25" stroke="#000" stroke-width="1.25"/>
<ellipse cx="1205.5" cy="1630.36" rx="5.5" ry="6.2" fill="#f58a25" stroke="#000" stroke-width="1.25"/>
<ellipse cx="1189.06" cy="1647.4" rx="5.5" ry="6.2" fill="#f58a25" stroke="#000" stroke-width="1.25"/>
<ellipse cx="1262.88" cy="1466.59" rx="5.5" ry="6.2" fill="#f58a25" stroke="#000" stroke-width="1.25"/>
<ellipse cx="1262.88" cy="1522.18" rx="5.5" ry="6.2" fill="#f58a25" stroke="#000" stroke-width="1.25"/>
<ellipse cx="1254.51" cy="1548.18" rx="5.5" ry="6.2" fill="#f58a25" stroke="#000" stroke-width="1.25"/>
<ellipse cx="1271.25" cy="1561.63" rx="5.5" ry="6.2" fill="#f58a25" stroke="#000" stroke-width="1.25"/>
<ellipse cx="1271.25" cy="1582.55" rx="5.5" ry="6.2" fill="#f58a25" stroke="#000" stroke-width="1.25"/>
<ellipse cx="1254.51" cy="1585.53" rx="5.5" ry="6.2" fill="#f58a25" stroke="#000" stroke-width="1.25"/>
<ellipse cx="1249.43" cy="1619.31" rx="5.5" ry="6.2" fill="#f58a25" stroke="#000" stroke-width="1.25"/>
<ellipse cx="1277.23" cy="1615.42" rx="5.5" ry="6.2" fill="#f58a25" stroke="#000" stroke-width="1.25"/>
<ellipse cx="1262.88" cy="1622.89" rx="5.5" ry="6.2" fill="#f58a25" stroke="#000" stroke-width="1.25"/>
<ellipse cx="1249.43" cy="1643.81" rx="5.5" ry="6.2" fill="#f58a25" stroke="#000" stroke-width="1.25"/>
<ellipse cx="1277.23" cy="1645.31" rx="5.5" ry="6.2" fill="#f58a25" stroke="#000" stroke-width="1.25"/>
<ellipse cx="1262.88" cy="1658.16" rx="5.5" ry="6.2" fill="#f58a25" stroke="#000" stroke-width="1.25"/>
<ellipse cx="1328.63" cy="1396.35" rx="5.5" ry="6.2" fill="#f58a25" stroke="#000" stroke-width="1.25"/>
<ellipse cx="1320.56" cy="1507.83" rx="5.5" ry="6.2" fill="#f58a25" stroke="#000" stroke-width="1.25"/>
<ellipse cx="1337" cy="1511.42" rx="5.5" ry="6.2" fill="#f58a25" stroke="#000" stroke-width="1.25"/>
<ellipse cx="1337" cy="1533.23" rx="5.5" ry="6.2" fill="#f58a25" stroke="#000" stroke-width="1.25"/>
<ellipse cx="1320.56" cy="1552.06" rx="5.5" ry="6.2" fill="#f58a25" stroke="#000" stroke-width="1.25"/>
<ellipse cx="1320.56" cy="1582.55" rx="5.5" ry="6.2" fill="#f58a25" stroke="#000" stroke-width="1.25"/>
<ellipse cx="1337" cy="1595.4" rx="5.5" ry="6.2" fill="#f58a25" stroke="#000" stroke-width="1.25"/>
<ellipse cx="1315.18" cy="1600.48" rx="5.5" ry="6.2" fill="#f58a25" stroke="#000" stroke-width="1.25"/>
<ellipse cx="1342.98" cy="1612.43" rx="5.5" ry="6.2" fill="#f58a25" stroke="#000" stroke-width="1.25"/>
<ellipse cx="1328.63" cy="1617.51" rx="5.5" ry="6.2" fill="#f58a25" stroke="#000" stroke-width="1.25"/>
<ellipse cx="1320.56" cy="1634.85" rx="5.5" ry="6.2" fill="#f58a25" stroke="#000" stroke-width="1.25"/>
<ellipse cx="1337" cy="1650.39" rx="5.5" ry="6.2" fill="#f58a25" stroke="#000" stroke-width="1.25"/>
<ellipse cx="1328.63" cy="1673.7" rx="5.5" ry="6.2" fill="#f58a25" stroke="#000" stroke-width="1.25"/>
<line x1="497.8" y1="1610" x2="540.6" y2="1610" stroke="#000" stroke-width="2.8"/>
<line x1="563.6" y1="1629.5" x2="606.3" y2="1629.5" stroke="#000" stroke-width="2.8"/>
<line x1="629.3" y1="1646.2" x2="672" y2="1646.2" stroke="#000" stroke-width="2.8"/>
<line x1="695.1" y1="1610" x2="737.5" y2="1610" stroke="#000" stroke-width="2.8"/>
<line x1="804.4" y1="1624.4" x2="847.1" y2="1624.4" stroke="#000" stroke-width="2.8"/>
<line x1="869.5" y1="1614.5" x2="912.9" y2="1614.5" stroke="#000" stroke-width="2.8"/>
<line x1="935.3" y1="1644.4" x2="978.3" y2="1644.4" stroke="#000" stroke-width="2.8"/>
<line x1="1001" y1="1624.4" x2="1044.4" y2="1624.4" stroke="#000" stroke-width="2.8"/>
<line x1="1110.5" y1="1585.5" x2="1153.8" y2="1585.5" stroke="#000" stroke-width="2.8"/>
<line x1="1176.2" y1="1586.1" x2="1219.5" y2="1586.1" stroke="#000" stroke-width="2.8"/>
<line x1="1241.1" y1="1600.5" x2="1285.3" y2="1600.5" stroke="#000" stroke-width="2.8"/>
<line x1="1307.1" y1="1595.4" x2="1350.4" y2="1595.4" stroke="#000" stroke-width="2.8"/>
<text x="492.64" y="1315" style="font-size:16.7px" textLength="42.41" lengthAdjust="spacingAndGlyphs">0.006</text>
<text x="641.02" y="1315" style="font-size:16.7px" textLength="18.83" lengthAdjust="spacingAndGlyphs">ns</text>
<text x="792.49" y="1315" style="font-size:16.7px" textLength="50.92" lengthAdjust="spacingAndGlyphs">&lt;0.001</text>
<text x="946.65" y="1315" style="font-size:16.7px" textLength="18.27" lengthAdjust="spacingAndGlyphs">ns</text>
<text x="1101.74" y="1315" style="font-size:16.7px" textLength="42.41" lengthAdjust="spacingAndGlyphs">0.002</text>
<text x="1248.21" y="1315" style="font-size:16.7px" textLength="18.94" lengthAdjust="spacingAndGlyphs">ns</text>
<text x="560.83" y="1345" style="font-size:16.7px" textLength="42.92" lengthAdjust="spacingAndGlyphs">0.008</text>
<text x="694.36" y="1345" style="font-size:16.7px" textLength="41.25" lengthAdjust="spacingAndGlyphs">0.001</text>
<text x="869.27" y="1345" style="font-size:16.7px" textLength="51.85" lengthAdjust="spacingAndGlyphs">&lt;0.001</text>
<text x="1007.54" y="1345" style="font-size:16.7px" textLength="42.1" lengthAdjust="spacingAndGlyphs">0.002</text>
<text x="1169.37" y="1345" style="font-size:16.7px" textLength="51.85" lengthAdjust="spacingAndGlyphs">&lt;0.001</text>
<text x="1302.54" y="1345" style="font-size:16.7px" textLength="42.52" lengthAdjust="spacingAndGlyphs">0.002</text>
<text x="493.22" y="1725.2" style="font-size:16.7px" transform="rotate(-33 527.1 1725.2)">ATM</text>
<text x="564.92" y="1725.1" style="font-size:16.7px" transform="rotate(-33 592.05 1725.1)">p53</text>
<text x="610.36" y="1725.2" style="font-size:16.7px" transform="rotate(-33 657.5 1725.2)">AMPK</text>
<text x="696.16" y="1725.1" style="font-size:16.7px" transform="rotate(-33 723.3 1725.1)">p38</text>
<text x="799.22" y="1725.2" style="font-size:16.7px" transform="rotate(-33 833.1 1725.2)">ATM</text>
<text x="871.42" y="1725.1" style="font-size:16.7px" transform="rotate(-33 898.55 1725.1)">p53</text>
<text x="916.96" y="1725.2" style="font-size:16.7px" transform="rotate(-33 964.1 1725.2)">AMPK</text>
<text x="1002.66" y="1725.1" style="font-size:16.7px" transform="rotate(-33 1029.8 1725.1)">p38</text>
<text x="1105.92" y="1725.2" style="font-size:16.7px" transform="rotate(-33 1139.8 1725.2)">ATM</text>
<text x="1178.12" y="1725.1" style="font-size:16.7px" transform="rotate(-33 1205.25 1725.1)">p53</text>
<text x="1223.06" y="1725.2" style="font-size:16.7px" transform="rotate(-33 1270.2 1725.2)">AMPK</text>
<text x="1308.76" y="1725.1" style="font-size:16.7px" transform="rotate(-33 1335.9 1725.1)">p38</text>
<line x1="490" y1="1767.3" x2="738.5" y2="1767.3" stroke="#000" stroke-width="5" opacity="0.05"/>
<line x1="491" y1="1766.8" x2="737.5" y2="1766.8" stroke="#000" stroke-width="3" opacity="0.06"/>
<line x1="491" y1="1765.8" x2="737.5" y2="1765.8" stroke="#8f8f8f" stroke-width="2"/>
<text x="567.37" y="1795" style="font-size:21.3px" textLength="108.2" lengthAdjust="spacingAndGlyphs">Inhibitors of</text>
<line x1="838.3" y1="1767.3" x2="1085.7" y2="1767.3" stroke="#000" stroke-width="5" opacity="0.05"/>
<line x1="839.3" y1="1766.8" x2="1084.7" y2="1766.8" stroke="#000" stroke-width="3" opacity="0.06"/>
<line x1="839.3" y1="1765.8" x2="1084.7" y2="1765.8" stroke="#8f8f8f" stroke-width="2"/>
<text x="907.96" y="1795" style="font-size:21.3px" textLength="108.61" lengthAdjust="spacingAndGlyphs">Inhibitors of</text>
<line x1="1143.2" y1="1767.3" x2="1391.5" y2="1767.3" stroke="#000" stroke-width="5" opacity="0.05"/>
<line x1="1144.2" y1="1766.8" x2="1390.5" y2="1766.8" stroke="#000" stroke-width="3" opacity="0.06"/>
<line x1="1144.2" y1="1765.8" x2="1390.5" y2="1765.8" stroke="#8f8f8f" stroke-width="2"/>
<text x="1213.06" y="1795" style="font-size:21.3px" textLength="108.71" lengthAdjust="spacingAndGlyphs">Inhibitors of</text>
<text x="1379.76" y="1504.2" style="font-size:20px" textLength="84.96" lengthAdjust="spacingAndGlyphs">EX VIVO</text>
<text x="369.91" y="1502.6" style="font-size:16.7px" textLength="93.34" lengthAdjust="spacingAndGlyphs" transform="rotate(-90 416.9 1502.6)">Fold change</text>
<text x="311.45" y="1503" style="font-size:16.7px" textLength="250.38" lengthAdjust="spacingAndGlyphs" transform="rotate(-90 436.4 1503)">%Cytokine/CD8 treated/untreated</text>
<text x="334.9" y="1876.6" style="font-size:42.3px;font-weight:bold" textLength="13.72" lengthAdjust="spacingAndGlyphs">f</text>
<rect x="480.6" y="1865.8" width="169" height="40" fill="#d9d9d9" stroke="#3a3a3a" stroke-width="1.3"/>
<text x="505.17" y="1891.9" style="font-size:21px" textLength="121.43" lengthAdjust="spacingAndGlyphs">% IFN-γ/CD8</text>
<rect x="738" y="1865.8" width="177.7" height="40" fill="#d9d9d9" stroke="#3a3a3a" stroke-width="1.3"/>
<text x="760.44" y="1891.9" style="font-size:21px" textLength="133.48" lengthAdjust="spacingAndGlyphs">% TNF-α/CD8</text>
<rect x="1015" y="1865.8" width="144.3" height="40" fill="#d9d9d9" stroke="#3a3a3a" stroke-width="1.3"/>
<text x="1039.25" y="1891.9" style="font-size:21px" textLength="101.56" lengthAdjust="spacingAndGlyphs">% IL2/CD8</text>
<rect x="1253" y="1865.8" width="235.7" height="40" fill="#d9d9d9" stroke="#3a3a3a" stroke-width="1.3"/>
<text x="1280.26" y="1891.9" style="font-size:21px" textLength="181.85" lengthAdjust="spacingAndGlyphs">% IFN-γTNF-α/CD8</text>
<line x1="436.5" y1="1936" x2="436.5" y2="2060.5" stroke="#000" stroke-width="4.5"/>
<line x1="436.5" y1="2077" x2="436.5" y2="2335.5" stroke="#000" stroke-width="4.5"/>
<line x1="428.2" y1="1938" x2="436.5" y2="1938" stroke="#000" stroke-width="4.1"/>
<text x="392.69" y="1943.8" style="font-size:16.7px">100</text>
<line x1="428.2" y1="1965.2" x2="436.5" y2="1965.2" stroke="#000" stroke-width="4.1"/>
<text x="401.98" y="1971" style="font-size:16.7px">80</text>
<line x1="428.2" y1="1992.6" x2="436.5" y2="1992.6" stroke="#000" stroke-width="4.1"/>
<text x="401.98" y="1998.4" style="font-size:16.7px">60</text>
<line x1="428.2" y1="2020.3" x2="436.5" y2="2020.3" stroke="#000" stroke-width="4.1"/>
<text x="401.98" y="2026.1" style="font-size:16.7px">40</text>
<line x1="428.2" y1="2047" x2="436.5" y2="2047" stroke="#000" stroke-width="4.1"/>
<text x="401.98" y="2052.8" style="font-size:16.7px">20</text>
<line x1="428.2" y1="2060.5" x2="443.5" y2="2060.5" stroke="#000" stroke-width="4.1"/>
<line x1="428.2" y1="2077" x2="443.5" y2="2077" stroke="#000" stroke-width="4.1"/>
<text x="401.98" y="2082.8" style="font-size:16.7px">10</text>
<line x1="428.2" y1="2128.4" x2="436.5" y2="2128.4" stroke="#000" stroke-width="4.1"/>
<text x="411.34" y="2134.2" style="font-size:16.7px">8</text>
<line x1="428.2" y1="2180" x2="436.5" y2="2180" stroke="#000" stroke-width="4.1"/>
<text x="411.35" y="2185.8" style="font-size:16.7px">6</text>
<line x1="428.2" y1="2230.9" x2="436.5" y2="2230.9" stroke="#000" stroke-width="4.1"/>
<text x="411.1" y="2236.7" style="font-size:16.7px">4</text>
<line x1="428.2" y1="2282.8" x2="436.5" y2="2282.8" stroke="#000" stroke-width="4.1"/>
<text x="411.45" y="2288.6" style="font-size:16.7px">2</text>
<line x1="428.2" y1="2308.1" x2="436.5" y2="2308.1" stroke="#000" stroke-width="4.1"/>
<line x1="428.2" y1="2333.5" x2="436.5" y2="2333.5" stroke="#000" stroke-width="4.1"/>
<text x="411.26" y="2339.3" style="font-size:16.7px">0</text>
<line x1="428.2" y1="2333.5" x2="1487.3" y2="2333.5" stroke="#000" stroke-width="4.2"/>
<line x1="465.1" y1="2333.5" x2="465.1" y2="2341.5" stroke="#000" stroke-width="4.3"/>
<line x1="523.7" y1="2333.5" x2="523.7" y2="2341.5" stroke="#000" stroke-width="4.3"/>
<line x1="582.3" y1="2333.5" x2="582.3" y2="2341.5" stroke="#000" stroke-width="4.3"/>
<line x1="640.3" y1="2333.5" x2="640.3" y2="2341.5" stroke="#000" stroke-width="4.3"/>
<line x1="737.2" y1="2333.5" x2="737.2" y2="2341.5" stroke="#000" stroke-width="4.3"/>
<line x1="795.3" y1="2333.5" x2="795.3" y2="2341.5" stroke="#000" stroke-width="4.3"/>
<line x1="853.6" y1="2333.5" x2="853.6" y2="2341.5" stroke="#000" stroke-width="4.3"/>
<line x1="912.2" y1="2333.5" x2="912.2" y2="2341.5" stroke="#000" stroke-width="4.3"/>
<line x1="1009.4" y1="2333.5" x2="1009.4" y2="2341.5" stroke="#000" stroke-width="4.3"/>
<line x1="1067.4" y1="2333.5" x2="1067.4" y2="2341.5" stroke="#000" stroke-width="4.3"/>
<line x1="1125.2" y1="2333.5" x2="1125.2" y2="2341.5" stroke="#000" stroke-width="4.3"/>
<line x1="1183.8" y1="2333.5" x2="1183.8" y2="2341.5" stroke="#000" stroke-width="4.3"/>
<line x1="1281" y1="2333.5" x2="1281" y2="2341.5" stroke="#000" stroke-width="4.3"/>
<line x1="1339.6" y1="2333.5" x2="1339.6" y2="2341.5" stroke="#000" stroke-width="4.3"/>
<line x1="1397.6" y1="2333.5" x2="1397.6" y2="2341.5" stroke="#000" stroke-width="4.3"/>
<line x1="1455.9" y1="2333.5" x2="1455.9" y2="2341.5" stroke="#000" stroke-width="4.3"/>
<line x1="687.5" y1="1937" x2="687.5" y2="2332" stroke="#999" stroke-width="0.9" stroke-dasharray="1.5,2.7"/>
<line x1="959.6" y1="1937" x2="959.6" y2="2332" stroke="#999" stroke-width="0.9" stroke-dasharray="1.5,2.7"/>
<line x1="1231.2" y1="1937" x2="1231.2" y2="2332" stroke="#999" stroke-width="0.9" stroke-dasharray="1.5,2.7"/>
<line x1="447.3" y1="2308.1" x2="1477" y2="2308.1" stroke="#000" stroke-width="4" stroke-dasharray="0,12.5" stroke-linecap="round"/>
<circle cx="465.12" cy="2057.81" r="6" fill="#000"/>
<circle cx="465.12" cy="2176.84" r="6" fill="#000"/>
<circle cx="457.13" cy="2200.8" r="6" fill="#000"/>
<circle cx="473.64" cy="2194.15" r="6" fill="#000"/>
<circle cx="457.13" cy="2230.89" r="6" fill="#000"/>
<circle cx="473.64" cy="2234.62" r="6" fill="#000"/>
<circle cx="465.12" cy="2252.73" r="6" fill="#000"/>
<circle cx="477.1" cy="2262.05" r="6" fill="#000"/>
<circle cx="454.47" cy="2275.36" r="6" fill="#000"/>
<circle cx="465.12" cy="2275.36" r="6" fill="#000"/>
<circle cx="473.64" cy="2300.66" r="6" fill="#000"/>
<circle cx="457.13" cy="2308.11" r="6" fill="#000"/>
<circle cx="515.18" cy="2057.02" r="6" fill="#000"/>
<circle cx="532.22" cy="2060.48" r="6" fill="#000"/>
<circle cx="515.18" cy="2170.98" r="6" fill="#000"/>
<circle cx="532.22" cy="2169.65" r="6" fill="#000"/>
<circle cx="523.7" cy="2205.6" r="6" fill="#000"/>
<circle cx="523.7" cy="2235.95" r="6" fill="#000"/>
<circle cx="512.52" cy="2254.06" r="6" fill="#000"/>
<circle cx="523.7" cy="2254.06" r="6" fill="#000"/>
<circle cx="535.68" cy="2248.73" r="6" fill="#000"/>
<circle cx="512.52" cy="2276.69" r="6" fill="#000"/>
<circle cx="523.7" cy="2290.01" r="6" fill="#000"/>
<circle cx="535.15" cy="2290.01" r="6" fill="#000"/>
<circle cx="582.28" cy="2183.5" r="6" fill="#000"/>
<circle cx="573.76" cy="2210.92" r="6" fill="#000"/>
<circle cx="590.27" cy="2226.1" r="6" fill="#000"/>
<circle cx="571.1" cy="2238.88" r="6" fill="#000"/>
<circle cx="592.93" cy="2248.73" r="6" fill="#000"/>
<circle cx="582.28" cy="2255.39" r="6" fill="#000"/>
<circle cx="571.1" cy="2262.85" r="6" fill="#000"/>
<circle cx="592.93" cy="2262.05" r="6" fill="#000"/>
<circle cx="582.28" cy="2276.69" r="6" fill="#000"/>
<circle cx="590.27" cy="2287.34" r="6" fill="#000"/>
<circle cx="573.76" cy="2296.66" r="6" fill="#000"/>
<circle cx="640.33" cy="2051.69" r="6" fill="#000"/>
<circle cx="640.33" cy="2086.84" r="6" fill="#000"/>
<circle cx="640.33" cy="2160.86" r="6" fill="#000"/>
<circle cx="649.38" cy="2177.64" r="6" fill="#000"/>
<circle cx="632.08" cy="2188.29" r="6" fill="#000"/>
<circle cx="632.08" cy="2210.92" r="6" fill="#000"/>
<circle cx="649.38" cy="2222.64" r="6" fill="#000"/>
<circle cx="640.33" cy="2246.6" r="6" fill="#000"/>
<circle cx="632.08" cy="2264.71" r="6" fill="#000"/>
<circle cx="656.84" cy="2271.37" r="6" fill="#000"/>
<circle cx="649.38" cy="2276.69" r="6" fill="#000"/>
<circle cx="632.08" cy="2292.67" r="6" fill="#000"/>
<circle cx="729.26" cy="2053.82" r="5.5" fill="#6699d3" stroke="#000" stroke-width="1.25"/>
<circle cx="745.77" cy="2054.88" r="5.5" fill="#6699d3" stroke="#000" stroke-width="1.25"/>
<circle cx="737.25" cy="2084.44" r="5.5" fill="#6699d3" stroke="#000" stroke-width="1.25"/>
<circle cx="737.25" cy="2105.74" r="5.5" fill="#6699d3" stroke="#000" stroke-width="1.25"/>
<circle cx="737.25" cy="2154.21" r="5.5" fill="#6699d3" stroke="#000" stroke-width="1.25"/>
<circle cx="737.25" cy="2220.24" r="5.5" fill="#6699d3" stroke="#000" stroke-width="1.25"/>
<circle cx="726.07" cy="2238.62" r="5.5" fill="#6699d3" stroke="#000" stroke-width="1.25"/>
<circle cx="737.25" cy="2249.27" r="5.5" fill="#6699d3" stroke="#000" stroke-width="1.25"/>
<circle cx="748.43" cy="2247.94" r="5.5" fill="#6699d3" stroke="#000" stroke-width="1.25"/>
<circle cx="728.73" cy="2271.37" r="5.5" fill="#6699d3" stroke="#000" stroke-width="1.25"/>
<circle cx="745.77" cy="2274.83" r="5.5" fill="#6699d3" stroke="#000" stroke-width="1.25"/>
<circle cx="737.25" cy="2298.53" r="5.5" fill="#6699d3" stroke="#000" stroke-width="1.25"/>
<circle cx="795.3" cy="2035.18" r="5.5" fill="#6699d3" stroke="#000" stroke-width="1.25"/>
<circle cx="795.3" cy="2054.88" r="5.5" fill="#6699d3" stroke="#000" stroke-width="1.25"/>
<circle cx="795.3" cy="2091.63" r="5.5" fill="#6699d3" stroke="#000" stroke-width="1.25"/>
<circle cx="795.3" cy="2110.27" r="5.5" fill="#6699d3" stroke="#000" stroke-width="1.25"/>
<circle cx="795.3" cy="2151.54" r="5.5" fill="#6699d3" stroke="#000" stroke-width="1.25"/>
<circle cx="803.82" cy="2176.84" r="5.5" fill="#6699d3" stroke="#000" stroke-width="1.25"/>
<circle cx="787.04" cy="2181.63" r="5.5" fill="#6699d3" stroke="#000" stroke-width="1.25"/>
<circle cx="787.04" cy="2225.57" r="5.5" fill="#6699d3" stroke="#000" stroke-width="1.25"/>
<circle cx="803.82" cy="2228.76" r="5.5" fill="#6699d3" stroke="#000" stroke-width="1.25"/>
<circle cx="784.65" cy="2256.72" r="5.5" fill="#6699d3" stroke="#000" stroke-width="1.25"/>
<circle cx="795.3" cy="2266.84" r="5.5" fill="#6699d3" stroke="#000" stroke-width="1.25"/>
<circle cx="807.01" cy="2264.71" r="5.5" fill="#6699d3" stroke="#000" stroke-width="1.25"/>
<circle cx="845.09" cy="2060.21" r="5.5" fill="#6699d3" stroke="#000" stroke-width="1.25"/>
<circle cx="862.4" cy="2059.15" r="5.5" fill="#6699d3" stroke="#000" stroke-width="1.25"/>
<circle cx="853.88" cy="2162.19" r="5.5" fill="#6699d3" stroke="#000" stroke-width="1.25"/>
<circle cx="853.88" cy="2192.82" r="5.5" fill="#6699d3" stroke="#000" stroke-width="1.25"/>
<circle cx="845.09" cy="2240.75" r="5.5" fill="#6699d3" stroke="#000" stroke-width="1.25"/>
<circle cx="870.39" cy="2242.08" r="5.5" fill="#6699d3" stroke="#000" stroke-width="1.25"/>
<circle cx="861.87" cy="2249.27" r="5.5" fill="#6699d3" stroke="#000" stroke-width="1.25"/>
<circle cx="837.1" cy="2262.58" r="5.5" fill="#6699d3" stroke="#000" stroke-width="1.25"/>
<circle cx="845.09" cy="2271.9" r="5.5" fill="#6699d3" stroke="#000" stroke-width="1.25"/>
<circle cx="862.4" cy="2282.82" r="5.5" fill="#6699d3" stroke="#000" stroke-width="1.25"/>
<circle cx="853.88" cy="2303.32" r="5.5" fill="#6699d3" stroke="#000" stroke-width="1.25"/>
<circle cx="912.19" cy="2001.9" r="5.5" fill="#6699d3" stroke="#000" stroke-width="1.25"/>
<circle cx="900.48" cy="2053.02" r="5.5" fill="#6699d3" stroke="#000" stroke-width="1.25"/>
<circle cx="923.64" cy="2052.22" r="5.5" fill="#6699d3" stroke="#000" stroke-width="1.25"/>
<circle cx="912.19" cy="2060.21" r="5.5" fill="#6699d3" stroke="#000" stroke-width="1.25"/>
<circle cx="912.19" cy="2169.38" r="5.5" fill="#6699d3" stroke="#000" stroke-width="1.25"/>
<circle cx="912.19" cy="2190.95" r="5.5" fill="#6699d3" stroke="#000" stroke-width="1.25"/>
<circle cx="912.19" cy="2224.24" r="5.5" fill="#6699d3" stroke="#000" stroke-width="1.25"/>
<circle cx="923.64" cy="2250.6" r="5.5" fill="#6699d3" stroke="#000" stroke-width="1.25"/>
<circle cx="900.48" cy="2256.19" r="5.5" fill="#6699d3" stroke="#000" stroke-width="1.25"/>
<circle cx="912.19" cy="2262.58" r="5.5" fill="#6699d3" stroke="#000" stroke-width="1.25"/>
<circle cx="920.45" cy="2295.33" r="5.5" fill="#6699d3" stroke="#000" stroke-width="1.25"/>
<circle cx="903.67" cy="2308.65" r="5.5" fill="#6699d3" stroke="#000" stroke-width="1.25"/>
<circle cx="1009.38" cy="2149.68" r="5.5" fill="#f58a25" stroke="#000" stroke-width="1.25"/>
<circle cx="1000.86" cy="2188.29" r="5.5" fill="#f58a25" stroke="#000" stroke-width="1.25"/>
<circle cx="1017.64" cy="2190.95" r="5.5" fill="#f58a25" stroke="#000" stroke-width="1.25"/>
<circle cx="1009.38" cy="2215.98" r="5.5" fill="#f58a25" stroke="#000" stroke-width="1.25"/>
<circle cx="998.2" cy="2241.28" r="5.5" fill="#f58a25" stroke="#000" stroke-width="1.25"/>
<circle cx="1020.83" cy="2239.41" r="5.5" fill="#f58a25" stroke="#000" stroke-width="1.25"/>
<circle cx="1009.38" cy="2255.39" r="5.5" fill="#f58a25" stroke="#000" stroke-width="1.25"/>
<circle cx="997.67" cy="2290.01" r="5.5" fill="#f58a25" stroke="#000" stroke-width="1.25"/>
<circle cx="1003.53" cy="2290.81" r="5.5" fill="#f58a25" stroke="#000" stroke-width="1.25"/>
<circle cx="1020.83" cy="2290.01" r="5.5" fill="#f58a25" stroke="#000" stroke-width="1.25"/>
<circle cx="1009.38" cy="2303.32" r="5.5" fill="#f58a25" stroke="#000" stroke-width="1.25"/>
<circle cx="1014.98" cy="2301.99" r="5.5" fill="#f58a25" stroke="#000" stroke-width="1.25"/>
<circle cx="1067.43" cy="2095.09" r="5.5" fill="#f58a25" stroke="#000" stroke-width="1.25"/>
<circle cx="1067.43" cy="2134.77" r="5.5" fill="#f58a25" stroke="#000" stroke-width="1.25"/>
<circle cx="1067.43" cy="2151.54" r="5.5" fill="#f58a25" stroke="#000" stroke-width="1.25"/>
<circle cx="1056.51" cy="2212.79" r="5.5" fill="#f58a25" stroke="#000" stroke-width="1.25"/>
<circle cx="1078.61" cy="2213.59" r="5.5" fill="#f58a25" stroke="#000" stroke-width="1.25"/>
<circle cx="1067.43" cy="2217.58" r="5.5" fill="#f58a25" stroke="#000" stroke-width="1.25"/>
<circle cx="1067.43" cy="2237.55" r="5.5" fill="#f58a25" stroke="#000" stroke-width="1.25"/>
<circle cx="1067.43" cy="2262.05" r="5.5" fill="#f58a25" stroke="#000" stroke-width="1.25"/>
<circle cx="1056.51" cy="2277.49" r="5.5" fill="#f58a25" stroke="#000" stroke-width="1.25"/>
<circle cx="1067.43" cy="2279.36" r="5.5" fill="#f58a25" stroke="#000" stroke-width="1.25"/>
<circle cx="1078.61" cy="2275.89" r="5.5" fill="#f58a25" stroke="#000" stroke-width="1.25"/>
<circle cx="1067.43" cy="2303.32" r="5.5" fill="#f58a25" stroke="#000" stroke-width="1.25"/>
<circle cx="1117.22" cy="2178.7" r="5.5" fill="#f58a25" stroke="#000" stroke-width="1.25"/>
<circle cx="1134" cy="2181.37" r="5.5" fill="#f58a25" stroke="#000" stroke-width="1.25"/>
<circle cx="1115.09" cy="2245.54" r="5.5" fill="#f58a25" stroke="#000" stroke-width="1.25"/>
<circle cx="1137.19" cy="2250.6" r="5.5" fill="#f58a25" stroke="#000" stroke-width="1.25"/>
<circle cx="1125.74" cy="2254.06" r="5.5" fill="#f58a25" stroke="#000" stroke-width="1.25"/>
<circle cx="1137.19" cy="2288.68" r="5.5" fill="#f58a25" stroke="#000" stroke-width="1.25"/>
<circle cx="1108.7" cy="2299.33" r="5.5" fill="#f58a25" stroke="#000" stroke-width="1.25"/>
<circle cx="1115.09" cy="2304.12" r="5.5" fill="#f58a25" stroke="#000" stroke-width="1.25"/>
<circle cx="1125.74" cy="2300.66" r="5.5" fill="#f58a25" stroke="#000" stroke-width="1.25"/>
<circle cx="1137.19" cy="2305.98" r="5.5" fill="#f58a25" stroke="#000" stroke-width="1.25"/>
<circle cx="1125.74" cy="2317.97" r="5.5" fill="#f58a25" stroke="#000" stroke-width="1.25"/>
<circle cx="1184.06" cy="2104.41" r="5.5" fill="#f58a25" stroke="#000" stroke-width="1.25"/>
<circle cx="1184.06" cy="2176.31" r="5.5" fill="#f58a25" stroke="#000" stroke-width="1.25"/>
<circle cx="1184.06" cy="2196.81" r="5.5" fill="#f58a25" stroke="#000" stroke-width="1.25"/>
<circle cx="1175.8" cy="2228.76" r="5.5" fill="#f58a25" stroke="#000" stroke-width="1.25"/>
<circle cx="1192.31" cy="2244.21" r="5.5" fill="#f58a25" stroke="#000" stroke-width="1.25"/>
<circle cx="1184.06" cy="2269.5" r="5.5" fill="#f58a25" stroke="#000" stroke-width="1.25"/>
<circle cx="1171.81" cy="2292.67" r="5.5" fill="#f58a25" stroke="#000" stroke-width="1.25"/>
<circle cx="1178.46" cy="2295.86" r="5.5" fill="#f58a25" stroke="#000" stroke-width="1.25"/>
<circle cx="1189.65" cy="2292.67" r="5.5" fill="#f58a25" stroke="#000" stroke-width="1.25"/>
<circle cx="1195.77" cy="2290.01" r="5.5" fill="#f58a25" stroke="#000" stroke-width="1.25"/>
<circle cx="1184.06" cy="2305.18" r="5.5" fill="#f58a25" stroke="#000" stroke-width="1.25"/>
<circle cx="1184.06" cy="2326.49" r="5.5" fill="#f58a25" stroke="#000" stroke-width="1.25"/>
<circle cx="1272.99" cy="2045.57" r="5.5" fill="#8c4b9d" stroke="#000" stroke-width="1.25"/>
<circle cx="1289.5" cy="2043.7" r="5.5" fill="#8c4b9d" stroke="#000" stroke-width="1.25"/>
<circle cx="1280.98" cy="2128.38" r="5.5" fill="#8c4b9d" stroke="#000" stroke-width="1.25"/>
<circle cx="1289.5" cy="2203.47" r="5.5" fill="#8c4b9d" stroke="#000" stroke-width="1.25"/>
<circle cx="1272.99" cy="2210.66" r="5.5" fill="#8c4b9d" stroke="#000" stroke-width="1.25"/>
<circle cx="1280.98" cy="2239.95" r="5.5" fill="#8c4b9d" stroke="#000" stroke-width="1.25"/>
<circle cx="1272.99" cy="2259.92" r="5.5" fill="#8c4b9d" stroke="#000" stroke-width="1.25"/>
<circle cx="1289.5" cy="2256.72" r="5.5" fill="#8c4b9d" stroke="#000" stroke-width="1.25"/>
<circle cx="1272.99" cy="2282.82" r="5.5" fill="#8c4b9d" stroke="#000" stroke-width="1.25"/>
<circle cx="1289.5" cy="2291.34" r="5.5" fill="#8c4b9d" stroke="#000" stroke-width="1.25"/>
<circle cx="1280.98" cy="2308.11" r="5.5" fill="#8c4b9d" stroke="#000" stroke-width="1.25"/>
<circle cx="1339.56" cy="1983.79" r="5.5" fill="#8c4b9d" stroke="#000" stroke-width="1.25"/>
<circle cx="1331.04" cy="2000.56" r="5.5" fill="#8c4b9d" stroke="#000" stroke-width="1.25"/>
<circle cx="1348.08" cy="2014.41" r="5.5" fill="#8c4b9d" stroke="#000" stroke-width="1.25"/>
<circle cx="1348.08" cy="2048.49" r="5.5" fill="#8c4b9d" stroke="#000" stroke-width="1.25"/>
<circle cx="1331.04" cy="2058.35" r="5.5" fill="#8c4b9d" stroke="#000" stroke-width="1.25"/>
<circle cx="1339.56" cy="2179.5" r="5.5" fill="#8c4b9d" stroke="#000" stroke-width="1.25"/>
<circle cx="1348.08" cy="2186.16" r="5.5" fill="#8c4b9d" stroke="#000" stroke-width="1.25"/>
<circle cx="1331.04" cy="2201.34" r="5.5" fill="#8c4b9d" stroke="#000" stroke-width="1.25"/>
<circle cx="1331.04" cy="2256.72" r="5.5" fill="#8c4b9d" stroke="#000" stroke-width="1.25"/>
<circle cx="1348.08" cy="2270.04" r="5.5" fill="#8c4b9d" stroke="#000" stroke-width="1.25"/>
<circle cx="1339.56" cy="2308.11" r="5.5" fill="#8c4b9d" stroke="#000" stroke-width="1.25"/>
<circle cx="1397.61" cy="2041.04" r="5.5" fill="#8c4b9d" stroke="#000" stroke-width="1.25"/>
<circle cx="1406.13" cy="2053.55" r="5.5" fill="#8c4b9d" stroke="#000" stroke-width="1.25"/>
<circle cx="1389.35" cy="2060.21" r="5.5" fill="#8c4b9d" stroke="#000" stroke-width="1.25"/>
<circle cx="1386.69" cy="2218.11" r="5.5" fill="#8c4b9d" stroke="#000" stroke-width="1.25"/>
<circle cx="1397.61" cy="2222.64" r="5.5" fill="#8c4b9d" stroke="#000" stroke-width="1.25"/>
<circle cx="1408.79" cy="2218.11" r="5.5" fill="#8c4b9d" stroke="#000" stroke-width="1.25"/>
<circle cx="1406.13" cy="2250.6" r="5.5" fill="#8c4b9d" stroke="#000" stroke-width="1.25"/>
<circle cx="1389.35" cy="2262.85" r="5.5" fill="#8c4b9d" stroke="#000" stroke-width="1.25"/>
<circle cx="1397.61" cy="2298.53" r="5.5" fill="#8c4b9d" stroke="#000" stroke-width="1.25"/>
<circle cx="1397.61" cy="2321.43" r="5.5" fill="#8c4b9d" stroke="#000" stroke-width="1.25"/>
<circle cx="1455.92" cy="1961.69" r="5.5" fill="#8c4b9d" stroke="#000" stroke-width="1.25"/>
<circle cx="1455.92" cy="2051.16" r="5.5" fill="#8c4b9d" stroke="#000" stroke-width="1.25"/>
<circle cx="1447.4" cy="2076.99" r="5.5" fill="#8c4b9d" stroke="#000" stroke-width="1.25"/>
<circle cx="1464.44" cy="2090.3" r="5.5" fill="#8c4b9d" stroke="#000" stroke-width="1.25"/>
<circle cx="1455.92" cy="2108.94" r="5.5" fill="#8c4b9d" stroke="#000" stroke-width="1.25"/>
<circle cx="1447.4" cy="2191.48" r="5.5" fill="#8c4b9d" stroke="#000" stroke-width="1.25"/>
<circle cx="1464.44" cy="2205.33" r="5.5" fill="#8c4b9d" stroke="#000" stroke-width="1.25"/>
<circle cx="1455.92" cy="2231.43" r="5.5" fill="#8c4b9d" stroke="#000" stroke-width="1.25"/>
<circle cx="1455.92" cy="2258.05" r="5.5" fill="#8c4b9d" stroke="#000" stroke-width="1.25"/>
<circle cx="1464.44" cy="2295.33" r="5.5" fill="#8c4b9d" stroke="#000" stroke-width="1.25"/>
<circle cx="1447.4" cy="2300.66" r="5.5" fill="#8c4b9d" stroke="#000" stroke-width="1.25"/>
<line x1="446" y1="2244.2" x2="484.3" y2="2244.2" stroke="#000" stroke-width="2.8"/>
<line x1="504.5" y1="2242.9" x2="543.1" y2="2242.9" stroke="#000" stroke-width="2.8"/>
<line x1="562.8" y1="2255.4" x2="601.5" y2="2255.4" stroke="#000" stroke-width="2.8"/>
<line x1="620.9" y1="2216.3" x2="659.5" y2="2216.3" stroke="#000" stroke-width="2.8"/>
<line x1="717.8" y1="2229.6" x2="756.7" y2="2229.6" stroke="#000" stroke-width="2.8"/>
<line x1="776.4" y1="2179" x2="814.5" y2="2179" stroke="#000" stroke-width="2.8"/>
<line x1="834.4" y1="2242.1" x2="873" y2="2242.1" stroke="#000" stroke-width="2.8"/>
<line x1="892.5" y1="2207.5" x2="931.1" y2="2207.5" stroke="#000" stroke-width="2.8"/>
<line x1="989.7" y1="2247.9" x2="1028.3" y2="2247.9" stroke="#000" stroke-width="2.8"/>
<line x1="1048" y1="2228" x2="1086.6" y2="2228" stroke="#000" stroke-width="2.8"/>
<line x1="1106.6" y1="2288.7" x2="1145.2" y2="2288.7" stroke="#000" stroke-width="2.8"/>
<line x1="1164.6" y1="2279.9" x2="1203.2" y2="2279.9" stroke="#000" stroke-width="2.8"/>
<line x1="1262.3" y1="2239.4" x2="1300.4" y2="2239.4" stroke="#000" stroke-width="2.8"/>
<line x1="1320.1" y1="2180" x2="1358.7" y2="2180" stroke="#000" stroke-width="2.8"/>
<line x1="1378.2" y1="2220.8" x2="1416.8" y2="2220.8" stroke="#000" stroke-width="2.8"/>
<line x1="1436.5" y1="2191" x2="1475.4" y2="2191" stroke="#000" stroke-width="2.8"/>
<text x="499.49" y="1947.3" style="font-size:16.7px" textLength="50.82" lengthAdjust="spacingAndGlyphs">&lt;0.001</text>
<text x="624.88" y="1947.3" style="font-size:16.7px" textLength="51.44" lengthAdjust="spacingAndGlyphs">&lt;0.001</text>
<text x="755.88" y="1947.3" style="font-size:16.7px" textLength="51.44" lengthAdjust="spacingAndGlyphs">&lt;0.001</text>
<text x="891.05" y="1947.3" style="font-size:16.7px" textLength="41.35" lengthAdjust="spacingAndGlyphs">0.001</text>
<text x="1025.87" y="1947.3" style="font-size:16.7px" textLength="51.64" lengthAdjust="spacingAndGlyphs">&lt;0.001</text>
<text x="1157.34" y="1947.3" style="font-size:16.7px" textLength="42.15" lengthAdjust="spacingAndGlyphs">0.004</text>
<text x="1296.33" y="1947.3" style="font-size:16.7px" textLength="42.73" lengthAdjust="spacingAndGlyphs">0.002</text>
<text x="1432.64" y="1947.3" style="font-size:16.7px" textLength="41.97" lengthAdjust="spacingAndGlyphs">0.001</text>
<text x="447.96" y="1972.6" style="font-size:16.7px" textLength="41.15" lengthAdjust="spacingAndGlyphs">0.001</text>
<text x="570.16" y="1972.6" style="font-size:16.7px" textLength="40.83" lengthAdjust="spacingAndGlyphs">0.001</text>
<text x="701.28" y="1972.6" style="font-size:16.7px" textLength="51.44" lengthAdjust="spacingAndGlyphs">&lt;0.001</text>
<text x="830.36" y="1972.6" style="font-size:16.7px" textLength="40.83" lengthAdjust="spacingAndGlyphs">0.001</text>
<text x="968.06" y="1972.6" style="font-size:16.7px" textLength="52.26" lengthAdjust="spacingAndGlyphs">&lt;0.001</text>
<text x="1100.03" y="1972.6" style="font-size:16.7px" textLength="42.63" lengthAdjust="spacingAndGlyphs">0.010</text>
<text x="1236.93" y="1972.6" style="font-size:16.7px" textLength="42.83" lengthAdjust="spacingAndGlyphs">0.002</text>
<text x="1373.54" y="1972.6" style="font-size:16.7px" textLength="42.1" lengthAdjust="spacingAndGlyphs">0.006</text>
<text x="439.22" y="2361.8" style="font-size:16.7px" transform="rotate(-33 473.1 2361.8)">ATM</text>
<text x="504.37" y="2361.7" style="font-size:16.7px" transform="rotate(-33 531.5 2361.7)">p53</text>
<text x="542.76" y="2361.8" style="font-size:16.7px" transform="rotate(-33 589.9 2361.8)">AMPK</text>
<text x="620.76" y="2361.7" style="font-size:16.7px" transform="rotate(-33 647.9 2361.7)">p38</text>
<text x="711.32" y="2361.8" style="font-size:16.7px" transform="rotate(-33 745.2 2361.8)">ATM</text>
<text x="775.97" y="2361.7" style="font-size:16.7px" transform="rotate(-33 803.1 2361.7)">p53</text>
<text x="814.06" y="2361.8" style="font-size:16.7px" transform="rotate(-33 861.2 2361.8)">AMPK</text>
<text x="892.66" y="2361.7" style="font-size:16.7px" transform="rotate(-33 919.8 2361.7)">p38</text>
<text x="983.52" y="2361.8" style="font-size:16.7px" transform="rotate(-33 1017.4 2361.8)">ATM</text>
<text x="1048.07" y="2361.7" style="font-size:16.7px" transform="rotate(-33 1075.2 2361.7)">p53</text>
<text x="1085.66" y="2361.8" style="font-size:16.7px" transform="rotate(-33 1132.8 2361.8)">AMPK</text>
<text x="1164.26" y="2361.7" style="font-size:16.7px" transform="rotate(-33 1191.4 2361.7)">p38</text>
<text x="1255.12" y="2361.8" style="font-size:16.7px" transform="rotate(-33 1289 2361.8)">ATM</text>
<text x="1320.27" y="2361.7" style="font-size:16.7px" transform="rotate(-33 1347.4 2361.7)">p53</text>
<text x="1358.06" y="2361.8" style="font-size:16.7px" transform="rotate(-33 1405.2 2361.8)">AMPK</text>
<text x="1436.36" y="2361.7" style="font-size:16.7px" transform="rotate(-33 1463.5 2361.7)">p38</text>
<line x1="426.5" y1="2402.3" x2="674.75" y2="2402.3" stroke="#000" stroke-width="5" opacity="0.05"/>
<line x1="427.5" y1="2401.8" x2="673.75" y2="2401.8" stroke="#000" stroke-width="3" opacity="0.06"/>
<line x1="427.5" y1="2400.8" x2="673.75" y2="2400.8" stroke="#8f8f8f" stroke-width="2"/>
<text x="503.56" y="2428.5" style="font-size:21.3px" textLength="108.4" lengthAdjust="spacingAndGlyphs">Inhibitors of</text>
<line x1="702.4" y1="2402.3" x2="950.7" y2="2402.3" stroke="#000" stroke-width="5" opacity="0.05"/>
<line x1="703.4" y1="2401.8" x2="949.7" y2="2401.8" stroke="#000" stroke-width="3" opacity="0.06"/>
<line x1="703.4" y1="2400.8" x2="949.7" y2="2400.8" stroke="#8f8f8f" stroke-width="2"/>
<text x="772.56" y="2428.5" style="font-size:21.3px" textLength="108.4" lengthAdjust="spacingAndGlyphs">Inhibitors of</text>
<line x1="979.4" y1="2402.3" x2="1226.6" y2="2402.3" stroke="#000" stroke-width="5" opacity="0.05"/>
<line x1="980.4" y1="2401.8" x2="1225.6" y2="2401.8" stroke="#000" stroke-width="3" opacity="0.06"/>
<line x1="980.4" y1="2400.8" x2="1225.6" y2="2400.8" stroke="#8f8f8f" stroke-width="2"/>
<text x="1048.15" y="2428.5" style="font-size:21.3px" textLength="109.02" lengthAdjust="spacingAndGlyphs">Inhibitors of</text>
<line x1="1250.2" y1="2402.3" x2="1472.1" y2="2402.3" stroke="#000" stroke-width="5" opacity="0.05"/>
<line x1="1251.2" y1="2401.8" x2="1471.1" y2="2401.8" stroke="#000" stroke-width="3" opacity="0.06"/>
<line x1="1251.2" y1="2400.8" x2="1471.1" y2="2400.8" stroke="#8f8f8f" stroke-width="2"/>
<text x="1319.75" y="2428.5" style="font-size:21.3px" textLength="109.02" lengthAdjust="spacingAndGlyphs">Inhibitors of</text>
<text x="1504.4" y="2120.1" style="font-size:20px" textLength="132.73" lengthAdjust="spacingAndGlyphs">10-day culture</text>
<text x="303.64" y="2136.2" style="font-size:16.7px" textLength="91.3" lengthAdjust="spacingAndGlyphs" transform="rotate(-90 349.6 2136.2)">Fold change</text>
<text x="244.46" y="2134.9" style="font-size:16.7px" textLength="247.96" lengthAdjust="spacingAndGlyphs" transform="rotate(-90 368.2 2134.9)">%Cytokine/CD8 treated/untreated</text>
</svg></body></html>
